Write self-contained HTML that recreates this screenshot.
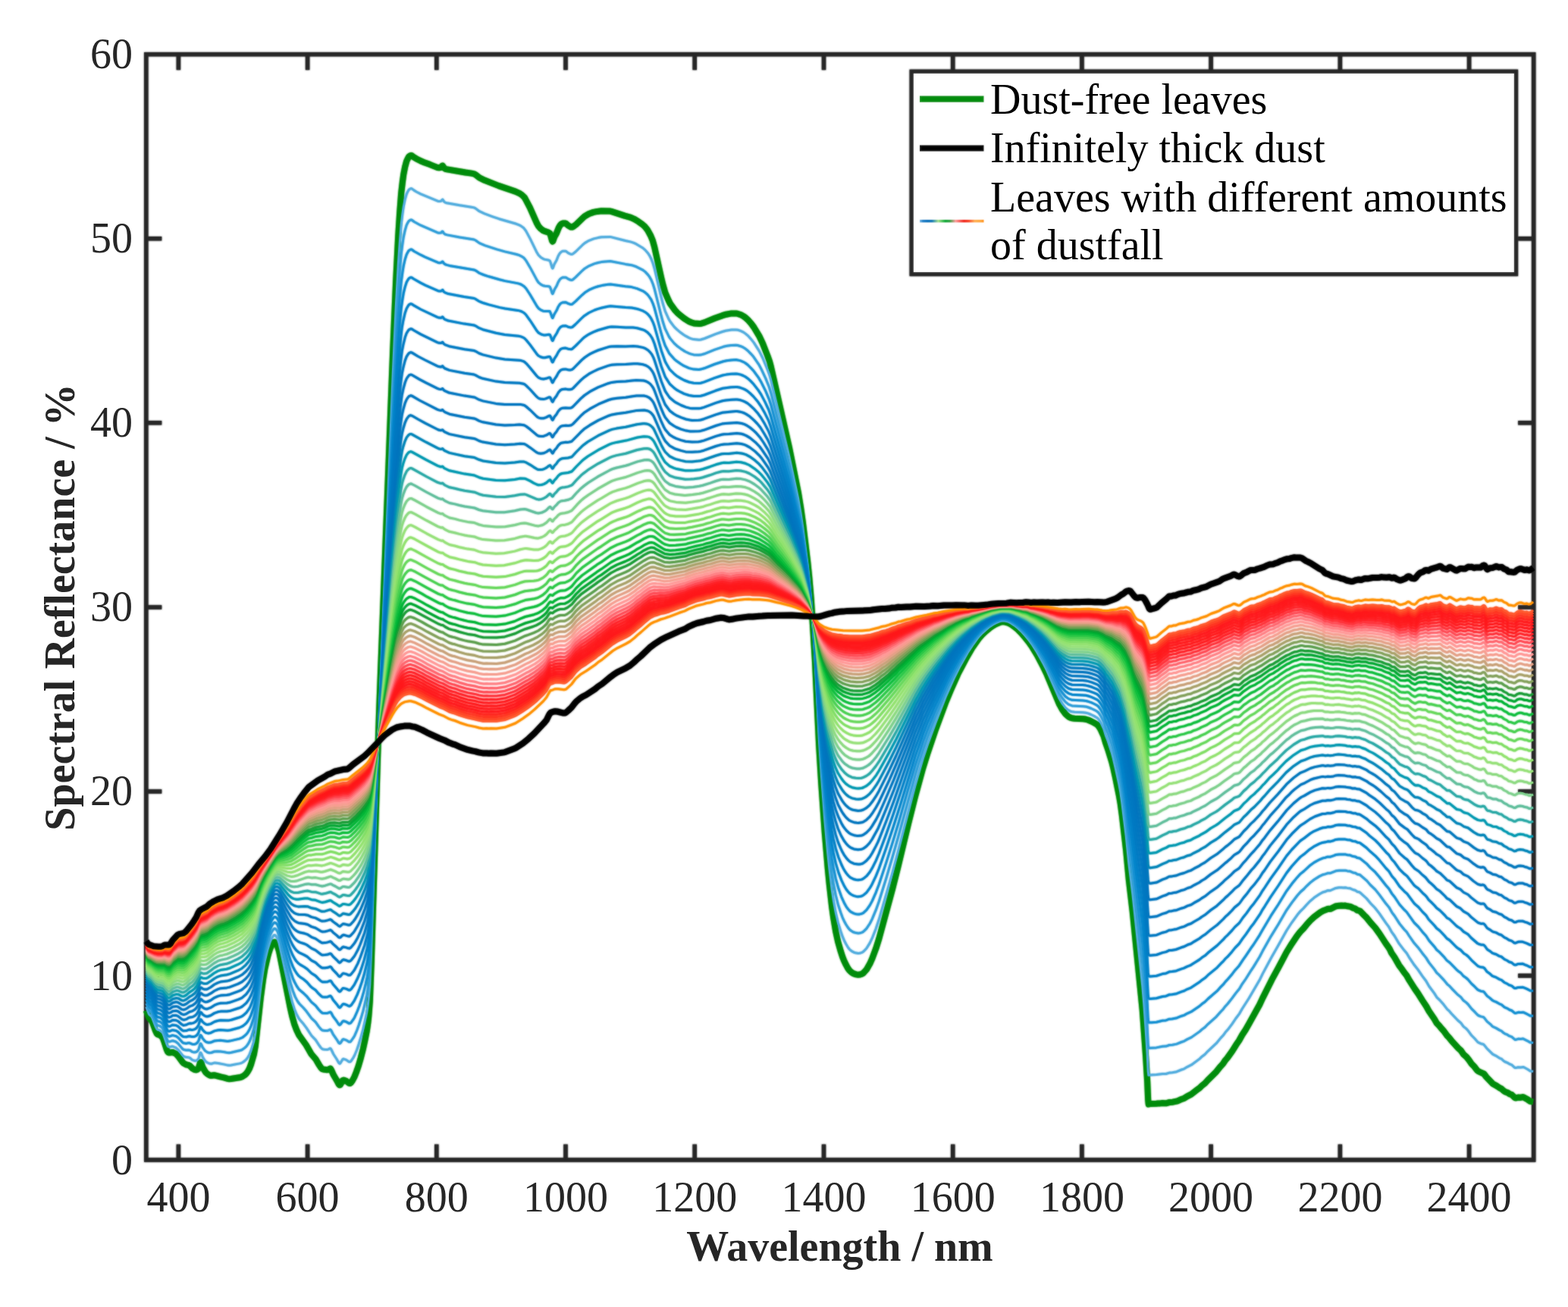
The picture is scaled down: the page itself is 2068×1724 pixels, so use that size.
<!DOCTYPE html>
<html lang="en"><head><meta charset="utf-8"><title>Spectral reflectance of leaves with dustfall</title>
<style>html,body{margin:0;padding:0;background:#fff}svg{display:block}</style></head>
<body>
<svg width="2068" height="1724" viewBox="0 0 2068 1724">
<rect width="2068" height="1724" fill="#fff"/>
<defs>
<filter id="bl" x="0" y="0" width="2068" height="1724" filterUnits="userSpaceOnUse"><feGaussianBlur stdDeviation="1.0"/></filter>
<linearGradient id="g" x1="0" x2="1" y1="0" y2="0"><stop offset="0" stop-color="#7ab8e6"/><stop offset="0.05" stop-color="#1a80c8"/><stop offset="0.12" stop-color="#0070bc"/><stop offset="0.19" stop-color="#0a78b8"/><stop offset="0.29" stop-color="#a6e08c"/><stop offset="0.4" stop-color="#00a830"/><stop offset="0.47" stop-color="#30a040"/><stop offset="0.56" stop-color="#ff9c9c"/><stop offset="0.69" stop-color="#f02014"/><stop offset="0.76" stop-color="#f84020"/><stop offset="0.86" stop-color="#ffb050"/><stop offset="0.95" stop-color="#ffa838"/><stop offset="1" stop-color="#ff9010"/></linearGradient>
<g id="fig">
<g stroke="#262626" stroke-width="5.5" fill="none">
<rect x="192.8" y="71.7" width="1829.9" height="1458.3"/>
<path d="M235.4 1530.0v-20.5M235.4 71.7v20.5M405.6 1530.0v-20.5M405.6 71.7v20.5M575.8 1530.0v-20.5M575.8 71.7v20.5M746.0 1530.0v-20.5M746.0 71.7v20.5M916.2 1530.0v-20.5M916.2 71.7v20.5M1086.5 1530.0v-20.5M1086.5 71.7v20.5M1256.7 1530.0v-20.5M1256.7 71.7v20.5M1426.9 1530.0v-20.5M1426.9 71.7v20.5M1597.1 1530.0v-20.5M1597.1 71.7v20.5M1767.4 1530.0v-20.5M1767.4 71.7v20.5M1937.6 1530.0v-20.5M1937.6 71.7v20.5M192.8 1287.0h20.5M2022.7 1287.0h-20.5M192.8 1043.9h20.5M2022.7 1043.9h-20.5M192.8 800.9h20.5M2022.7 800.9h-20.5M192.8 557.8h20.5M2022.7 557.8h-20.5M192.8 314.8h20.5M2022.7 314.8h-20.5"/>
</g>
<g fill="none" stroke-linejoin="round" stroke-linecap="butt">
<path d="M192.8 1332.8l3.4 9.5 1 1.5 2.6 2.4 1 1.7 4 11.1 2 4.3 1 1.1 2.4 .6 1 .5 2.6 2.4 1 1.4 1.4 3.8 3.6 11.1 1.4 3.3 1 .8 1 .2 1.6-.1 2-.5 1 .1 4 1.8 3 3.1 6 8.1 1.4 1.5 3.6 1.8 2.4 .5 1.6 .6 1 .8 2 2.2 1.4 1.2 2.6 1.5 2 .2 1.4-.5 1.6-1.5 2-7 .4-1.1 .6-.1 1 2 1.4 4.3 3.6 6.3 1 1.3 2 1.7 2 1.3 2 .8 1.4 0 2.6-.5 1.4 0 7.6 2.1 5.4 1.2 3.6 1.2 2 .4 3-.2 11-1.7 2-.5 2-.8 3-2 2-1.9 2-2.7 2-3.6 2.4-6.3 3.6-12.5 2-11.1 7-64.3 3-22.4 2.4-14.9 3.6-15.5 1.4-5.4 2-5.9 1.6-3.6 2-3.4 1.4-1.7 1-.3 1.6 1.4 2 3.5 2.4 8 14.6 73.7 2.4 10.9 3 10.8 3 8 3 6.3 9.6 13.4 7 12.2 5.4 6.1 4.6 7.8 2.4 3.7 1.6 1.7 1 .4 2 .4 4 .4 1-.2 2.4-1.4 .6 0 .4 .4 1 1.9 2.6 5.9 4.4 7.4 2.6 5 1 1 .4 0 .6-.4 3-5.4 1-.7 1.4 .3 2.6 1 3 2.4 1 .5 1 0 1-.8 2-2.8 2.4-4.4 3-7.5 2.6-7.4 3-10.4 3-11.9 2.4-11.1 2.6-13 1.4-9.6 1-8.9 1.6-20.5 2-52.1 8-261 2.4-72.6 18-471.1 4-93.1 3-58.9 2-31.1 2-26.1 1.6-13.9 1.4-10.5 2-10.2 2-7.4 1.6-3.4 1.4-2.5 1.6-1.2 1.4-.5 1 .3 2.6 2 3 1.9 6 3.1 5.4 2.3 7 2.5 10 4 2 .2 2.6-.4 1.4-2.1 .6-.2 2 3.1 1 .8 1.4 .6 25.6 4.4 8 1.1 3.4 .7 2 1.1 5 4 7 3.4 18.6 7.3 22 7.5 6 2.8 2.4 1.7 2 1.8 1.6 1.7 1.4 2.4 5.6 10.7 9.4 21.1 2 3.6 3 3.3 3 2.3 2 .9 5 1.6 2 1.3 1 2.6 2 7.2 .6 .9 .4-.4 2-5.6 2.6-4.5 3-7.5 2-3.5 1.4-1.4 2-1 3.6 0 1 .5 2.4 2.2 2.6 1.6 1.4 .7 1.6 0 1.4-.8 3.6-2.7 9-8.7 2.4-2.2 5.6-3.2 6-2.1 5-1 5.4-.6 11 .2 2 .4 17.6 5.7 8 2.2 4.4 2 6 3.6 5 3.6 2.6 2.2 2.4 2.8 2 2.7 4 7.3 2.6 6.2 2.4 8.8 8.6 39 2.4 10.1 3 10.7 4.6 10.6 2 4 6 8.3 3.4 3.7 4.6 4 4 3.2 3 2 4.4 2.7 3 1.2 3 .9 7 .7 2.6-.3 4.4-1.4 13.6-5.6 10-3.6 5-1.5 7-1.3 6 0 2.4 .5 4 1.4 3.6 1.9 2.4 1.8 3 2.7 4.6 5.2 3.4 4.6 7 11.6 4.6 9.6 6.4 16.4 2.6 7.2 2 7.5 24 106 12 59.7 3.4 20.9 2.6 18.5 6.4 52.6 2 19.4 2.6 30.3 2.4 36.6 2.6 41.7 5.4 113.7 3 49.5 4.6 65.8 4 47.1 2 20.6 3.4 30.1 2 14.4 3 17.7 3 13.8 3.6 12.6 2.4 7.4 2 5.1 2.6 5.4 2.4 4.4 2 2.8 2 1.9 2 1.6 2 1 3 1 2.6 .4 2-.2 2-.6 2-.9 1.4-1.2 3.6-4 4.4-7.6 3-6.6 5-13.5 4-12.7 17.6-65.1 7.4-29.4 14-58.4 8.6-34.4 10-36.6 6-19.3 10.4-30.9 13.6-36.9 7-16.9 9.4-21.1 11.6-22.1 7.4-12.6 8.6-12.3 4.4-5.1 5-4.8 4.6-3.8 5-3.5 3.4-2 6.6-2.7 2.4-.5 3 .2 4.6 1.3 2.4 1.2 5.6 3.8 5 4.2 4 4 5.4 6.4 4.6 5.8 4 5.7 7 11.5 8.4 16 4.6 9.7 16 38.4 4 7.3 4.4 6.2 4 3.5 2.6 1.3 2 .7 3.4 .4 11.6 .6 3.4 .5 2.6 .7 4 1.7 4.4 2.3 3.6 2.1 2 2 3 4.9 4 8.8 2.4 8.6 3 8.4 5 16.3 2 7.8 3 13.8 4.6 22.7 2 11.5 2 14.8 5.4 46.7 3.6 38.5 5 42.5 13 129.7 4.4 61 2 33.6 1 23.6 .6 5.8 .4-.3 1.6-.3 8.4-.2 2.6-.4 2.4 0 3-.4 4.6 .3 5-1.4 4-.2 6-1.3 6-2.7 3-1 4-2.6 5.4-2.7 8.6-6.7 2.4-1.7 3-3 4-3.2 3.6-4 11.4-11.2 5.6-7 3.4-3.8 3-4.5 2.6-2.9 6.4-9 5-8.1 4-5.8 4-7.2 4.6-7 4.4-7.7 14-25.4 4-8.6 12-23.9 9-16.5 10.6-20.2 7-11.3 7-10.4 2.4-3.2 2-2.4 4-4.1 4-4.9 5-5.6 5-4.6 8-6 4-2.2 3.6-1.3 2-1 1-.2 2 .1 1-.1 7.4-3.6 4-.5 3-.1 2.6 .2 2.4-.2 3 .7 4 .6 3 1.7 3 .9 3 2.2 2.6 .6 1 .5 5.4 5.6 3 2.8 5.6 7.1 6 6.6 5.4 7.5 8.6 13.2 3.4 4.7 1.6 2.6 2.4 5.1 4 5.8 6 10.5 4 5.4 3 4.4 3 3.7 3.6 6.4 7 10.9 4.4 6.3 5.6 9 5.4 8.1 3.6 6.6 7 10.2 3 5.2 3.4 3.6 2.6 3.2 3.4 3.7 4.6 6.3 2.4 2.5 3 3.8 9 9.9 3.6 3.2 3.4 5 4 3.5 3 3.8 3.6 5.2 4 4.1 3.4 4.6 1.6 1.2 4 1.9 2.4 .9 1 .6 3 4 8.6 9 4 2.2 5 3.3 2.4 1.1 3 2.8 1.6 1 3.4 1.3 2.6 1.7 3 1.1 4 3.9 1.4 .4 3-.8 3.6 .2 2.4-.6 1 .1 6 3.4 3 2.1 4 .8" stroke="#008c0a" stroke-width="8.0"/>
<g stroke-width="3.0">
<path d="M192.8 1328l3.4 9.3 1 1.4 2.6 2.3 1 1.6 4 10.7 2 4 1 1 2.4 .6 1 .5 2.6 2.3 1 1.3 1.4 3.5 3.6 10.5 1.4 3.1 1 .8 1 .2 1.6-.2 2-.6 1 0 4 1.5 3 2.7 6 7.6 1.4 1.2 3.6 1.3 2.4 .1 1.6 .4 1 .5 2.4 2.2 2.6 1.2 1.4 .3 1.6-.2 1.4-.8 1.6-1.7 2-6.9 .4-1.1 .6-.1 1 1.7 1.4 3.9 2 3.4 1.6 2.1 2.4 2.1 3.6 1.4 2 .1 3.4-1.1 1.6 0 4 .4 8.4 1.6 4 1 2 .2 2.6-.3 11-2.1 2-.5 2-.9 2.4-1.7 2.6-2.3 2-2.7 2-3.4 2.4-6 3.6-11.9 2-10.5 7-60.1 3-21 2.4-14.1 3.6-14.7 3.4-10.8 1.6-3.5 2-3.4 1.4-1.7 1-.4 1.6 1.1 2 3.1 2.4 7.1 14.6 66.8 2.4 9.8 3 9.6 3 7.2 3 5.5 2 2.6 4 4.5 4 5.3 6.6 10.1 5.4 5.6 4.6 7.1 2.4 3.3 1.6 1.5 1 .4 2 .3 4 .2 1-.2 2.4-1.3 .6 0 .4 .4 1 1.7 2.6 5.5 4.4 6.8 2.6 4.6 1 1 .4 0 .6-.4 3-5.1 1-.6 1.4 .3 2.6 1 3 2.2 1 .4 1-.1 1-.8 3.4-5 1.6-3 3-7.3 2.4-7.2 3-9.9 2.6-9.5 2.4-10.5 2.6-12.1 1.4-9.1 1-8.4 1.6-19.1 2-48.7 10-299.8 18.4-456.4 4-87.9 3-55.8 2-29.5 2-24.7 1.6-13.3 1.4-9.9 2-9.8 2-6.9 1.6-3.3 1.4-2.4 1.6-1.2 1.4-.5 1 .3 2.6 2 3.4 2.1 5.6 2.9 22.4 9.3 2 .3 2.6-.3 1.4-1.9 .6-.2 2 3 1.4 1 2 .6 17 3.1 15.6 2.4 3.4 .7 2 1 5 3.8 7 3.2 10.6 3.9 8.4 2.9 22.6 6.6 3.4 1.4 2.6 1.2 4 2.9 1.4 1.8 1.6 2.3 5.4 10 9 18.4 2 3.2 3 2.9 3 1.9 2 .8 5.6 1.1 1.4 .8 1 2.5 2 6.7 .6 .8 .4-.4 2-5.3 3-5.4 2-5.1 2-3.5 1.6-1.7 1.4-1 1-.3 3.6-.1 1 .4 2.4 2 2.6 1.3 1.4 .5 1.6-.1 1.4-.9 3-2.4 9-8.8 3-2.6 5.6-3.3 6.4-2.4 5.6-1.3 4.4-.8 11.6-.4 20 5.1 7.4 1.6 3 1 3.6 1.6 8.4 5 3.6 2.9 4 4.7 2 3.1 2 3.8 2.4 6.3 2 6.7 8.6 36.7 2.4 9.4 3 10.1 5 10.9 1.6 2.7 5.4 7.1 3.6 3.5 5 4.2 3.4 2.5 3 1.9 4.6 2.4 2.4 1 3.6 1 7 .7 2.4-.3 5-1.5 14.6-5.8 9-3.2 4.4-1.3 7.6-1.2 6-.1 2.4 .4 4 1.3 3.6 1.8 2.4 1.7 3 2.5 4 4.3 4 5 7 11 4.6 9.1 6.4 15.5 2.6 6.9 2 7.1 24 100.4 12 56.5 3.4 19.8 2.6 17.5 6.4 49.8 2 18.3 2.6 28.6 2.4 34.6 2.6 39.3 5.4 107.3 3 46.5 4.6 61.9 4 44.1 2 19.3 3.4 28.2 2 13.6 3 16.5 3 12.9 3.6 11.8 2.4 7 2 4.8 2.6 5 2.4 4.1 2 2.7 2 1.8 2 1.4 2 1 3 .9 2.6 .4 2-.2 2.4-.7 1.6-.7 1.4-1.1 3.6-3.8 4.4-7.1 3-6.2 5-12.7 4-11.9 17.6-61.2 7.4-27.8 22.6-87.2 10.4-36.1 6-18 10.6-29 14-36 10.4-23.1 7-14.1 11-19.6 7.6-11.5 5-6.9 3-3.7 4-4.1 5-4.5 4.4-3.6 4.6-3 3.4-1.8 6.6-2.7 2.4-.4 3 .2 4.6 1.1 2.4 1.2 5.6 3.6 5 3.9 4 3.8 6 6.6 4 4.9 4 5.4 7 10.9 8.4 15.1 4.6 9.1 16 36.3 4 6.9 4.4 5.9 4 3.2 2.6 1.3 2 .6 3.4 .4 11 .5 4 .5 2.6 .7 4 1.6 4.4 2.1 3.6 2.1 2 1.8 3 4.7 4 8.3 2.4 8.2 3 7.8 5 15.2 2 7.4 3 13 4.6 21.2 2 10.7 2 13.9 5.4 43.7 3.6 36.2 5 40.2 13 122.1 2 23.7 2.4 34 2 31.7 1 22.3 .6 5.5 2-.3 8.4-.4 8-1.2 4.6 .1 5-1.6 3.4-.2 5.6-1 6.4-2.7 3.6-1.2 4-2.5 5.4-2.6 11-8.1 3-2.9 4-3 3.6-3.9 11.4-10.6 6-7.3 3-3.1 3-4.2 3-3.3 6-8 4.6-6.8 5-6.7 3.4-6.1 9-14 14-23.9 4-8.2 11.6-21.6 9.4-16.4 10.6-19.1 7-10.7 7.4-10.3 4-4.7 4-3.8 4-4.5 5-5.2 5-4.2 7.6-5.1 4.4-2.3 3.6-1 2-1 1-.2 2 .2 1-.2 7-3.1 4-.7 3.4 0 2.6 .2 2.4-.2 3 .7 3.6 .4 3.4 1.7 3 .7 3 2 2.6 .6 1 .5 8.4 7.7 5.6 6.7 5.4 5.6 6 7.6 8.6 12.5 3.4 4.4 4.6 8.1 3.4 4.6 6 10.2 7 9.1 3 3.4 3 5.1 7 10.5 5 6.3 5.6 8.2 5 6.7 4 7 7 9.4 3 4.9 3.4 3.3 6 6.7 4.6 6 2.4 2.1 3 3.6 8.6 9 4 3.4 3.4 4.7 3 2.3 1.6 1.5 2.4 2.9 3.6 5 4 3.9 4 4.7 1 .7 3.4 1.6 2.6 .6 1.4 .8 3.6 4.6 8 7.9 4 2 5 3.2 2.4 .9 3 2.8 1.6 1 3.4 1.4 2.6 1.6 3 1.1 4 3.7 1.4 .3 3-.9 3.6 .2 3-.5 1 .3 5 2.8 3.4 2.2 4 .6" stroke="#50acde"/>
<path d="M192.8 1323.5l3 8 1 1.7 3 2.8 1 1.6 4 10.1 2 3.8 1 1 2.4 .6 1 .4 2.6 2.1 1 1.3 1.4 3.3 3.6 9.8 1.4 3 1 .8 1 .1 1.6-.2 2-.8 1-.1 4 1.2 3 2.4 5.4 6.5 1 1 1 .6 3.6 .8 2.4-.2 1.6 .1 1 .4 2 1.4 1.4 .6 2 .5 2-.3 1.6-.8 2-2.4 2-6.8 .4-1.1 .6-.1 1 1.5 1.4 3.4 3 4.2 2.6 1.9 1.4 .7 2 .4 2.6-.2 4-1.5 4-.2 4 .3 5.4 .7 3.6 .8 2.4 .1 3-.5 10.6-2.4 2-.5 2-1 2.4-1.7 2.6-2.3 2-2.6 2-3.4 2.4-5.7 3.6-11.3 2-9.9 7-56.4 3-19.7 2.4-13.2 3.6-14 3.4-10.4 1.6-3.4 2-3.3 1.4-1.8 1-.4 .6 .1 1 .7 2 2.6 2.4 6.4 9.6 40.1 5.4 22.2 3 9.9 3 7.8 3 5.8 2.6 3.6 5 5 4.4 5.1 6.6 9.1 5.4 4.9 4 5.8 3 3.6 2 1.6 3 .5 3.6 0 3.4-1.5 .6 0 .4 .3 1 1.6 2 4.2 5 7.1 2.6 4.3 1 .9 .4 0 1-.9 2.6-4.2 1-.6 1.4 .3 2.6 1 3.4 2.2 1.6 0 1-.8 3.4-4.8 1.6-2.8 3-6.9 2.4-6.8 3-9.4 2.6-9 2.4-9.8 2.6-11.4 1.4-8.6 1-7.8 1.6-18 2-45.5 10-280.7 18.4-429.8 4-83.2 3-52.7 2-27.9 2-23.5 1.6-12.6 1.4-9.4 2-9.3 2-6.7 1.6-3.1 1.4-2.3 1.6-1.1 1.4-.5 1 .3 3 2.3 8.6 4.7 22.4 9.7 2 .3 2.6-.2 1.4-1.7 .6-.1 .4 .5 1 1.8 1 1 1 .6 2.6 .8 16.4 3.1 19 3 2 1 5 3.6 7.6 3.2 15.4 5.1 10.6 3 15.4 3.6 3.6 1.2 2.4 1.1 3.6 2.3 1.4 1.6 1.6 2.1 5.4 9.1 9 16.7 2 3 3 2.5 3 1.6 2.6 .6 5 .4 1.4 .6 1 2.3 2 6.3 .6 .7 .4-.4 2-5.1 3-5.1 2-4.8 2-3.4 1.6-1.6 2-1.1 4-.2 1 .3 2.4 1.7 2.6 1.1 1.4 .4 1.6-.2 1-.6 3.4-3 9-8.8 3-2.6 5.6-3.4 7-2.9 5-1.4 4.4-.9 11.6-1.1 20 3.9 8 1.3 6.4 2.1 8 4 3.6 2.6 4 4.2 2 2.8 2 3.5 2.4 5.8 2 6.4 8.6 34.3 2.4 8.9 3 9.4 5 10.2 1.6 2.5 5.4 6.5 3.6 3.3 5 3.7 4 2.7 2.4 1.4 4.6 2.1 2 .8 4 1 7 .4 2.4-.2 4.6-1.3 13.4-5.4 12-4.1 4.6-1 5.4-.8 6.6-.2 2 .2 4 1.2 3.4 1.5 3 1.9 3 2.4 4 4.1 3.6 4 7 10.2 3.4 6.3 5.6 12 4.4 10.9 2.6 8.2 24 95.1 11.4 51.2 3.6 18 3 19.6 6 43.2 2.4 21.2 2 21.2 3 38.5 2.6 37.2 5.4 101.1 3 43.8 4.6 58.1 4 41.4 2 18.1 3.4 26.5 2 12.7 3 15.4 3 12.2 3.6 11 2.4 6.6 2 4.4 2.6 4.8 2.4 3.8 2 2.5 2 1.7 2 1.3 2 1 3 .8 2.6 .4 2-.2 2.4-.7 1.6-.6 1.4-1.1 3.6-3.5 4.4-6.7 3-5.8 5-12 4-11.2 9.6-30.7 8.4-28.5 7-24.5 22.6-82.1 4.4-15 6.6-20.4 5-14.2 9.4-25 12.6-30.5 5-11.6 9-18.4 7-13.1 11-18.4 7-10.1 5-6.5 3.4-4 4-3.9 5-4.2 4.6-3.4 4.4-2.7 3-1.6 6.6-2.4 2.4-.5 3 .2 4.6 1.1 2.4 1 5.6 3.4 5.4 4.2 3.6 3.2 6.4 6.7 3.6 4.1 4.4 5.8 7.6 11.2 9 15.4 3 5.9 14 30.2 2.4 4.9 3.6 5.7 4.4 5.4 4 3.2 4.6 1.8 15 .8 4 .6 2.4 .7 4 1.5 4 1.8 3.6 2 2 1.7 3 4.4 4 7.9 2.4 7.6 3 7.4 5 14.3 2 6.8 3 12.2 4.6 19.9 2 10 2 13 5.4 41 3 29.6 5.6 42.4 13 115.1 2 22.3 2.4 32.2 2 29.9 1 21.1 .6 5.3 10.4-.5 8-1.6 4.6-.2 4.4-1.6 4-.3 5.6-1.1 6.4-2.6 3.6-1.2 4-2.4 5.4-2.5 11-7.8 3-2.7 4-2.9 4-4.2 11-9.7 6-6.9 3-3 3-4 3-3.2 6-7.6 4.6-6.3 5-6.1 3.4-5.9 5-7.1 7-11.2 3-4.4 8-13.1 4-7.7 11-19.5 9.6-15.6 11-18.9 7-10 7-9.1 4.4-5 4.6-4 3.4-3.7 5-4.7 5-3.9 7-4.3 4.6-2.2 3.4-.8 2.6-1.1 4-.1 7-2.9 4.4-.6 8.6 .1 2.4 .6 3.6 .4 3.4 1.6 3 .5 3 1.8 2.6 .5 1 .5 9 7.7 4.4 5.2 6.6 6.3 5.4 6.7 8.6 11.7 4 4.8 4 7 3.4 4.4 6.6 10.4 6.4 7.8 3 3.1 3 4.7 7 10.1 5 5.6 5.6 7.5 5 6.2 4 6.5 7 8.7 3 4.5 3.4 3.1 6 6.4 4.6 5.7 3 2.4 3 3.4 7 7.2 5 4.1 3.4 4.4 3.6 2.6 2 1.9 5 6.3 4.4 4.3 3.6 3.9 1 .7 3.4 1.4 2.6 .5 1.4 .7 4 5.2 4.6 3.8 2.4 2.6 1.6 .9 3.4 1.5 4.6 2.8 2.4 .9 3 2.8 1.6 1 3 1.1 3 2 3 1 4 3.5 1.4 .2 3.6-1.1 3 .2 3-.4 5.4 2.7 4 2.3 4 .5" stroke="#2d9dd8"/>
<path d="M192.8 1319l3 7.8 1 1.7 3 2.7 1 1.5 4 9.6 2 3.6 1.4 1.2 2 .3 1 .5 2.6 1.9 1 1.1 1.4 3.1 3.6 9.3 1.4 2.8 1 .8 1.6 .1 3-1.2 1-.2 4.4 1.1 2.6 1.9 5 5.5 2 1.7 4 .6 2.4-.6 2 0 3 1.4 2 .3 1.6-.1 1.4-.5 1.6-1.1 2-2.6 2-6.7 .4-1 .6-.2 1 1.3 1.4 3 3 3.6 1 .8 1.6 .8 2.4 .5 2.6-.2 5-2.1 4.4-.6 3.6-.1 9.4 1.1 3-.3 12.6-3 2.4-.9 1.6-.7 2.4-1.9 2.6-2.2 2-2.6 2-3.3 2.4-5.5 3.6-10.7 2-9.4 7-52.9 3-18.5 2-10.2 3.4-13.9 3.6-10.4 2-4.6 1.4-2.5 1.6-2.1 1-.8 .4-.2 1.6 .6 2 2.2 2.4 5.7 10 38.1 5 18.1 3 8.8 2.6 5.8 3 5.3 2.4 3.4 2 1.9 4 3.3 4 3.8 6.6 8.1 5.4 4.4 4 5.2 3 3.3 2 1.5 3 .3 3.6-.2 3.4-1.3 .6-.1 .4 .3 1 1.4 2 3.9 5 6.6 2.6 4 1 .8 .4 0 1-.9 2.6-3.8 1-.6 1.4 .3 2.6 .9 3.4 2 1.6-.1 1-.7 3.4-4.7 1.6-2.7 3.4-7.7 2.6-6.7 3-9 3-10.4 2.4-9.8 2-9.1 2-13 1.6-16.8 2-42.6 10-263 18.4-404.7 4-78.6 3-49.9 2-26.4 2-22.2 1.6-12 1.4-9 2-8.8 2-6.3 1.6-3 1.4-2.3 1.6-1 1.4-.5 1 .3 3 2.3 8.6 4.7 6 2.9 17 7.3 2 .3 2-.1 1.4-1.5 .6-.2 .4 .5 1 1.8 1 .9 1 .7 2.6 .8 3 .8 13.4 2.4 19 3.1 2 .9 4 2.8 2 1.1 4.6 1.8 7 2.3 14 4 7.4 1.8 16 3 3 .8 2.6 1.1 3.4 2.2 2.6 2.8 5.4 8.3 9 15.2 2 2.7 3 2.1 3 1.4 2.6 .4 5-.2 1.4 .4 1 2.1 2 5.9 .6 .7 .4-.5 2-4.8 3-4.9 2-4.6 2-3.1 1.6-1.6 2-1 4-.3 1 .3 2.4 1.4 2.6 .8 1.4 .3 1.6-.3 4.4-3.8 8.6-8.4 3.4-3 5.6-3.6 7-3 5-1.6 5-1.2 8-1.3 3.4-.3 19.6 2.8 8 .8 7.4 2 7.6 3.2 3.4 2.3 2 1.7 2 2.2 3.6 5.2 2.4 5.4 2 5.9 8.6 32.2 2.4 8.3 3 8.8 5 9.5 1.6 2.3 5.4 6 3.6 3 5 3.4 4.4 2.7 6.6 2.9 6 1.5 7 .3 2.4-.3 4.6-1.3 13.4-5.3 11.6-3.8 4.4-1 6-.8 6.6-.3 2 .3 4 1 3.4 1.4 2.6 1.4 3.4 2.6 4 3.9 4 4.4 6.6 9.1 3.4 5.9 5.6 11.3 4.4 10.4 2.6 7.7 24 90.1 11.4 48.4 3.6 17.1 3 18.6 6 40.8 2.4 20.1 2 20 3 36.4 2.6 35.1 5.4 95.3 3 41.2 4.6 54.6 4 38.9 2 17 3.4 24.8 2 11.9 3 14.5 3.6 13 4 11.3 4 8.7 2.4 4.3 2.6 3.4 2 2.2 2 1.5 3.4 1.7 3 .8 2.6 .4 2-.2 2.4-.6 1.6-.6 1.4-1 3.6-3.4 4.4-6.2 3-5.5 5-11.3 4-10.5 9.6-28.9 9-28.5 8-26.5 11.4-40 10-33.8 10.6-31.8 5-13.3 9.4-23.6 12.6-28.8 5-10.9 9-17.4 7-12.4 11-17.3 7-9.6 5-6.1 3.4-3.8 4-3.7 5-4 4.6-3.2 4.4-2.6 3-1.5 6.6-2.3 2.4-.5 3 .2 4.6 1 2.4 1 5.6 3.2 5.4 3.9 3.6 3 6.4 6.3 3.6 3.9 4.4 5.5 7.6 10.6 9 14.5 3 5.6 14 28.5 2.4 4.7 3.6 5.3 4.4 5.2 4 2.9 4.6 1.7 14.4 .7 4 .5 3 .8 4 1.4 4 1.8 3.6 1.8 2 1.7 3 4.1 4 7.5 2.4 7.2 3 6.9 5 13.3 1.6 4.7 3 11.2 5 20.6 2 9.3 2 12.2 5.4 38.4 3 27.8 5 36.2 13.6 112.5 2 21.1 2.4 30.4 2 28.4 1 19.9 .6 5 4.4 .1 6-.5 8-2 4.6-.4 4.4-1.7 3.6-.2 6.4-1.3 6-2.5 3.6-1.1 4-2.3 5-2.1 11.4-7.8 3-2.6 4-2.8 4-4 12-10.3 5-5.6 3-2.9 3-3.8 3-3.1 6-7.1 4-5.3 5-5.5 4.6-7 4.4-6.2 7-10.6 3-4.1 8-12.4 4-7.2 11-18.5 9.6-14.7 11-17.9 7-9.5 7.4-8.9 4-4.3 4.6-3.6 8.4-7.8 5-3.6 7-3.8 4.6-1.9 3.4-.7 2.6-1 4 0 4.4-1.6 2.6-1.1 4.4-.6 8.6 .2 2.4 .6 3.6 .4 3.4 1.5 3 .3 3 1.7 2.6 .4 1 .4 8.4 6.7 5 5.4 6.6 5.9 5.4 6.3 8.6 11 4 4.6 4 6.6 3.4 4.1 6.6 10 6.4 7.2 3 2.8 10 14.1 5.6 5.5 5 6.3 5 5.6 4 6.2 7 8 3 4.2 4 3.3 6.4 6.9 3 3.8 3.6 2.6 9 9.3 2.4 2.1 3 2 4 4.7 3.6 2.4 2.4 2.1 4.6 5.5 4.4 4.1 3.6 3.7 1 .6 3.4 1.4 2.6 .3 1.4 .6 4 5.3 4 3 3 2.8 1.6 .9 3.4 1.3 4.6 2.7 2.4 .8 4 3.5 3.6 1.5 3 1.9 3 1 4 3.3 1.4 .1 3.6-1.1 3 .1 3-.2 5.4 2.5 4 2.2 4 .2" stroke="#1490d2"/>
<path d="M192.8 1314.7l3 7.6 1 1.7 3 2.6 1 1.4 3.4 8.1 2 3.8 1.6 1.6 2.4 .5 1.6 .7 3 2.6 1.4 2.8 3.6 8.8 1.4 2.6 1 .7 1 .1 1-.1 2.6-1.3 1-.2 4.4 .8 2.6 1.6 5 5.1 2 1.4 4 .2 2.4-.8 2-.3 3 .9 1.6 0 2-.3 1.4-.8 1.6-1.2 2-2.9 2-6.5 .4-1 .6-.3 1 1.1 1.4 2.7 2.6 2.7 2 1.3 2.4 .5 3.6-.5 5-2.5 5-1.1 3-.3 9.4 .7 3.6-.4 12-3.3 4-1.8 2.4-1.8 2.6-2.3 2-2.6 2-3.2 2.4-5.2 3.6-10.3 2-8.8 7-49.7 3-17.4 2-9.7 3.4-13.2 3.6-9.9 2-4.5 1.4-2.4 1.6-2.2 1.4-1.1 1.6 .4 2 1.9 2.4 4.9 1.6 4.6 8.4 29.7 5 16.2 3 7.8 2.6 5.1 3 4.6 2.4 2.8 1.6 1.3 5 3.4 4 3.4 5.4 6.2 1.6 1.3 4.4 3 4 4.7 3.6 3.4 1.4 .9 3.6 .2 3.4-.3 3-1.3 1 .2 1 1.3 2 3.6 5 6 2.6 3.7 1 .8 1-.3 3-4.1 1-.5 1.4 .2 2.6 .9 3 1.6 1.4 .2 1-.5 1-.9 4-5.7 4-8.2 3-7.6 3-8.8 3-10 4-16.1 2-12.2 1.6-15.8 2.4-51.7 9.6-234.5 18.4-381.2 4-74.2 3-47.2 2-25 2-21 1.6-11.3 1.4-8.6 2-8.3 2-6.1 1.6-2.9 1.4-2.1 1.6-1 1.4-.4 1 .3 2.6 1.8 9 5.1 6.4 3.2 16.6 7.4 2 .3 2 0 1.4-1.4 .6-.2 1.4 2.3 1.6 1.2 4.4 1.7 21 3.9 13 2 2 .9 4 2.7 2 .9 4.6 1.8 7 2.1 14.4 3.7 7 1.4 16.6 2.4 3 .7 2.4 .9 3 1.7 2.6 2.6 5.4 7.5 9 13.8 2 2.3 3.6 2.1 3 .9 2.4 0 4.6-.6 1.4 .2 1 1.9 2 5.5 .6 .6 .4-.4 2-4.7 3-4.6 2-4.3 1.6-2.3 1.4-1.8 2.6-1.3 4-.3 1 .2 2.4 1.2 2.6 .6 1.4 .1 1.6-.4 4-3.5 8-8 4-3.6 6-3.9 7.4-3.5 4.6-1.6 5-1.4 8-1.7 3.4-.5 8 .6 12 1.2 8 .4 5 .9 3 .8 7 2.5 3.6 2.1 2 1.6 2 2.1 2 2.6 1.4 2.4 2 4.1 2 5.5 9 31.8 5 14.4 1.6 2.9 4.4 7.5 5.6 5.6 3.4 2.9 5.6 3.4 4.4 2.4 6.6 2.5 6 1.3 7 .2 2.4-.3 4.6-1.3 13.4-5.3 11-3.6 4.6-.9 6.4-.8 6.6-.3 2 .2 4 .9 3.4 1.4 2.6 1.3 3.4 2.4 3.6 3.2 4.4 4.7 6 7.8 3.6 5.5 5 9.5 5 10.6 2.4 6.9 24.6 86.9 11.4 45.9 3.6 16.1 3 17.6 6 38.6 2.4 19.1 2 18.9 3 34.3 2.6 33.1 5.4 89.9 3 38.8 4.6 51.3 4 36.6 2 15.9 3.4 23.3 2 11.1 3 13.6 3.6 12.2 4 10.5 4 8.2 2.4 4 2.6 3.2 2 2.1 2 1.4 3.4 1.6 3 .8 2.6 .3 2-.1 2.4-.6 1.6-.6 1.4-1 3.6-3.1 4.4-5.9 3-5.2 5-10.6 4-9.8 9.6-27.3 9-26.8 9-28.1 20.4-66.4 10.6-29.9 5.4-13.8 9-21 12.6-27.2 5-10.3 9.4-17.3 7-11.6 10.6-15.5 7-9.1 5-5.7 3.4-3.7 3.6-3 5-3.9 5-3.4 4-2.3 3.4-1.6 6-2.2 3-.5 3 .2 5 1 2 .8 5.6 3 5.4 3.7 3 2.4 7 6.4 3.6 3.7 4.4 5.2 7.6 10 9 13.7 3 5.3 14 27 2.4 4.4 3.6 5 4.4 4.8 4 2.8 4.6 1.6 14.4 .7 4 .4 3 .7 4 1.4 4 1.7 3.6 1.7 2 1.6 3 3.9 4 7 2.4 6.8 3 6.5 5 12.5 1.6 4.4 3 10.5 5 19.2 2 8.7 2 11.5 5.4 35.9 3 26.1 5 34.3 13.6 106.2 2 19.8 2.4 28.9 2 26.9 1 18.8 .6 4.8 2 .4 8.4-.7 8-2.3 4.6-.6 4.4-1.9 3.6-.2 6-1.1 6.4-2.6 3.6-1.1 4-2.2 5-2 11-7.2 3.4-2.9 4-2.6 4-3.9 12-9.9 5-5.4 3-2.8 3-3.6 2.6-2.3 6-6.8 4-5 5.4-5.5 4.6-6.7 4.4-5.9 7-10.1 3.6-4.5 8-11.8 3.4-6.1 3-4.5 7.6-12.2 10-14.6 11-17 7-9 7-7.8 4.4-4.6 4.6-3.3 7.4-6.4 6.6-4.3 6.4-3.2 4-1.5 4-.6 3-1 3.6 .1 4-1.2 3-1.3 4-.5 8.4 .2 3 .7 3.6 .3 3.4 1.4 3 .2 3 1.5 2.6 .3 1 .5 8.4 6.2 5 5 6.6 5.6 5.4 5.8 8.6 10.5 4 4.2 4 6.4 3.4 3.7 6.6 9.7 6.4 6.7 3.6 3.1 9.4 12.8 1.6 1.5 4 3.3 5.4 6.4 4.6 4.5 3.4 5.3 7.6 8 3 3.8 4 3 6.4 6.7 3 3.7 3.6 2.2 9 9.1 2.4 1.9 3 1.8 4.6 4.9 3 1.7 2.4 2 4.6 5.1 8 7.4 1 .6 3.4 1.2 2.6 .2 1.4 .6 1 1 3 4.2 4 2.8 3 2.7 1.6 .7 3.4 1.2 4.6 2.7 2.4 .7 4 3.4 3.6 1.6 2.4 1.7 3.6 1.1 3 2.6 1 .6 1.4 0 2-.9 1.6-.3 6-.1 5 2.1 4.4 2.4 4 .1" stroke="#0585cb"/>
<path d="M192.8 1310.6l2.4 6.3 1 2 1 1.2 2.6 2 1 1.4 3.4 7.6 2 3.6 1.6 1.5 3.4 .9 3.6 2.7 1.4 2.6 3.6 8.3 1.4 2.5 1 .6 1 .1 1-.2 2.6-1.4 1-.3 4.4 .5 2.6 1.4 5 4.7 2 1.2 4-.2 2.4-1.1 2-.5 2.6 .5 1.4-.1 2-.5 1.6-.8 2-1.8 2-3.1 2-6.3 .4-1 .6-.3 1 .9 1.4 2.4 2.6 2.3 2 1 2 .3 4-.9 5-2.8 4-1.3 4-.7 8.4 .3 3-.2 3-.7 9.6-2.9 3-1.1 2-1.1 2.4-1.9 2.6-2.3 3.4-4.8 1.6-2.6 1.4-3.3 3-8.2 1.6-5.2 1-4.7 6.4-43.8 3.6-19.4 2.4-11.1 3.6-12.1 3.4-9.2 1.6-3.2 2.4-3.9 1.6-1.6 1-.3 1.4 .6 1.6 1.2 1 1.4 1.4 2.9 1.6 4.1 8 25.1 5 14.6 3 7.2 3 5.4 2.4 3.3 2.6 2.6 2 1.5 5.4 3.1 4 2.8 5.6 5.5 5.4 3.3 4 4.2 3.6 3.2 1.4 .7 3.6 .1 3.4-.4 3-1.2 1 .1 1 1.2 2 3.3 5 5.6 2.6 3.4 1 .7 1-.3 3-3.8 1-.5 4 1 3 1.5 1.4 .2 1-.6 1-.9 4-5.5 4-7.8 3.6-8.5 2.4-7 3-9.4 4-15.2 2-11.6 1.6-14.8 2.4-48.4 9.6-219.8 18.4-358.9 4-70.1 3-44.6 3.6-39 1.4-12.1 1.6-8.8 2.4-10.4 2-5.8 1.6-2.7 1.4-2.1 1-.7 1.6-.7 1.4 .4 2.6 1.8 9 5.1 22 10.4 2 .7 2.4 .2 .6 0 1.4-1.3 .6-.1 1.4 2.1 1.6 1.3 4.4 1.7 21 4.1 13 1.9 2 .8 4.6 2.9 5 2 17.4 4.6 11.6 2.1 18 1.9 3 .6 2.4 .9 2.6 1.4 2.4 2.5 5 6.2 8.6 11.8 2 2.3 3 1.7 3.4 1 2.6 0 5-1.2 1.4 0 1 1.7 2 5.2 .6 .5 .4-.3 2-4.5 3-4.4 2-4.1 1.6-2.2 1.4-1.7 2.6-1.2 4-.4 1 .2 2.4 .9 2.6 .4 1.4 .1 1.6-.5 4.4-4.1 8.6-8.6 3.4-3 4-2.7 3-1.7 4.6-2.2 6-2.4 13-3.7 2.4-.5 2.6-.2 7 .2 11.4 .7 9.6 .1 5.4 .7 7 1.9 3.6 1.5 3.4 2.4 3 3.1 2.6 3.8 1.4 2.9 2 5.1 9 29.8 5 13.4 1.6 2.7 4.4 6.9 5.6 5.2 3.4 2.6 5.6 3.1 4.4 2.2 6.6 2.1 6 1.1 7 0 2.4-.3 4.6-1.3 15-5.7 9.4-3 11-1.5 6-.4 2 .1 4 .8 3 1 3 1.3 3.6 2.2 3.4 2.9 4.6 4.4 6 7.2 3.4 5 5.6 9.8 5 10.1 2.4 6.6 24.6 82.2 11.4 43.4 3.6 15.3 3 16.7 6 36.4 2.4 18 2 17.9 2.6 26.7 3 37 5.4 84.8 3 36.5 4.6 48.2 4 34.3 2 15 3.4 21.8 2 10.5 3 12.7 3.6 11.5 4 9.8 2 4.2 2 3.5 2.4 3.7 2.6 3.1 2 1.9 2 1.3 3.4 1.6 3 .7 2.6 .3 2-.2 2.4-.5 1.6-.6 1.4-.9 3.6-2.9 4.4-5.5 3-4.9 5-10 4-9.3 9.6-25.6 9.4-26.7 9-26.7 20-60.9 10.6-28.2 5.4-13 9-19.9 12.6-25.7 5-9.7 9.4-16.3 7.6-11.7 10.4-14.5 6.6-7.9 5-5.5 3.4-3.4 8.6-6.7 5-3.2 4-2.2 3.4-1.5 6-2.1 3-.5 3 .2 5 .9 2 .7 5 2.6 6 3.8 10 8.3 3.6 3.5 5 5.5 7.4 9.5 8.6 12.4 3.4 5.8 13.6 24.6 2.4 4.2 3.6 4.7 4.4 4.5 4 2.7 4.6 1.5 14.4 .6 4 .4 3 .7 7.6 2.7 4 1.8 2 1.5 3 3.8 4 6.6 2.4 6.4 3 6.1 5 11.6 1.6 4.1 3 9.9 5 17.9 2 8.2 1.4 7.7 6 36.6 3 24.6 5 32.4 6.6 49.5 7 50.8 2 18.8 2.4 27.3 2 25.5 1 17.9 .6 4.6 2 .5 8.4-.8 8-2.6 4.6-.7 4.4-2.1 3.6-.2 5.4-.9 6.6-2.6 3.4-1 4.6-2.3 4-1.4 1.4-.8 3.6-2.4 7-4.3 3.4-2.8 4-2.5 4-3.8 12-9.5 5.6-5.6 2.4-2.3 3-3.4 3-2.7 5.6-5.9 4-4.8 4.4-3.9 1.6-1.7 4.4-6.5 4.6-5.6 6.4-9 3.6-4.2 8-11.1 3.4-5.8 3-4.3 7.6-11.6 10-13.7 11-16.2 7-8.4 10-10.4 2-1.7 4.4-3 8-6.2 5-3 7-3 4.6-1.5 3.4-.2 3-1 3.6 .2 4-1.1 3-1.2 4-.5 8.4 .3 3 .7 3.6 .3 3.4 1.2 3 .2 3 1.3 2.6 .2 1 .5 8.4 5.8 4 3.8 7.6 6.1 5.4 5.5 9 10.4 3.6 3.4 4 6.1 3.4 3.5 6.6 9.3 6.4 6.2 3.6 2.8 9.4 12.2 1.6 1.4 4 2.8 5.4 5.8 4 3.6 1.6 1.8 2.4 3.7 3 2.7 4.6 4.6 3 3.6 4.4 3.2 6.6 6.6 2.4 3 3.6 1.9 9 8.8 2 1.5 3.4 1.9 4 4.2 4 2.3 2 1.4 4 4.4 8.6 7.5 1 .5 3.4 1.2 2.6 0 1.4 .5 1 1 3 4.3 1.6 1.2 2.4 1.4 3 2.5 1.6 .6 3.4 1 4 2.4 3 .9 4 3.4 3.6 1.6 2.4 1.7 3.6 1.1 3 2.5 1 .5 1.4 0 2-1 1.6-.4 5.4-.1 1 .3 2 1 2.6 .9 4 2.1 1 .2 3.4-.2" stroke="#0280c7"/>
<path d="M192.8 1306.7l2.4 6.1 1 1.9 1 1.2 2.6 1.9 1 1.4 3.4 7.2 2 3.4 1.6 1.4 3.4 .9 3.6 2.4 1.4 2.4 3.6 7.8 1.4 2.4 1 .6 1 .1 1.6-.5 2-1.3 1-.4 4.4 .2 2.6 1.2 5 4.3 2 1.1 1 0 3-.6 2.4-1.3 2-.7 2.6 .1 1.4-.3 2-.8 1.6-.9 2-2 2-3.3 2-6.2 .4-1 .6-.3 1 .8 1.4 2.1 2.6 1.9 2 .8 2 .1 4-1.3 5-3.1 4.4-1.6 3.6-.7 8.4 0 3.6-.5 12-3.8 3-1.2 2-1.2 5-4.2 3.4-4.8 3-5.6 3-7.8 1.6-5 1-4.5 6.4-41.2 3.6-18.2 2.4-10.6 3.6-11.5 3.4-8.9 1.6-3.1 2.4-3.9 1.6-1.7 1-.4 1.4 .4 1.6 1 1 1.2 1.4 2.6 1.6 3.6 8.4 23.8 4.6 11.5 3 6.3 3 4.7 2.4 2.8 2.6 2.1 2 1.2 5.4 2.4 4 2.3 5.6 4.9 5.4 2.8 4 3.8 3.6 2.8 1.4 .6 3.6 0 3.4-.5 3-1.2 1 .1 1 1.1 2 3 5 5.1 2.6 3.2 1 .6 1-.2 3-3.6 1-.5 4 1 3 1.4 1.4 0 1-.5 1-.9 3-3.8 1.6-2.3 4-7.7 3.4-8.3 5.6-15.8 4-15.1 2-12.5 1.4-17.5 2-37.9 9.6-206.1 18.4-338 3.6-58.3 3-43.7 2-23.4 2-19.7 1.4-11.5 1.6-8.3 2.4-9.9 2-5.5 1.6-2.7 1.4-1.9 1-.7 1.6-.6 1.4 .3 2.6 1.7 9 5.2 22 10.7 2 .7 2.4 .3 .6 0 1.4-1.2 .6-.1 1.4 2.1 1.6 1.2 5.4 2.1 20.6 4 12.4 1.8 2 .8 4.6 2.7 5 1.9 17.4 4.2 11.6 1.8 19 1.3 2.4 .4 2.6 .8 2 1 2.4 2.2 5 5.6 8.6 10.6 2 2 1 .6 2.4 1 3.6 .5 3.4-.6 4-1.4 1 .1 .6 .5 2.4 5.8 .6 .5 .4-.4 1.6-3.4 3-4.3 2.4-4.6 1.6-2.1 1.4-1.6 2.6-1.1 4-.4 3.4 .8 1.6 .2 2 0 1.4-.3 1.6-1.1 11.4-11.6 4-3.4 4-2.8 3-1.8 4.6-2.3 6-2.6 13-4.1 2.4-.7 2.6-.3 7-.2 11.4 .3 10-.4 5.6 .4 7 1.4 3.4 1.3 3.6 2.3 2.4 2.3 2.6 3.4 2 3.9 1.4 3.6 9 27.8 5 12.6 1.6 2.5 4.4 6.4 5.6 4.7 3 2 6.4 3.3 6.6 2.6 5 1.3 3.4 .4 8.6 0 2.4-.3 4-1.1 16-6 8.6-2.6 4.4-.7 7.6-.8 5.4-.4 2 .1 4.6 .8 2.4 .8 3 1.3 3.6 2 3.4 2.7 4.6 4.2 6 6.8 3.4 4.7 5.6 9.3 5 9.5 2.4 6.2 24.6 77.9 11.4 41.1 3.6 14.4 3 15.8 6 34.5 2.4 17 2 16.9 2.6 25.2 3 35 5.4 79.9 3 34.3 4.6 45.4 4 32.2 2 14 3.4 20.6 2 9.7 3 11.9 3 9.5 3.6 8.5 2.4 5 2 3.5 2.6 3.6 3 3.5 2 1.8 2 1.2 3.4 1.5 5.6 .9 2-.1 2.4-.5 1.6-.5 1.4-.9 3.6-2.8 4.4-5.1 3-4.7 5-9.4 2.6-5.2 2-4.8 9-22.8 10-26.5 8.4-23.8 20-57.5 10-25.3 5.6-12.4 9.4-19.8 12.6-24.3 5-9.1 9.4-15.5 3.6-5.4 5-7 11.4-14.7 5.6-6.1 8-7.8 8-5.9 5-3.1 4-2.1 3.4-1.4 6-2 3-.5 3 .2 5 .8 2 .7 5 2.4 6.6 4 9.4 7.4 3 2.8 5.6 5.8 7.4 8.9 8.6 11.7 3.4 5.5 13.6 23.3 2.4 3.9 3.6 4.4 4.4 4.3 4 2.5 4.6 1.5 14 .4 4.4 .5 3 .6 5 1.6 5.6 2.3 1.4 .7 1.6 1.1 3 3.6 4 6.3 2.4 6 3 5.7 5.6 12 4.4 13.6 4.6 15.1 2 7.6 1.4 7.3 6 34.2 3 23.1 5 30.8 6.6 46.9 7 47.8 2 17.7 2.4 26 2 24.2 1 16.9 .6 4.4 2 .7 8.4-.8 8-2.9 4.6-1 4-2 3.4-.2 5.6-.9 7-2.7 3.4-1 5-2.5 4.6-1.5 4-2.7 7-4.1 3.4-2.7 4-2.5 7.6-6.4 8.4-6.3 8-7.6 3-3.3 3-2.6 5.6-5.6 3.4-4 5-4 1.6-1.5 5-7 4-4.7 6.4-8.6 3.6-3.9 8-10.5 3.4-5.5 2.6-3.3 7.4-11.1 10.6-13.7 11-15.4 3.4-3.7 3.6-4.2 10-9.8 2-1.6 4.4-2.7 7.6-5.4 6.4-3.4 10-3.5 4-.1 3-.9 3.6 .2 4-.9 3-1.2 4-.4 8.4 .3 3 .7 3.6 .3 3.4 1.2 3 0 3 1.2 2.6 .2 1.4 .7 8 5.1 4 3.6 7.6 5.7 6 5.7 8.4 9.3 3.6 3.2 4 5.8 3.4 3.2 6.6 9.1 6.4 5.7 3.6 2.5 6.4 8.1 3.6 4 5.4 3.5 5 4.9 4 3.3 4.6 5.7 2.4 1.9 4.6 4.3 3 3.3 4.4 2.9 6.6 6.4 2.4 2.9 1 .6 2.6 1.1 9.4 9 5 2.6 4 3.9 6 3.4 4 4.1 8.6 7.1 1 .6 3.4 1.1 2.6-.2 1.4 .5 1 1 3 4.3 1.6 1.1 2.4 1.2 3 2.4 1.6 .6 3.4 .8 4 2.4 3 .8 4 3.4 3 1.2 3 2.1 3.6 1.1 3.4 2.6 1.6 .2 2.4-1.1 2-.5 5 0 5.6 2 4 2.1 1 .2 3.4-.4" stroke="#007ac3"/>
<path d="M192.8 1302.9l2.4 6 1 1.9 1 1.1 2 1.4 1 1 4 7.6 2 3.2 1.6 1.4 3.4 .8 3.6 2.2 1.4 2.2 3.6 7.3 1.4 2.3 1 .5 1 .1 1.6-.5 3-1.9 4.4-.2 2.6 1 5 4.1 2 .8 1 0 3-.8 2.4-1.6 2-.9 3.6-.4 2.4-1.2 1.6-1.1 2-2.2 2-3.5 2-6 .4-1 .6-.3 1 .6 1.4 1.9 2 1.4 2 .7 2 .1 4.6-1.7 5-3.3 4.4-1.8 3.6-.9 8.4-.3 3.6-.6 11.4-3.9 3.6-1.5 2-1.2 5-4.3 3.4-4.7 3-5.4 3-7.5 1.6-4.8 1-4.2 6.4-38.8 3.6-17.2 2.4-10 3.6-11 3.4-8.6 1.6-3 2.4-4 1.6-1.7 1-.5 1.4 .2 1.6 .8 1 1 1.4 2.2 1.6 3.2 8.4 21.2 4.6 10.1 2.4 4.7 3 4.2 2.6 2.5 2.4 1.8 2.6 1.2 6 1.9 3.4 1.7 5.6 4.2 5.4 2.4 4.6 3.7 3.4 2.4 1 .3 3.6-.1 3.4-.6 3-1.2 1 .1 1 1 2 2.7 5 4.7 2.6 3 1 .6 1-.3 3-3.3 1-.5 4 1 3 1.2 1.4 0 1-.6 1-.9 3-3.7 1.6-2.2 4-7.3 3.4-7.8 5.6-15.1 4-14.2 2-11.8 1.4-16.4 2-35.5 9.6-193.3 8-135 10.4-183.3 4-62.5 3-39.7 3.6-34.9 1.4-10.8 1.6-8 2.4-9.4 2-5.2 1.6-2.5 1.4-1.9 1-.7 1.6-.6 1.4 .4 8 4.9 9.6 5 16 7.8 2 .8 2.4 .4 .6 0 1.4-1.1 .6-.1 1.4 2 1.6 1.2 6 2.4 20 3.9 12.4 1.8 2 .8 4.6 2.6 5 1.8 17.4 3.8 11.6 1.5 19.4 .6 5 1 2 1 2 1.7 5 4.9 8.6 9.4 2 1.8 1 .5 2.4 .8 3.6 .3 3-.7 4-1.8 1.4-.2 .6 .4 2.4 5.4 .6 .5 .4-.4 2-4.1 2.6-3.2 2.4-4.4 3-3.5 1.6-.8 1.4-.4 4-.3 3 .6 2.6 .1 2.4-.5 1.6-1.2 10.4-10.7 4.6-4 7-4.8 5-2.6 6-2.9 13.4-4.7 4.6-1.1 7-.5 11.4-.2 10.6-.8 5 0 7.4 1 3.6 1.2 3.4 2 2.6 2.3 2.4 3.3 1.6 2.8 1.4 3.4 9 25.9 5 11.8 6 8.2 5.6 4.3 3 1.8 6.4 2.9 6.6 2.3 5 1 3 .4 8.4-.1 2.6-.3 4.4-1.3 16-5.8 8.6-2.6 12-1.3 5.4-.4 2 0 4 .7 2.6 .6 3 1.1 3.4 1.9 3.6 2.4 4 3.5 2.4 2.3 3.6 3.8 4 4.9 5.4 8.7 5 8.8 3 6.9 24.6 73.7 11.4 38.9 3.6 13.6 3 14.9 6 32.6 2.4 16.2 2 15.9 2.6 23.8 3 33.1 5.4 75.3 1.6 17 5.4 53.8 2.6 19.8 3.4 24.8 3.6 19.7 2 9.6 3 11.6 3.4 10.5 4 9 4 7 2.6 3.4 3 3.3 2 1.7 2 1.1 3.4 1.4 5.6 .9 4-.5 1.4-.4 1.6-.7 4-2.9 4-4.3 3.4-5 5-8.9 2.6-4.8 2-4.6 8.4-20.3 10.6-26.2 28.4-76.6 10-23.9 5.6-11.6 9.4-18.8 12.6-22.9 5-8.6 10-15.4 8-10.9 6-7.5 6-7 8.4-8.6 4.6-3.9 8-5.7 5.4-3.2 3.6-1.7 3.4-1.4 6-1.9 3-.4 3 .1 5 .8 2 .6 5 2.3 6.6 3.7 10 7.4 8.4 8.2 7 8 8.6 11 3.4 5.2 13.6 22 2.4 3.7 3.6 4.2 4.4 4 4 2.4 4.6 1.4 14 .4 4.4 .4 3 .6 5 1.5 5.6 2.2 1.4 .7 1.6 1 2.4 2.8 4.6 6.5 2.4 5.7 3 5.4 5.6 11.2 4.4 12.7 4.6 14.1 2 7.1 1.4 6.8 6 32.1 3 21.7 5 29.1 6.6 44.6 6 38 1.4 10.8 4 37.6 2 22.9 1 16.1 .6 4.3 2 .8 8.4-.9 8-3.2 4.6-1.1 4-2.1 3.4-.3 3-.6 2.6-.3 7-2.6 4-1.1 4.4-2.3 4.6-1.5 4-2.6 7-3.9 3-2.3 4.4-2.7 7.6-6.3 8-5.6 8.4-7.7 3-3.2 3-2.5 5-4.8 4-4.3 5-3.6 1.6-1.4 5-6.7 4-4.6 6.4-8.1 3.6-3.7 8-10 3.4-5.2 2.6-3.1 7.4-10.6 10.6-12.9 11-14.7 9.4-10 8-7.1 1.6-1.1 4.4-2.4 8-5.2 6-2.8 10-3 4 .1 3-.8 3.6 .2 4-.8 3-1.1 4-.4 8.4 .4 3 .7 3.6 .3 3 1 3.4 0 3 1 2.6 .2 9.4 5.4 3.6 3 8 5.7 5.4 4.9 9 9.2 3 2.5 1.6 1.7 3 4.4 2.4 1.9 1 1.1 6.6 8.7 6.4 5.3 4 2.7 5.6 6.7 4 4.4 1 .7 2.4 1 2 1.2 5 4.5 4 2.9 1.6 1.6 2.4 3.4 3 2.1 4.6 4 3 3.1 4.4 2.6 6.6 6.3 2.4 2.7 1 .6 2.6 .8 9.4 8.8 5 2.3 4 3.8 6 3 4 3.9 8.6 6.7 1 .5 3.4 1.1 2.6-.3 1.4 .4 1 1 2 3.1 1.6 1.7 3.4 1.6 3.6 2.5 4.4 1 4 2.3 3 .7 4 3.4 3 1.3 3 2.1 3.6 1 3.4 2.5 1.6 .1 2.4-1.2 2-.5 5 .1 3 1.2 2.6 .7 4 2 1 .1 3.4-.4" stroke="#0078c1"/>
<path d="M192.8 1299.3l2.4 5.9 1 1.8 1 1 3 2.4 4 7.1 2 3.1 1.6 1.3 3.4 .7 3.6 2.1 1.4 2 3.6 6.9 1.4 2.1 1 .5 1 .1 1.6-.6 3-2 4.4-.5 2.6 .8 5 3.7 2 .7 1-.1 3-1 4-2.6 4-1.1 3.4-2.2 2-2.1 1.6-2.5 1-1.8 2-5.8 .4-1 .6-.4 1 .5 1.4 1.7 2 1.1 2 .6 2-.2 4.6-2 5-3.4 4.4-2 3.6-1 8.4-.6 4-.8 11-4.1 3.6-1.5 2-1.2 5-4.4 3.4-4.6 3-5.3 3-7.2 1.6-4.6 1-4 6.4-36.5 3.6-16.3 2.4-9.5 3.6-10.5 3.4-8.3 1.6-3 2.4-3.9 1.6-1.8 1-.5 1.4 0 1.6 .5 1 .9 1.4 1.9 1.6 2.8 8.4 18.7 4.6 8.8 2.4 4.1 3 3.5 3 2.3 2.6 1.4 2 .6 6 1.3 4 1.4 5 3.4 5.4 2 4.6 3.3 3.4 2.1 1 .3 3.6-.2 3.4-.7 3-1.1 1 0 1 .9 2 2.5 5 4.3 2.6 2.7 1 .5 1-.2 3-3.1 1-.4 4 .9 2.4 .9 2 .1 1-.6 1-.9 3-3.6 1.6-2.1 4-7 3.4-7.4 5.6-14.3 4-13.5 2-11.1 1.4-15.4 2-33.3 9.6-181.3 8-127.1 10.4-172.7 4-58.9 3-37.5 3.6-33 1.4-10.3 1.6-7.5 2.4-8.9 2-5 1.6-2.4 1.4-1.8 1-.7 1.6-.5 1.4 .4 10 5.9 8.6 4.5 15 7.4 2 .8 2.4 .5 .6 0 1.4-1 .6 0 1.4 1.9 1.6 1.2 5.4 2.3 20.6 4.1 12.4 1.8 2 .8 4.6 2.5 5 1.7 17.4 3.5 11.6 1.2 19-.2 2.4 .2 3 .6 2 .8 2 1.5 5 4.3 8.6 8.4 2 1.5 1 .4 2.4 .6 3.6 0 3.4-1.1 3.6-1.9 1.4-.4 .6 .4 2.4 5 .6 .4 .4-.4 2-3.9 2.6-3.1 2.4-4.1 3-3.3 1.6-.7 1.4-.4 4-.3 3 .4 2-.1 2-.3 1-.4 1.6-1.2 10-10.4 5-4.4 7-4.8 11-5.8 13.4-5.2 4.6-1.3 7-.8 11.4-.6 8.6-1.1 5.4-.4 9.6 .5 3.4 1 3 1.6 2.6 2 2.4 3 1.6 2.5 1.4 3.2 9 24.1 3 7 2 4 6 7.6 5.6 3.8 3 1.7 6.4 2.6 6.6 2 5.4 .8 3 .2 8.6-.3 2.4-.4 4-1.1 16-5.8 8-2.4 4.6-.6 15-1.1 6.4 1.1 3.6 1.1 2.4 1.2 5 3.2 5 4.2 2.6 2.4 5.4 6.1 5 7.3 6 9.9 3 6.5 24.6 69.7 9.4 30.2 5 17.4 3.6 16.2 6 30.9 2.4 15.2 2 15.1 2.6 22.5 3 31.2 5.4 71 1.6 16 5.4 50.6 4.6 32.4 2 12.3 3.4 18.1 2 8.6 3 10.4 3.6 9.5 4.4 9.1 2 3.3 2 2.8 2 2.4 3 2.9 1.6 1.2 2.4 1.3 3 1 3.6 .7 2.4 .2 4.6-.7 2.4-1.1 3.6-2.5 4.4-4.5 3-4.2 5.6-9.2 3-5.9 8.4-19 11.6-27 28.4-72.2 10-22.5 5.6-11 9-16.8 13-22.6 5-8.1 9.4-13.8 3.6-4.8 5-6.2 12-13.7 8.4-8.1 4.6-3.8 7.4-5 5.6-3.2 3.4-1.6 4-1.6 5.6-1.7 3-.5 3 .1 6.4 .9 6.6 2.8 7.4 4.2 7 4.9 4.6 3.7 8 7.7 10 11.6 6 8 16 24.4 4 4.6 4.4 3.8 4 2.3 4 1.1 14.6 .5 7.4 .9 5 1.5 5.6 2 1.4 .7 1.6 1 2.4 2.6 4.6 6.2 2.4 5.4 3 5 5.6 10.5 4.4 11.9 4.6 13.1 2 6.6 1.4 6.4 6 30 3 20.4 4.6 24.6 7 45.4 7 42.3 2 15.9 2.4 23.4 2 21.8 1 15.3 .6 4.1 1 .6 1 .3 8.4-1 8-3.4 5-1.4 3.6-2 3.4-.3 2.6-.6 3-.3 7-2.6 4-1.1 4.4-2.2 4.6-1.4 4-2.6 7-3.8 3-2.2 4.4-2.6 7.6-6.1 8-5.4 8.4-7.5 3-3 3-2.4 5-4.6 3.6-3.7 5.4-3.6 1.6-1.3 5-6.5 4-4.3 6-7.2 4.4-4.6 7.6-8.9 3.4-5 2.6-3 7.4-10 10-11.6 11.6-14.6 9.4-9.5 8-6.6 2-1.4 4-1.9 8-4.7 6-2.5 10-2.6 3.6 .3 3.4-.7 3.6 .3 4-.8 3-1 4-.4 8.4 .5 2.6 .6 4 .4 3 1 3.4-.2 3 1 2.6 .1 9.4 5 3.6 2.8 8 5.4 6 5 8.4 8.2 3 2.4 1.6 1.6 3 4.2 2.4 1.8 1 1 6.6 8.4 7 5.3 3.4 2 6 7 3.6 3.6 1 .6 2.4 .8 2 1 5 4.1 4 2.6 1.6 1.5 2.4 3.2 3 1.9 4.6 3.7 3 2.8 4.4 2.4 9 8.8 1 .5 2 .4 1 .6 8.6 7.8 1.4 .9 4 1.5 4 3.6 6 2.7 3.6 3.2 3.4 2.9 5.6 4 1 .4 3.4 1 2.6-.4 1.4 .4 1 .9 2 3.2 1.6 1.7 3.4 1.4 3.6 2.3 4.4 .8 4 2.3 3 .7 4 3.3 3 1.3 3 2.2 3.6 .9 3.4 2.4 1.6 .1 2.4-1.3 2-.5 4.6 0 1 .2 2.4 1.1 2.6 .6 4 2 1 0 3.4-.6" stroke="#0076c0"/>
<path d="M192.8 1295.9l2.4 5.7 1 1.7 1 1.1 3 2.2 4 6.8 2 2.9 1.6 1.2 3.4 .7 3.6 1.9 1.4 1.9 3.6 6.4 1.4 2 1 .5 1.6-.1 4-2.7 4.4-.7 2.6 .6 5 3.4 2 .5 1-.1 3-1.2 4-2.9 4-1.5 3.4-2.5 1.6-1.6 1.4-2.3 1.6-2.9 2-5.6 .4-.9 .6-.4 1 .4 1.4 1.4 2 .9 2 .4 2-.3 5-2.6 4.6-3.2 4.4-2.1 3.6-1.2 8.4-.8 3.6-.8 11-4.2 5.4-2.8 5-4.2 3.6-4.3 3-4.9 3.4-7.9 1.6-4.4 1-3.8 6.4-34.5 3.6-15.4 2.4-9 3.6-10.1 3.4-8 1.6-2.9 2.4-3.9 1.6-1.9 1-.6 1.4-.1 1.6 .3 1 .7 1.4 1.6 1.6 2.4 8.4 16.4 4.6 7.7 2.4 3.4 3.6 3.3 3 1.6 2 .8 8 1.1 4 1 5 2.9 5.4 1.6 6.6 4.1 2 .8 4-.2 3.4-.8 3-1.1 1 0 1 .8 2 2.2 5 4 2.6 2.5 1 .5 1-.2 3-3 1-.3 2 .3 5 1.5 1.4-.2 1-.6 4-4.3 2-2.9 4-6.8 3.6-7.2 5.4-13.9 3.6-11.4 2-10.5 1.4-14.5 2-31.2 9.6-170.1 8-119.6 10.4-162.7 3.6-49.1 3-36.7 2-19.7 2-16.7 1.4-9.8 1.6-7.1 2.4-8.5 2-4.6 1.6-2.4 1.4-1.7 1-.6 1.6-.6 1.4 .4 10 5.9 23.6 12.1 2 .8 2.4 .5 .6 .1 1.4-.9 .6 0 1.4 1.8 1.6 1.2 6 2.6 20 4 12.4 1.8 2 .7 4.6 2.4 5 1.7 17.4 3.1 11.6 1 13-.4 6.4-.4 5.6 .6 1.4 .6 2 1.2 5 3.8 8 6.9 2.6 1.7 1 .4 2.4 .3 3.6-.2 4-1.5 3-2 1.4-.5 1 1.1 2 3.8 .6 .4 .4-.4 2-3.7 2.6-2.9 2.4-4 3-3 2.6-1 4.4-.4 3.6 .1 3-.4 1.4-.6 1.6-1.3 10-10.4 4.4-4.1 7.6-5.2 11.4-6.2 13.6-5.7 4.4-1.3 6.6-1 11.4-1 9-1.5 5.6-.7 9.4 0 3.6 .9 3 1.4 2.4 1.9 2 2.3 1.6 2.3 1.4 3 9 22.4 3 6.5 2 3.7 6 7 5.6 3.5 3 1.5 6.4 2.2 6 1.7 8.6 .8 8.4-.4 2.6-.4 4.4-1.2 16-5.7 7.6-2.2 3-.5 6.4-.3 10.6-1 6 .9 3.4 1 3 1.3 5 3 7 5.7 5.6 5.7 3.4 4.6 7.6 11.3 3 5.8 24.4 65.7 9.6 28.5 5.4 18 3.6 15.4 6 29.1 2.4 14.4 2 14.3 2.6 21.2 3 29.5 5.4 67 1.6 15.1 5.4 47.6 2.6 17.4 3.4 21.9 3.6 17.4 2 8.4 3 10.2 3.4 9.3 4.6 8.7 2 3.2 2 2.7 2.4 2.9 3 2.8 1.6 1.1 2.4 1.2 3 1 3.6 .6 2.4 .2 4.6-.7 2.4-1 3.6-2.4 4.4-4.2 3-4 5-7.9 4-7.3 13.6-28.9 9-20.4 26-62.4 9.4-20 5.6-10.4 9-15.9 13-21.3 5-7.7 10-13.7 8-9.7 12-12.9 4.4-4.2 8.6-7 7.4-4.9 8.6-4.3 4.4-1.7 5.6-1.6 3-.5 3 0 6.4 .9 6.6 2.6 7.4 4 7 4.5 4.6 3.6 8 7.3 10 10.9 6.4 8.3 15 21.7 4.6 5 4.4 3.5 4 2.2 4 1.1 14.6 .4 5 .5 3 .5 5 1.4 5 1.8 3 1.6 2.4 2.5 4.6 5.8 2.4 5.1 3 4.7 5.6 9.8 4 9.8 5 13.6 2 6.1 1.4 5.9 6 28.1 3 19.2 4.6 23.4 7 43.2 7 39.7 2 15.1 2.4 22.2 2 20.8 1 14.5 .6 3.9 1.4 1 1 .1 8-1 8-3.7 5-1.6 3.6-2.1 3.4-.2 2.6-.6 3-.3 6.4-2.5 4.6-1.2 4.4-2.1 4.6-1.4 4-2.5 7-3.6 3-2.2 4.4-2.5 7.6-6 8.4-5.5 8-6.9 2.6-2.4 3-2.3 5-4.4 4-4 5.4-3.2 1.6-1.2 5.4-6.9 3.6-3.6 6-6.9 4.4-4.2 7.6-8.5 3.4-4.8 2.6-2.8 7.4-9.6 10-11 11-13.3 4.6-4.2 2.4-2.7 4-3.5 8.6-6.5 5-2.1 7.4-4.1 4.6-1.7 11-2.6 1.4 0 2.6 .5 3.4-.7 3.6 .3 4-.6 3-1 3.4-.3 8.6 .5 3 .7 4 .3 3 .9 3.4-.2 3 .8 2.6 .1 9.4 4.6 3.6 2.7 4.4 2.6 3.6 2.4 7.4 6 7 6.5 3 2.2 1.6 1.5 3 4 2.4 1.7 1 1 6.6 8.1 7 4.9 3.4 1.7 2.6 2.6 3.4 4.2 3.6 3.3 1 .6 2.4 .5 2 .9 5 3.7 4 2.3 1 .8 3 3.7 3 1.7 4.6 3.4 3 2.6 4.4 2.2 9 8.5 1 .4 2 .3 1 .6 9 7.9 5 1.7 4.6 3.8 5.4 2.1 7.6 6.2 5 3.3 1 .5 3.4 .9 2.6-.5 1.4 .3 1 .9 2 3.3 1.6 1.6 3.4 1.2 3.6 2.2 4.4 .7 4 2.2 3 .6 4 3.4 3 1.2 3 2.2 3.6 .9 3.4 2.3 1.6 0 2.4-1.3 2-.5 4.6 0 1.4 .3 2 1 2.6 .5 2.4 1.4 1.6 .5 1 .1 3.4-.8" stroke="#0074be"/>
<path d="M192.8 1292.6l2.4 5.6 1 1.7 1 1 3 2.2 4 6.4 2 2.7 1.6 1.2 3.4 .6 3.6 1.8 1.4 1.6 3.6 6 1.4 1.9 1 .5 1.6-.1 4-2.9 4-1 1 0 2 .4 5 3.1 2 .4 1-.2 3-1.3 4-3.2 4.4-2.1 3-2.4 1.6-1.7 1.4-2.5 1.6-2.9 2-5.5 .4-.9 .6-.4 1 .3 1.4 1.2 2 .8 2 .2 1.6-.2 1.4-.6 3.6-2.1 5-3.7 4.4-2.2 3.6-1.2 8.4-1 4-1.1 10.6-4.3 5.4-2.9 5-4.3 3.6-4.3 3-4.7 3.4-7.7 2.6-7.7 6.4-32.6 3.6-14.6 2.4-8.6 3.6-9.7 4-8.8 4-6.4 1.4-1.6 1-.5 2-.1 1 .4 2.6 2.2 9 15 5 7.3 2 2.4 3.4 2.8 3 1.3 2.6 .7 8 .2 4 .7 1.4 .6 3.6 1.8 5.4 1.3 6.6 3.5 2 .7 4-.3 3.4-.9 3-1.1 1 .1 1 .7 2 2 5 3.6 2.6 2.3 1 .5 1-.3 3-2.7 1-.4 2 .3 5 1.4 1.4-.2 1-.6 4-4.3 2-2.7 4-6.6 3.6-6.9 5-11.8 4-12.2 2-9.9 1.4-13.6 2-29.3 9.6-159.7 8-112.6 11-160.2 4-51.7 2.4-27.3 3.6-29.4 1.4-9.2 1.6-6.8 2.4-8 2-4.5 1.6-2.2 1.4-1.7 1-.6 1.6-.5 1.4 .5 8.6 5 9.4 5.1 16 8.1 2 .8 2.6 .4 1.4-.7 .6 0 1.4 1.8 1.6 1.1 6 2.7 20 4.1 12.4 1.8 2 .7 4.6 2.3 5 1.6 17.4 2.8 11.6 .8 13-.8 7-.7 5 .3 2 .7 1.4 .8 5 3.4 8 6 2.6 1.4 3.4 .4 3.6-.4 4-1.8 3-2.2 1.4-.7 1 1 2 3.5 .6 .4 .4-.3 2-3.6 2.6-2.8 2.4-3.7 2.6-2.5 1-.6 2-.6 4.4-.6 3 .1 3-.6 2-.8 11.6-11.8 4.4-4.1 7.6-5.2 11.4-6.5 14-6.2 4-1.3 6.6-1.2 11.4-1.4 15-2.9 9.6-.4 3.4 .7 2.6 .9 2.4 1.7 2 2.1 1.6 2.1 1.4 2.8 9 20.8 3 6 2 3.5 6 6.4 5.6 3.1 2.4 1.2 7 2.1 6 1.5 8.6 .4 8.4-.5 2.6-.4 4.4-1.2 16-5.7 7.6-2.1 3.4-.5 6-.1 10.6-1.1 6 .8 3.4 .9 2.6 1 5 2.7 7 5.3 5.4 5.2 3.6 4.2 3.4 4.8 4.6 6.7 3 5.4 24.4 62.1 9.6 27 5.4 17.1 3.6 14.5 6 27.5 2.4 13.7 2 13.5 2.6 20 3 27.8 5.4 63.3 1.6 14.1 5.4 44.8 2.6 16.3 3.4 20.6 3.6 16.3 2 7.9 3 9.6 3.4 8.7 4.6 8.1 2 3.1 2 2.6 2.4 2.6 3 2.6 1.6 1.1 2.4 1.1 3 .9 5.6 .8 4-.4 3-1 4-2.4 4-3.5 3.4-4.3 5-7.4 4-7 13.6-27.2 9-19.2 26-58.9 9.4-18.9 5.6-9.8 9-15.1 13-20.1 5-7.2 10-13 8-9.2 12-12.1 4.4-4 8.6-6.6 7.4-4.6 8.6-4.2 4.4-1.6 5.6-1.6 3-.4 3 0 6.4 .8 6 2.3 7.6 3.6 7.4 4.6 4.6 3.3 8 7 10 10.3 6.4 7.8 15 20.6 4.6 4.7 4.4 3.3 4 2 4 1.1 14.6 .3 5 .5 3 .5 5 1.3 5.4 1.9 2.6 1.3 2.4 2.4 4.6 5.5 2.4 4.8 3 4.3 5.6 9.2 4 9.2 5.4 13.9 1.6 4.4 1.4 5.6 6 26.2 3 18.1 4.6 22.1 7 41.2 7 37.4 2 14.2 2.4 21.2 2 19.8 1 13.8 .6 3.8 1.4 1.1 1 .1 8-1.1 8-3.9 5-1.8 3.6-2.1 3.4-.2 2.6-.7 3-.3 6.4-2.4 4.6-1.2 5-2.2 3.4-.9 4.6-2.7 7-3.6 3-2.1 4.4-2.4 7.6-5.8 8-5 8.4-7 2.6-2.3 3-2.2 5-4.2 4-3.9 5.4-2.8 1.6-1.1 5.4-6.7 3.6-3.4 6-6.7 4.4-3.9 8-8.7 3-3.9 2.6-2.7 7-8.6 10.4-11 11.6-13.3 9.4-8.5 9-6.6 5.6-2.2 7.4-3.6 6-1.9 9.6-1.8 1.4 0 2.6 .6 3.4-.6 3 .4 4.6-.5 3-.9 3.4-.3 8.6 .6 3 .6 4 .4 3 .8 3.4-.3 2.6 .6 3 .1 9 4 4 2.9 4.4 2.4 3.6 2.2 8 6.1 6.4 5.7 3 2.1 1.6 1.4 3 3.9 2.4 1.5 1 .9 6.6 7.9 1.4 1.2 5.6 3.3 3.4 1.5 2 1.9 4 4.6 3.6 3.2 1 .5 2.4 .3 2 .7 1.6 .8 3.4 2.5 4 2 1 .8 3 3.5 3 1.5 4.6 3.1 3 2.4 4.4 2 9 8.3 1 .4 2 .1 1 .5 8.6 7.5 1.4 .7 4 1.1 4.6 3.5 5.4 1.9 7.6 5.9 5 3.2 4 1.2 1 0 2-.6 1.4 .3 1 .9 2 3.2 1.6 1.7 3.4 1.1 3.6 2 4.4 .5 4 2.2 3 .6 3.6 3 3.4 1.6 2.6 1.9 3.4 .9 4 2.4 1.6 0 2-1.2 1.4-.6 2.6-.2 4 .3 2.4 1.1 2.6 .5 2.4 1.3 1.6 .5 1 0 3.4-.8" stroke="#0077bc"/>
<path d="M192.8 1289.5l2.4 5.4 1 1.7 1 .9 3 2.2 4 6.1 2 2.5 1.6 1.1 3.4 .7 3 1.2 1 .7 1.6 1.8 3.4 5.6 1.6 1.4 1 .2 1-.2 4-3 5-1.3 2.4 .4 4.6 2.7 2 .3 1-.3 3-1.5 4-3.3 3.4-1.8 3.6-2.8 2-2.4 1-1.6 2-3.9 2-5.3 .4-.9 .6-.4 .4 0 2 1.2 2 .6 2 .1 1.6-.3 1.4-.7 4-2.6 4.6-3.3 4.4-2.4 3.6-1.2 8.4-1.3 4-1.2 10.6-4.4 5.4-3 5-4.4 3.6-4.3 3-4.6 3.4-7.3 2.6-7.5 6.4-30.8 3.6-13.9 2.4-8.1 3.6-9.3 4-8.6 4-6.4 1.4-1.6 1-.6 2-.3 1 .2 2.6 1.8 8.4 12.2 3 4 4 4.5 3.6 2.3 3 .9 2.4 .5 8.6-.4 4.4 .3 4.6 2 5.4 .9 6.6 3 2 .6 4-.4 6.4-2 1 0 3 2.4 5 3.3 2.6 2.1 1 .4 1.4-.5 3-2.5 2 .1 5.6 1.3 1.4-.3 1-.6 4-4.2 2.6-3.4 4-6.4 3.4-6.7 5-11.5 3.6-10.3 2-9.4 1.4-12.8 2-27.4 9.6-150 8.4-112.8 10-137.7 3.6-43.7 3-32.7 2-17.6 2-14.9 1.4-8.7 1.6-6.4 2-6.3 2.4-5.5 1.6-2.1 1.4-1.6 1-.6 1.6-.5 1.4 .5 18.6 10.3 15.4 8 2 .8 2 .4 .6 .1 1.4-.7 .6 0 1.4 1.7 1.6 1.2 6 2.7 20 4.3 13 1.9 6 2.7 5.4 1.7 17 2.4 11.6 .6 13-1.1 7-1 5.4 .2 3 1.1 5 2.9 4.6 3 4.4 2.7 2 .7 2.6 .1 3-.4 2.4-.9 2.6-1.4 3-2.4 1.4-.8 .6 .2 .4 .6 2 3.3 .6 .3 .4-.3 2-3.5 2.6-2.6 2.4-3.5 2.6-2.3 2.4-1.1 8-.8 4.6-1.3 1.4-1.1 5-5.6 6.6-6.5 3.4-3 5-3.7 13.6-8.1 15-7.1 3.4-1.2 6-1.3 12-1.8 15-3.6 8-.9 2 0 3.6 .5 2.4 .9 2 1.3 2 1.8 1.6 2 1.4 2.5 9 19.4 3 5.6 2 3.2 6 5.8 5.6 2.8 2.4 1 7 1.8 6 1.3 8.6 .2 8.4-.8 2.6-.4 4.4-1.2 16-5.5 7.6-2.2 3.4-.4 6 0 10.6-1.1 6 .7 3.4 .8 2.6 .9 5 2.6 7 5 5.4 4.9 3.6 4 7.4 10 3.6 5.9 24.4 58.8 9.6 25.4 5.4 16.2 3.6 13.7 6 26.1 2.4 12.9 2 12.7 2.6 19 3 26.2 5.4 59.7 1.6 13.4 5.4 42 2.6 15.4 3.4 19.3 3.6 15.3 2 7.4 3 9 3.4 8.2 4.6 7.6 2 2.9 2 2.4 2.4 2.5 3.6 2.8 4 1.9 5 1.1 3.4 .2 4.6-.5 2.4-1 3.6-2.1 4.4-3.8 3-3.5 5.6-7.8 3.4-5.8 13.6-25.7 9-18.1 26-55.6 9-16.9 5.4-9.3 9.6-15.1 13-19 5-6.8 10-12.3 8.4-9.1 12-11.4 4-3.3 8.6-6.3 7.4-4.4 8.6-4 4-1.4 5.4-1.5 3.6-.6 3 0 6.4 .7 6 2.2 7.6 3.5 7.4 4.2 4 2.8 8.6 7 10 9.7 6.4 7.4 15 19.4 4.6 4.5 4.4 3.1 4 1.9 4 1 14.6 .3 7.4 .8 6 1.6 5 1.6 2 .9 3 2.6 4.6 5.2 2.4 4.5 3 4.1 5.6 8.5 4 8.6 5.4 13 1.6 4 1.4 5.2 6 24.6 3 16.9 4.6 21.1 7 39.2 7 35.2 2 13.5 2.4 20.2 2 18.8 1 13.2 .6 3.6 1.4 1.2 1 .1 8-1.2 8-4 5-1.9 3.6-2.2 3.4-.3 2.6-.6 3-.3 6.4-2.4 4.6-1.2 4.4-2 4-1 4-2.4 7.6-3.7 3-2.1 5-2.6 7-5.4 7.4-4.4 3.6-2.6 8-6.8 8-6.2 4-3.7 5.4-2.4 1.6-1 5.4-6.5 3.6-3.3 6-6.4 4.4-3.7 8-8.3 3-3.7 2.6-2.6 7-8.2 4.4-4.3 6-6.1 11-12.3 10-8.6 9.6-6.4 5-1.6 7.4-3.3 5.6-1.6 10.4-1.5 4 .8 3-.5 3 .4 4-.4 3.6-.9 3.4-.3 8 .6 3.6 .8 4 .3 3 .8 3.4-.4 2.6 .6 3 0 4 1.8 4 1.4 5 3.2 4.4 2.2 3 1.8 8.6 6 6.4 5.5 3.6 2.3 4 4.7 3 1.7 6 7.1 1.4 1.5 6.6 3.7 3 1 1 .6 2 1.9 3.4 4 3.6 3.1 1 .4 2.4 .1 2 .5 1.6 .7 3.4 2.3 4 1.8 1 .7 3 3.4 3 1.2 4.6 2.9 3 2.2 4.4 1.8 3.6 3.4 3 2.3 2.4 2.4 1 .3 2 0 1 .5 9 7.6 5 1.3 4.6 3.3 5.4 1.6 7.6 5.7 5.4 3.2 4 .9 2.6-.6 1.4 .2 1 .8 2.6 4 1 1 3.4 .9 3 1.7 1.6 .3 3.4 .3 4 2.1 3 .5 3.6 3 3.4 1.6 2.6 2 3.4 .9 4 2.2 1.6-.1 2-1.2 1.4-.5 2.6-.4 4 .4 2.4 1.1 2.6 .4 2.4 1.3 1.6 .5 1 0 3.4-1" stroke="#0084b8"/>
<path d="M192.8 1286.5l2.4 5.3 1 1.6 1 1 3 2 4 5.8 2 2.4 1.6 1.1 3.4 .6 3 1.1 1 .6 1.6 1.6 3.4 5.3 1.6 1.3 1 .2 1-.2 4-3.2 5-1.6 2.4 .3 4.6 2.4 2 .2 1-.2 3-1.7 4-3.5 3.4-2.1 3.6-3 2-2.5 1-1.6 2-4.1 2-5.1 1-1.3 .4 0 2 1 2 .4 2 0 1.6-.4 1.4-.7 4-2.8 4-3 5-2.8 3.6-1.3 8-1.3 5-1.6 10-4.5 5.4-3 5-4.5 3.6-4.2 3-4.5 3.4-7.1 2.6-7.2 6.4-29.1 3.6-13.2 2.4-7.8 3.6-8.9 4-8.4 4-6.4 1.4-1.7 1-.6 2-.5 1 .1 2.6 1.4 11 13.2 4 3.8 2 1.2 2 .8 3 .6 2.4 .1 8.6-1.2 4.4 0 4.6 1.6 5.4 .6 6.6 2.6 2 .5 4-.6 6.4-2 1 0 3 2.1 5 3.1 2.6 1.9 1 .4 1.4-.6 3-2.3 1.6 0 6 1.2 1.4-.3 1-.6 4-4.1 2.6-3.3 4-6.1 3.4-6.4 5-11 3.6-9.8 2-8.9 1.4-12.1 2-25.8 9.6-140.8 8.4-106.2 10-129.8 3.6-41.2 3-30.9 2-16.5 2-14.1 1.4-8.3 1.6-6 2-6 2.4-5.2 1.6-2.1 1.4-1.5 1-.5 1.6-.5 1.4 .5 18.6 10.3 15.4 8 4 1.3 .6 .1 2-.6 1.4 1.7 1.6 1.1 6 2.8 7 1.4 13 2.9 13 2 6 2.6 5.4 1.6 17 2.2 11.6 .3 13-1.4 7.4-1.3 5.6 .1 2 .6 5.4 2.6 4.6 2.7 4 1.9 2.4 .8 4-.3 3-.9 3.6-2 3-2.7 1.4-.9 .6 .2 .4 .6 2 3 .6 .3 .4-.4 2-3.2 2.6-2.6 2.4-3.2 2.6-2.2 2.4-1 8-1 4.6-1.5 1.4-1.2 4.6-5.1 7-7 3.4-3 5-3.7 13.6-8.3 15-7.5 3.4-1.3 6-1.5 12.6-2.3 15-4.1 8.4-1.3 4 .2 2.6 .5 2.4 1.3 2 1.7 1.6 1.8 1.4 2.3 9 17.9 3 5.2 2 3 6 5.3 5.6 2.5 2.4 .8 12.6 2.6 7 0 5-.3 7-.8 4-1 9.4-3 8-2.9 7.6-2.1 3-.4 6.4 .1 10-1.2 6 .6 6 1.5 5 2.2 7 4.7 6 5 3 3.1 4 4.8 4 5.3 3.6 5.6 25 56.7 9 22.9 5.4 15.3 3.6 13 6 24.6 2.4 12.2 2 12.1 2.6 17.9 3 24.8 5.4 56.3 1.6 12.5 5.4 39.6 2.6 14.4 3.4 18.2 3.6 14.4 2 6.9 3 8.4 3.4 7.6 4.6 7.2 2 2.7 2 2.3 2.4 2.3 3.6 2.6 4 1.8 5 1 3.4 .3 4.6-.5 2.4-1 3.6-1.9 4.4-3.6 3-3.4 5.6-7.3 3.4-5.5 13-23.3 9.6-18.1 26-52.4 9-16 5-8 10-15 13-17.9 5-6.5 10-11.6 8.4-8.6 12-10.8 3.6-2.7 9-6.3 7.4-4.2 8.6-3.9 4-1.3 5.4-1.5 3.6-.5 3 0 6.4 .6 5.6 1.9 8 3.4 7.4 4.1 4 2.6 8.6 6.6 10 9.2 6.4 7 15 18.3 4.6 4.2 4.4 2.9 4 1.9 4 .9 14.6 .3 7.4 .7 6 1.5 5 1.5 2 .9 3 2.5 4.6 4.9 2.4 4.2 3 3.9 5.6 7.9 4 8 7 15.9 1.4 4.8 6.6 25.2 2.4 13.7 4.6 20 7 37.3 7 33.2 2 12.8 2.4 19.2 2 18 1 12.5 .6 3.5 1.4 1.3 1 .1 8-1.2 8-4.2 5-2.1 3.6-2.2 1-.2 2.4-.1 2.6-.6 3-.3 6-2.3 5-1.2 4.4-2 4-1 4-2.3 7.6-3.6 3-2 5-2.6 7-5.2 7-4 4-2.8 8-6.6 8-5.9 4-3.6 5.4-2.1 1.6-1 5.4-6.3 3.6-3.2 6-6.1 4.4-3.5 4-4.1 4-3.8 3-3.6 2.6-2.4 7-7.9 4.4-4 6-5.9 3-3.4 8-8.3 10-8.1 9.6-6.1 5-1.4 7.4-3 5.6-1.2 10-1.2 1.4 .1 2.6 .8 3.4-.4 3 .4 4.6-.3 3.4-.9 4-.1 7.6 .7 3 .7 4 .3 3 .8 3.4-.6 2.6 .5 3 0 3.4 1.5 4.6 1.5 5 3 4.4 2 3 1.8 9 5.9 6 4.8 3.6 2.2 1.4 1.5 2.6 3 3 1.6 3.4 4.2 4 4.2 6.6 3.3 3 .8 1 .6 2 1.8 3.4 3.9 3.6 2.9 1 .4 2.4-.1 2 .3 1.6 .6 3.4 2.1 4 1.5 1 .7 3 3.2 3 1.1 8 5 4 1.3 3.6 3.3 3 2.3 2.4 2.3 1 .3 2-.2 1 .5 9 7.4 4.6 .9 1 .4 3 2.4 1 .6 5.4 1.3 7.6 5.5 5.4 3 4 .8 2.6-.7 1.4 .2 1 .8 2.6 4 1 .9 3.4 .8 3.6 1.8 4.4 .2 4 2.2 3 .4 3.6 3 3.4 1.5 2.6 2.1 3.4 .8 4 2.2 1.6-.2 3-1.7 3-.4 4 .4 2.4 1 2.6 .4 3.4 1.7 1.6 0 3.4-1" stroke="#0098b0"/>
<path d="M192.8 1283.7l2.4 5.2 1 1.6 1 .9 3 2 4 5.4 2 2.3 1.6 1 3.4 .6 4 1.5 1.6 1.5 3.4 5 1.6 1.2 1 .2 1-.3 4-3.4 5-1.8 2.4 .2 4.6 2.1 2 .2 1.4-.6 2.6-1.5 4-3.7 4-2.7 3-2.9 2.4-3.3 2.6-5 2-5 1-1.3 .4 0 2 .8 2 .3 2-.1 1.6-.4 5.4-3.7 4-3.1 5-2.8 3.6-1.4 8-1.4 5-1.8 10-4.6 5.4-3.2 5-4.5 3.6-4.2 3.4-5.2 3-6.1 2.6-6.8 6.4-27.7 3.6-12.5 3-8.8 4-9.4 3.4-6.9 4-6.1 1-1.1 1.6-.9 2.4-.5 2.6 1 10.4 10.6 4.6 3.4 3 1.2 2 .3 4 0 9-2 4.4-.4 4.6 1.3 5.4 .3 6.6 2.2 2 .3 4-.6 6-1.9 1.4-.2 3 1.9 3.6 1.8 4 2.7 1 .4 1.4-.6 3-2.2 1.6 0 5.4 1.1 1.6-.1 1.4-.8 4-4.1 2.6-3.2 4-5.9 3.4-6.1 5-10.5 3.6-9.3 2-8.5 1.4-11.3 2-24.2 9.6-132.4 8.4-100 10-122.3 3.6-38.9 3-29.1 2-15.7 2-13.3 1.4-7.7 1.6-5.8 2-5.6 2.4-5 1.6-1.9 1.4-1.5 2.6-1 1.4 .5 19 10.6 15 7.8 4 1.3 .6 .1 2-.5 1.4 1.6 1.6 1.2 6 2.8 7 1.4 6 1.6 7 1.4 13 2 6 2.5 5.4 1.5 17 2.1 11.6 .1 13-1.7 7.4-1.5 5.6-.3 2.4 .7 13 5.6 3 .7 4-.5 3-1.1 3.6-2.1 3-2.9 1.4-1 .6 .1 .4 .5 2 2.8 .6 .3 .4-.4 2-3.1 2.6-2.4 2.4-3.1 2.6-2 2.4-.9 3.6-.3 4.4-.9 4.6-1.7 1.4-1.2 4.6-5.2 6.4-6.6 3.6-3 5.4-4.1 13.6-8.5 15.4-8 3-1.2 6-1.8 12-2.4 15-4.7 9-1.8 4-.1 2.6 .4 2.4 1 2 1.6 1.6 1.6 1.4 2.1 9 16.6 3 4.8 2 2.7 6 4.9 7.6 2.8 13 2.2 7-.2 4.4-.4 7.6-1 4-.9 9.4-3 8-2.9 7-1.9 3-.4 7 .1 10-1.2 6 .5 6 1.4 5 2.1 7 4.3 6 4.7 3 3 8 9.5 3.6 5.3 25 53.6 9 21.7 5.4 14.5 3.6 12.2 6 23.3 2.4 11.6 2 11.4 2.6 16.9 3 23.4 5.4 53.1 1.6 11.9 5.4 37.2 2.6 13.5 3.4 17 3.6 13.6 2 6.5 3 7.8 3.4 7.2 5 7.4 3.6 4 2.4 2.1 3.6 2.5 4 1.7 5 .9 3.4 .3 4-.4 2.6-.8 4-2 4-2.9 3.4-3.7 5-6.3 4-5.8 13-22 9.6-17.1 26-49.5 8.4-14.3 5-7.6 10.6-14.9 13-17 5-6.1 10-10.9 8.4-8.2 12-10.2 8.6-5.9 4.4-2.9 7-3.7 8.6-3.7 9.4-2.7 3.6-.5 3 0 6.4 .6 5.6 1.7 8 3.3 7.4 3.8 4 2.4 8.6 6.3 10 8.7 6.4 6.6 15 17.4 4.6 3.9 4.4 2.7 3.6 1.6 4.4 1.1 14.6 .2 8 .8 5.4 1.3 5 1.5 2 .8 3 2.3 4.6 4.7 2.4 4 3 3.6 5.6 7.3 3.4 6.5 7.6 15.7 1.4 4.6 6.6 23.5 2.4 12.8 4.6 19.1 7 35.6 7 31.2 2 12.2 2.4 18.3 2 17.2 1 11.9 .6 3.4 1.4 1.4 1 .1 8-1.3 8-4.4 5-2.2 3.6-2.3 1-.2 2.4 0 2.6-.7 3-.2 6-2.3 5-1.2 4.4-2 4-.9 4-2.3 7.6-3.5 3-2 5-2.5 7-5.1 7-3.8 4-2.8 8-6.4 8-5.7 4-3.4 5.4-1.8 1.6-.9 5.4-6.2 3.6-3 5.4-5.5 5-3.7 4-4 4-3.5 3-3.4 2.6-2.4 7-7.5 4.4-3.8 6-5.6 3-3.3 8-7.9 10-7.8 8.6-5.2 2-.8 4-.9 4.4-1.7 4.6-1.3 4.4-.8 9.6-.7 1.4 .1 2.6 1 3.4-.4 3 .5 4-.2 3.6-.8 4-.2 8 .8 3 .7 4 .3 3 .7 3.4-.6 2.6 .4 2.4-.1 4 1.5 4.6 1.3 5 2.9 4.4 1.8 3 1.7 9 5.5 6 4.6 3.6 2 1.4 1.4 2.6 3 3 1.4 3.4 4.1 4 4.1 6.6 3 3 .6 1 .5 2 1.7 3.4 3.9 3.6 2.7 1 .3 3-.3 2 .4 4.4 2.2 4 1.3 1 .7 3 3.1 3 .9 8 4.5 4 1.2 3.6 3.3 3 2.2 2.4 2.2 1 .2 2-.2 1 .4 9 7.3 4.6 .6 1 .5 2.4 1.9 1.6 .8 2 .7 3.4 .5 8 5.5 5 2.5 4 .8 2.6-.8 1.4 .1 1 .8 2.6 4.1 1 .9 3.4 .6 3.6 1.7 4.4 .1 4 2.1 3 .4 3.6 3 3.4 1.5 2.6 2.1 3.4 .8 3.6 1.9 1.4 .2 3-1.8 2-.5 1.6-.2 3.4 .4 3 1.1 2.6 .4 3.4 1.6 1.6 0 3.4-1.2" stroke="#28a8a5"/>
<path d="M192.8 1281.1l2.4 5.1 1 1.5 1 .9 3 1.9 4 5.1 2 2.2 1.6 .9 3.4 .6 4 1.4 1.6 1.3 3.4 4.6 1.6 1.2 1 .1 1-.2 1-.7 3-2.9 5-2 2.4 0 4.6 1.9 1.4 .2 1.6-.4 3-1.9 4-3.9 4-2.9 3-3 2.4-3.4 2.6-5.1 2-4.9 1-1.2 .4-.1 2 .6 2 .2 3-.5 2-1.1 8-6 5-2.9 3.6-1.3 8.4-1.8 9-3.7 6.6-3.3 4.4-2.8 4.6-4.1 2.4-2.7 3.6-4.6 2-3.3 2.4-5 2-5 7.6-29.6 3.4-11.7 3.6-9.3 3.4-7.8 3.6-6.4 3.4-5.3 2-1.9 2.6-1 1.4 .1 1.6 .6 10.4 8.6 4 2.4 2.6 .7 2.4 .2 4.6-.5 9-2.6 4-.7 1.4 0 3.6 .9 5.4 0 6.6 1.8 2 .3 4-.7 7-2.3 1 .2 2.4 1.6 3 1.3 4.6 2.8 1 .3 1.4-.5 3-2.1 1.6 0 5.4 1 1.6-.2 1.4-.9 4-4 2.6-3 4-5.7 4-6.8 4.4-9.1 3.6-8.9 2-8 1.4-10.7 2-22.8 9.6-124.4 8.4-94.3 10-115.2 3.6-36.7 3-27.5 2-14.7 2-12.6 1.4-7.4 1.6-5.4 2-5.3 2.4-4.8 3-3.2 2.6-.9 1.4 .5 4 2 15 8.5 15.6 8.1 4 1.3 2-.4 1.4 1.5 1.6 1.1 6 2.9 7 1.4 6 1.6 7 1.5 13 2 6 2.5 5 1.3 17.4 1.9 11 0 13.6-2 7.4-1.7 5.6-.5 2.4 .5 13 4.5 3 .5 4.6-1 3-1.3 3-2 3-3.1 1.4-1.1 .6 .1 .4 .4 2 2.6 .6 .2 .4-.3 2-3 2.6-2.3 2.4-2.9 2.6-1.9 2-.7 4-.4 4.4-1 4.6-1.9 1.4-1.3 4.6-5.3 5.4-5.6 5.6-4.7 5.4-4 12-7.6 16-8.7 3-1.4 6-1.8 12-2.8 5-1.5 10.6-3.8 9-2.2 4-.2 2.4 .3 2 .8 2 1.3 1.6 1.5 1.4 1.9 9 15.3 3 4.5 2 2.5 6 4.4 7.6 2.4 13 1.8 10.4-.8 8-1.1 4.6-1 10-3.2 7.4-2.6 7-2 3-.3 7 .2 10-1.2 6 .4 6 1.3 5 1.9 7 4.1 6 4.5 3 2.8 8 8.9 3.6 5 25 50.7 9 20.5 5.4 13.7 3.6 11.6 6 22 2.4 11 2 10.7 2.6 16 3 22.1 5.4 50.1 1.6 11.2 5.4 35 2.6 12.7 3.4 16 3.6 12.7 2 6.1 3 7.3 3.4 6.8 5 6.9 2 2.3 2 1.9 5.6 3.9 4.4 1.7 5.6 .9 4 0 4-.6 3.4-1.6 4-2.4 2.6-2 3-3.2 5-5.9 3.4-4.9 13-20.8 9-15.3 26.6-47.6 8-12.7 6-8.7 11-14.6 15.4-18.9 11.6-12 8.4-7.7 12-9.6 3.6-2.4 9.4-6 7-3.5 8.6-3.6 9.4-2.6 3.6-.4 3 0 6.4 .4 5.6 1.7 8 3.1 7.4 3.5 4 2.3 8.6 6 10 8.2 7 6.8 14.4 15.9 4.6 3.7 4.4 2.6 3.6 1.5 4.4 1 14.6 .2 8 .7 5.4 1.2 5.6 1.6 1.4 .6 3 2.2 4.6 4.5 2.4 3.7 3 3.3 5.6 6.9 3.4 6 7.6 14.6 1.4 4.2 6.6 22 2.4 12.1 4.6 18.1 7 34 7 29.4 2 11.5 2.4 17.6 2 16.3 1 11.5 .6 3.2 1.4 1.5 1 .1 8-1.4 8-4.5 5-2.3 3.6-2.4 1-.2 2.4 0 2.6-.7 3-.2 6-2.3 5.4-1.4 4-1.7 4-.9 4-2.3 7-3.1 3.6-2.2 5-2.4 7-5 7-3.7 4.4-3 7.6-5.9 8-5.5 4-3.3 5.4-1.5 1.6-.9 5.4-6 3.6-2.9 5.4-5.3 5-3.4 4-3.9 4-3.4 3-3.3 2.6-2.2 7.4-7.7 4-3 3.6-3.4 2.4-2.1 3-3.1 8.6-8.1 3.4-2.3 3-2.6 4-2.7 8.6-4.7 5-1 4-1.3 4.4-1.2 5.6-.7 9.4-.5 3.6 1.3 3.4-.4 3.6 .5 4-.1 3-.7 4-.2 7.4 .8 3.6 .8 4 .3 3 .8 3.4-.7 2.6 .3 3-.1 3 1.2 5 1.3 5 2.7 5 2 11.4 6.4 6 4.4 3.6 1.9 1.4 1.3 2.6 2.9 3 1.3 3.4 4 4 3.9 6.6 2.8 3 .5 1 .4 2 1.6 3.4 3.7 3.6 2.6 1 .3 3-.5 2 .2 4.4 2.1 4 1 1 .7 3 2.9 3 .8 8 4.1 4 1 3.6 3.3 5.4 4.2 1 .2 2-.3 1 .4 9 7.1 4.6 .5 1 .4 2.4 1.8 1.6 .8 2 .6 2.4 .2 1 .2 5.6 3.5 2.4 1.8 5 2.3 4 .8 2.6-1 1.4 .2 1 .8 2.6 4 1 1 3.4 .4 3.6 1.6 4.4 0 3.6 1.9 3.4 .5 3.6 3 3.4 1.5 2.6 2.1 3.4 .8 3.6 1.8 1.4 .1 3-1.8 2-.6 1.6-.1 3.4 .4 3 1.1 2.6 .3 2.4 1.3 1 .3 1.6-.1 3.4-1.2" stroke="#5fbe9b"/>
<path d="M192.8 1278.5l2 4.1 1.4 2.4 4 2.7 4 4.9 2 2 1.6 .9 3.4 .6 4 1.2 2 1.7 3 3.8 1.6 1.1 1 .1 1-.3 1-.7 3-2.9 5-2.3 2.4-.1 4.6 1.7 1.4 .1 1.6-.5 3-1.9 4-4 4-3.1 3-3.2 2.4-3.5 4.6-9.9 1-1.2 1-.1 1.4 .4 2 .1 3-.6 2-1.2 8-6.1 5-2.9 3.6-1.4 3-.5 5.4-1.4 9-3.8 6.6-3.4 4.4-2.9 4.6-4.1 2.4-2.7 3.6-4.6 2-3.2 2.4-4.8 2-4.8 7-26.5 4-12.8 3.6-9.1 3.4-7.4 3.6-6.4 3.4-5.3 2-2 2.6-1.2 1.4 0 1.6 .3 10 6.6 4.4 1.9 1.6 .3 3.4-.1 4-.8 9.6-3.4 4-1 1.4-.1 3.6 .7 5.4-.3 7 1.5 1.6 .1 4-.7 7-2.4 1 .2 2.4 1.3 2.6 1 5 2.8 1.4 .2 4-2.4 1.6 0 5.4 .9 1.6-.3 1.4-.9 4-3.9 2.6-3 4-5.5 4-6.4 4.4-8.7 3.6-8.6 2-7.6 1.4-10.1 2.6-27.4 9-110.9 8.4-88.9 10-108.7 3.6-34.6 3-25.9 2-13.9 2-11.8 1.4-7 1.6-5.2 2-5 2.4-4.5 3-3.1 2.6-.8 1.4 .4 4 2.1 15 8.4 15.6 8.1 4 1.4 2-.4 1.4 1.5 1.6 1.1 6 3 7 1.4 6 1.7 7 1.5 4 .8 9 1.2 6 2.4 5.4 1.4 17 1.6 4.6 0 7.4-.3 13-2.2 7-1.9 5.6-.7 2.4 .3 12.6 3.4 3.4 .3 4.6-1.1 3-1.5 3-2.1 3-3.3 1.4-1.2 .6 .1 .4 .3 2 2.4 .6 .2 .4-.3 2-2.9 3-2.7 2-2.2 2.6-1.8 2-.6 4-.4 4-1 5-2.2 1.4-1.4 5.6-6.3 5.4-5.5 4-3.4 6-4.3 12-7.8 15.6-8.8 3.4-1.7 6-2 12.6-3.2 4.4-1.5 10.6-4.1 9.4-2.7 3.6-.3 2.4 .1 2 .6 2.6 1.6 2.4 2.7 2.6 4.2 7 10.6 3 4 1.4 1.7 6 4 7 1.9 13 1.4 10-.8 9-1.3 4.6-1.1 10-3.1 7.4-2.6 7-1.9 3-.3 7 .3 10-1.2 6 .3 6 1.1 5 1.8 6.6 3.6 6 4.1 3 2.6 4.4 4.4 4 4.5 3.6 4.7 25 47.9 9 19.3 5.4 13 3.6 11 6 20.8 2.4 10.4 2 10.2 2.6 15 3 20.9 5.4 47.3 1.6 10.5 5.4 32.9 6 27 3.6 11.9 2 5.7 3 6.8 3.4 6.4 5.6 7.1 3.4 3.3 5.6 3.7 4.4 1.6 5.6 .8 4 0 3.4-.4 4-1.6 4-2.3 2-1.5 3-2.9 5.6-6.2 3.4-4.6 13-19.6 9-14.5 26.6-45 7-10.5 6-8.3 11-14 14-16.3 7-7.3 9-8.6 10.4-8.6 9.6-6.9 10.4-6.3 7.6-3.8 8.4-3.5 9.6-2.5 3.4-.5 3-.1 7 .5 5 1.3 8.6 3.2 7.4 3.3 4 2.2 8.6 5.6 10 7.7 7 6.5 14.4 15 4.6 3.5 4.4 2.4 3.6 1.5 4.4 .9 14.6 .2 8 .6 5.4 1.2 5.6 1.5 1.4 .6 3 2.1 4.6 4.2 2.4 3.5 3 3.1 6 7 9 15.6 1.6 2.9 1.4 4 6.6 20.5 2.4 11.3 4.6 17.3 7 32.4 7 27.7 2 11 2.4 16.7 2 15.6 1 11 .6 3.1 1.4 1.6 1 .1 8-1.4 8-4.7 5-2.4 3.6-2.4 1-.3 2.4 0 2.6-.7 3-.2 6-2.3 5.4-1.3 4-1.7 4-.8 4-2.3 7-3 3.6-2.2 5-2.3 7-4.9 7-3.6 4.4-2.9 7.6-5.8 8-5.3 3.4-2.9 1.6-.7 4.4-.8 1.6-.8 5.4-5.9 3.6-2.8 5.4-5.1 5.6-3.7 3.4-3.3 4.6-3.6 2.4-2.7 2.6-2.2 7.4-7.4 4-2.8 3.6-3.3 2.4-1.9 3-3.1 8.6-7.7 3.4-2.2 3-2.5 4-2.6 4.6-2.1 4-2.3 5.4-.9 3.6-1.1 4.4-1 5-.5 10-.2 3.6 1.4 3.4-.3 3 .6 4 0 3.6-.7 4-.2 2.4 .5 5 .4 3 .7 4 .3 3.6 .8 3.4-.8 2.6 .3 3-.1 3 1.1 5 1.1 5 2.6 5 1.8 11.4 6.1 6 4.2 3.6 1.7 1.4 1.3 2.6 2.7 3 1.3 3 3.3 4.4 4.3 6.6 2.5 3 .4 1 .3 2 1.5 3 3.3 3.4 2.6 1.6 .5 3-.7 2 .1 4.4 1.8 3.6 .7 1.4 .8 2 2.1 1 .7 3 .6 8 3.8 4 .9 4 3.6 2.6 1.7 2.4 2 1 .2 2-.4 1 .3 9 7 4.6 .3 1 .3 2.4 1.8 1.6 .8 2 .5 2.4 0 1 .3 5.6 3.2 2.4 1.9 2.6 .9 2.4 1.2 4 .7 2.6-1 1.4 .1 1 .8 2.6 4.1 1 .9 3.4 .3 3.6 1.5 4.4-.1 3.6 1.9 3.4 .4 3.6 3 3.4 1.5 2.6 2.1 3.4 .8 3.6 1.7 1.4 .1 3-1.8 2-.6 1.6-.2 3 .3 3.4 1.3 2.6 .2 2.4 1.3 1 .2 1.6-.1 3.4-1.2" stroke="#7dd08c"/>
<path d="M192.8 1276.2l2 4 1.4 2.3 4 2.6 4 4.7 2 1.9 1.6 .8 3.4 .5 3.6 .9 1 .5 1.4 1.2 3 3.6 1.6 1 1 .1 1-.3 1-.7 3-3.1 4-2.1 1.4-.5 2-.1 4.6 1.5 1.4 .1 1.6-.5 3-2 4-4.2 4-3.3 3-3.3 2.4-3.6 4.6-9.8 1-1.2 1-.1 1.4 .3 2 0 3-.7 2-1.2 8-6.3 5-2.9 3.6-1.3 3-.6 5.4-1.5 9-4 6.6-3.5 4.4-2.9 4.6-4.2 2.4-2.7 3.6-4.5 2-3.2 2.4-4.7 2-4.6 7-25.2 4-12.2 3.6-8.7 3.4-7.3 3.6-6.2 3.4-5.4 2-2 2.6-1.4 1.4-.2 1.6 .1 10 5 5.4 1.3 3.6-.4 4-1.2 10-4.3 5-1.4 4 .4 6-.4 6.4 1.1 1.6 .1 3.4-.8 6.6-2.2 1.4-.3 5.6 2.1 4.4 2.4 1.6 .4 1-.2 3-1.9 1-.3 5.4 .8 1.6 0 1.4-.5 1-.6 5-5 5.6-7.1 4.4-7.1 4-7.5 3.6-8.2 2-7.2 1.4-9.5 2.6-25.8 9-104.3 8.4-83.9 10-102.4 3-28.2 3-25.2 3-19.7 1.6-8.3 1.4-6.6 1.6-4.8 2-4.8 2-3.6 2-2.3 1.4-1.3 1-.5 1.6-.3 1 .2 4.4 2.2 15.6 8.7 15 7.9 4 1.4 2-.2 1.4 1.4 1.6 1.1 6 3 7 1.4 6 1.7 7 1.6 4 .8 9 1.2 6 2.3 5 1.3 17.4 1.5 11-.3 13.6-2.4 7.4-2.2 6-1 1.6 .1 5.4 1 5.6 1.2 3.4 .5 2-.1 4.6-1.4 3-1.5 3-2.3 3-3.4 1.4-1.3 .6 0 .4 .3 2 2.2 .6 .2 .4-.4 2-2.7 3-2.5 2-2.1 2.6-1.7 2.4-.7 3.6-.2 4-1.1 5-2.4 1.4-1.4 5.6-6.5 5.4-5.4 3.6-3 6.4-4.7 12-7.9 5-2.8 11.6-6.9 3-1.4 6-2.1 11-2.9 5-1.8 11.4-4.8 7.6-2.5 4-.8 2.4-.2 2 .2 2 .8 2 1.3 2 2 2.6 3.9 6.4 9 4 5 2 1.7 4.6 2.7 1.4 .5 7.6 1.5 12.4 .8 9-1.1 10-1.7 4.6-1.1 4.4-1.5 4-1.1 8.6-2.9 7-1.8 2.4-.2 7 .4 9.6-1.2 6.4 .2 5 .8 4.6 1.3 2.4 1.1 6.6 3.5 5 3.2 2.4 2 5.6 5.2 5.4 6 3 4.6 7.6 14 6 10.4 10 18.3 12 24.7 2 4.6 2 5.6 8 25.8 2.4 9.8 2 9.6 2.6 14.3 3 19.7 6.4 51.5 5.6 31.5 2 9.4 4 16.6 3.4 11.4 2 5.6 3 6.7 3.6 6.2 3.4 4.5 4 4.4 4 3 3.6 2.1 1.4 .6 4 1.1 5 .5 4 0 4-.7 4-1.7 4.6-2.6 3.4-3.2 4.6-4.8 4.4-5.4 13-18.6 9-13.6 26.6-42.6 7.4-10.6 6-7.7 11-13.3 16-17.4 12-11.2 8-6.4 12.6-8.8 12.4-7.2 7-3.2 8-3.2 9.6-2.4 3.4-.5 3 0 7 .3 5 1.3 8 2.8 4.6 2 3.4 1.3 3.6 1.7 3.4 2.4 5 2.9 10.6 7.7 7 6.1 14.4 14.2 4.6 3.3 5 2.5 3.4 1.3 4 .7 14.6 .1 8 .6 5 1.1 6 1.5 1.4 .6 3 2 4.6 3.9 3 3.9 2.4 2.4 6 6.5 9 14.4 1.6 2.7 1.4 3.7 5 14.2 1.6 4.9 2.4 10.7 4.6 16.4 7 31 7 26.1 2 10.4 2.4 16 2 15 1 10.4 .6 3 1 1.2 1 .6 7.4-1.2 1.6-.5 7-4.3 5.4-2.8 3.6-2.5 1-.2 2.4 0 2.6-.7 3-.2 6-2.3 5-1.1 5-2 3.4-.7 4-2.2 7-2.9 3.6-2.2 5-2.2 7-4.9 7-3.4 4.4-2.9 7.6-5.6 8-5.1 3.4-2.9 1.6-.5 4.4-.7 1.6-.7 5.4-5.8 3.6-2.7 5-4.5 1.4-1.2 4.6-2.7 3.4-3.1 4.6-3.5 2.4-2.7 2.6-2 7-6.7 4.4-3.1 3.6-3.1 2.4-1.9 3-3 8.6-7.4 3.4-2.1 3-2.3 4-2.5 4.6-2 4-2.1 2-.4 3.4-.3 3.6-1 4.4-.8 3.6-.3 11.4 0 3.6 1.5 3.4-.2 3 .6 4 .1 3.6-.7 4-.1 2.4 .5 5 .4 3 .7 4 .4 3.6 .7 3.4-.8 2.6 .2 2.4-.2 3.6 1.2 5 .9 5 2.4 5 1.7 11.4 5.7 6 4 4 2 3.6 3.5 3 1.1 3 3.2 4.4 4.3 6.6 2.2 4 .5 2 1.4 3 3.2 3.4 2.5 1.6 .5 3-.9 2 0 4.4 1.5 3.6 .6 1.4 .7 2 2 1 .7 3 .4 7.6 3.3 4.4 1 4 3.6 2.6 1.6 2.4 1.9 1 .1 2-.5 1 .3 8 6.3 1 .6 4.6 .1 1 .4 2.4 1.7 1.6 .7 2 .5 2.4-.1 1 .2 5.6 3.1 2.4 1.8 5.6 2.1 3.4 .6 2.6-1.1 1.4 0 1 .8 2.6 4.1 1 .9 3.4 .2 3.6 1.4 4.4-.2 1 .4 2.6 1.5 3.4 .4 3.6 2.9 3.4 1.6 2.6 2.1 3.4 .7 3.6 1.7 1.4 .1 3-2 2-.6 1.6-.2 3.4 .5 3 1.1 2.6 .2 2.4 1.3 1 .2 1.6-.1 3.4-1.3" stroke="#8cda80"/>
<path d="M192.8 1273.9l2 4 1.4 2.2 4 2.6 4 4.4 2 1.8 1.6 .8 3.4 .5 4.6 1.1 1.4 1.1 3 3.4 1.6 .9 1 .2 1-.4 1-.7 3-3.2 5.4-2.9 2-.2 4.6 1.4 1.4 0 1.6-.5 3-2.1 4-4.2 4-3.5 3-3.4 2.4-3.7 4-8.8 1-1.7 .6-.4 1-.2 1.4 .2 2-.1 3-.8 1.6-.9 8.4-6.6 5-2.9 3.6-1.4 3-.6 5.4-1.6 9-4.1 6.6-3.6 4.4-3 7-6.9 3.6-4.5 2-3.1 2.4-4.5 2-4.5 7-24 4-11.8 3.6-8.3 3.4-7.1 3.6-6.2 3.4-5.3 2.6-2.5 2.4-1.4 2.6-.2 10 3.5 5.4 .5 3.6-.9 4-1.6 10-4.9 4.4-1.6 1.6-.2 3 .3 6-.7 8 .8 3.4-.8 7.6-2.6 1 .1 4.4 1.6 5 2.2 1.6 .4 1-.2 3-1.8 1-.3 5.4 .8 1.6-.1 1.4-.5 1-.7 5-4.9 5.6-6.8 4.4-6.8 4-7.2 3.6-7.9 2-6.8 1.4-9 2.6-24.3 9-98.2 8.4-79.1 10-96.5 3-26.6 3-23.8 3-18.6 1.6-7.8 1.4-6.2 1.6-4.6 2-4.6 2-3.4 2-2.2 1.4-1.2 1.6-.6 1-.2 1.4 .5 4 1.9 15.6 8.7 15 7.9 4 1.5 2-.2 3 2.4 6 3.1 7 1.5 6 1.7 7 1.6 4 .8 9 1.2 6 2.3 5 1.2 17.4 1.4 10.6-.4 14-2.7 7.4-2.4 5.6-1.1 2.4 0 10 1.4 5.6 .1 5-1.7 3-1.7 3-2.3 3-3.6 1.4-1.4 .6-.1 .4 .3 2 2 .6 .2 .4-.4 2-2.6 3-2.4 2-1.9 2-1.3 2.6-.8 4.4-.4 4-1.4 4-2 1.6-1.2 6-7.1 5.4-5.4 3.6-2.9 6.4-4.7 12-8.1 5-2.8 12-7.4 2.6-1.2 6-2.3 11-3.1 5-1.8 11-5 8-3 5-1.2 2-.2 2 .2 2 .8 2 1.3 1.4 1.5 2.6 3.5 6.4 8.3 4 4.6 2 1.5 4.6 2.4 1.4 .4 7.6 1.2 12.4 .5 9-1.3 10-1.8 4.6-1.1 4.4-1.6 4-1 8.6-2.9 6.4-1.7 3-.2 7 .5 9.6-1.3 6.4 .2 5 .7 4.6 1.2 2.4 1 6.6 3.3 5 3 2.4 1.9 5.6 4.9 5.4 5.6 3 4.4 7.6 13.3 6 9.7 10 17.4 12 23.4 2 4.3 2 5.2 8 24.5 2.4 9.3 2 9.1 2.6 13.4 3 18.7 6.4 48.5 5.6 29.6 2 8.8 4 15.6 3.4 10.8 2 5.2 3 6.3 3.6 5.8 3.4 4.2 4 4.1 4 2.8 5 2.6 4 1 4.6 .5 3.4 0 4.6-.5 4.4-1.8 4.6-2.5 3.4-3 4.6-4.5 4.4-5.2 13-17.5 9-13 26.6-40.1 7.4-10.1 6-7.3 11-12.5 16-16.4 12.6-11 7.4-5.7 13-8.6 11.6-6.2 7-3.2 8-3.1 10-2.5 5-.5 8 .3 2 .3 4.4 1.3 7 2.2 4.6 2 3.4 1.1 3.6 1.7 3.4 2.3 5 2.7 12 8.4 5.6 4.6 13.4 12.7 3.6 2.6 2.4 1.5 7 3.1 4 .8 2 .2 13.6 0 7 .5 6 1.1 7 1.8 3 1.7 4.4 3.7 3.6 4.1 2.4 2.2 6 6 9 13.3 2 3.5 6 15.7 1.6 4.6 2.4 10 4.6 15.7 6.4 27.7 7.6 26.5 2 9.9 2.4 15.3 2 14.3 1 10 .6 2.9 1 1.3 1 .6 7.4-1.3 1.6-.4 7-4.5 5.4-2.9 3.6-2.5 1-.2 2 .1 3-.9 3-.2 6-2.2 5-1.1 5-2 3.4-.6 4-2.2 7-2.9 3-1.8 5.6-2.5 7-4.7 7-3.4 4.4-2.7 7.6-5.6 8-4.9 3.4-2.8 1.6-.5 4.4-.5 1.6-.7 5.4-5.6 3.6-2.6 5-4.4 6.4-4 3-2.7 4.6-3.3 2.4-2.5 2.6-2 7-6.5 4.4-2.9 3.6-3 2.4-1.8 3-2.9 8.6-7.1 3.4-1.9 3-2.3 4-2.4 4.6-1.8 4-2 2-.4 3.4-.1 4-1 4.6-.6 4.4-.2 3.6 .3 6 .1 1.4 .3 2.6 1.3 3.4-.1 3 .5 4.6 .2 3-.6 4-.1 2.4 .5 4.6 .4 3.4 .8 4 .4 3 .7 1-.1 3-.8 2.6 .2 2.4-.3 3.6 1.1 5 .8 4.4 2.1 5.6 1.7 11.4 5.4 6 3.8 4 1.8 3.6 3.4 3 1.1 3 3.1 4.4 4.1 1.6 .6 5.4 1.5 2.6 0 1 .2 2 1.4 3 3.1 3.4 2.4 1.6 .4 3-1 2-.2 1.4 .3 3 1.1 3.6 .4 1.4 .6 2 2 1 .6 3 .3 7.6 3 4.4 .8 4 3.6 2.6 1.5 2.4 1.9 1 .1 2-.6 1 .3 8 6.2 1 .5 4.6 0 1.4 .6 2.6 1.7 1.4 .5 1.6 .3 2.4-.1 1 .1 5.6 2.9 2.4 1.8 2.6 .7 3 1.3 3.4 .5 2.6-1.2 1.4 .1 1 .7 2.6 4.1 1 .9 3.4 .1 3.6 1.3 4.4-.2 1 .3 2.6 1.5 3.4 .3 3.6 3 3.4 1.5 2.6 2.2 3.4 .6 3.6 1.7 1.4 0 3-2 2-.6 1.6-.2 3.4 .5 3 1.1 2.6 .2 2.4 1.2 1 .2 1.6-.1 3.4-1.4" stroke="#96e178"/>
<path d="M192.8 1271.8l2 3.9 1.4 2.2 4 2.5 4 4.2 2 1.6 2 .9 2.6 .3 5 1 1.4 1 3 3.1 1.6 1 1 .1 1-.3 1-.8 3-3.3 5.4-3.1 2-.3 4.6 1.2 1.4 0 1.6-.5 3-2.2 4-4.3 4-3.7 3-3.5 2.4-3.7 4-8.8 1-1.6 .6-.5 1-.2 1.4 .2 2-.2 3-.9 1.6-.9 8-6.4 5-3 4-1.6 3-.6 5.4-1.7 9-4.2 6-3.5 5-3.3 7-7 3.6-4.4 2-3 2.4-4.5 2-4.3 7-22.9 4-11.2 3.6-8.1 3.4-6.9 3.6-6.1 3.4-5.3 2.6-2.7 2.4-1.5 2.6-.5 10 2.1 5.4-.2 4.6-1.8 13-7 4.4-1.9 1.6-.2 3 .1 6-.9 8 .4 3.4-.9 7.6-2.6 1 0 4.4 1.4 5 2 1.6 .4 1.4-.4 3-1.7 1.6-.1 4.4 .7 2-.3 1.6-.7 1-.8 5.4-5.5 5-6.2 4.6-6.7 4-7.1 3.4-7.9 2-7.5 1-6.2 2.6-22.8 9-92.5 9-79.1 9.4-86.6 3-25.1 3-22.4 3-17.5 1.6-7.4 1.4-5.9 1.6-4.3 2-4.3 2-3.2 2-2.1 1.4-1.2 1.6-.6 1-.1 1.4 .5 4 1.8 15.6 8.7 15.4 8.2 3.6 1.2 2-.1 3 2.4 6 3.1 7 1.5 6 1.7 7 1.6 4 .9 9.4 1.3 5.6 2.1 5 1.2 17.4 1.2 10.6-.4 14-3 7.4-2.5 5.6-1.3 2.4-.2 10 .7 5.6-.2 5-1.9 3-1.8 3-2.5 3-3.7 1.4-1.5 .6 0 .4 .2 2 1.8 .6 .1 .4-.3 1.6-2 1-.9 4.4-3.7 2-1.2 2-.7 5-.4 4-1.5 4-2.1 1.6-1.3 6-7.1 5-4.9 3.4-3 19-13.3 5-2.8 12-7.6 3-1.5 5.6-2.2 11-3.3 5-1.9 11-5.4 8-3.2 6-1.6 2-.1 1.4 .2 2 .8 1.6 .9 1.4 1.3 2.6 3.2 6.4 7.6 4 4.2 2 1.4 4 1.9 1.6 .5 7.4 .9 13 .2 18-3.2 4-.9 6-2 4.6-1.1 8-2.7 6.4-1.7 3-.2 7 .6 9.6-1.3 6.4 .1 5 .6 5 1.3 8.6 3.9 5 2.8 2.4 1.8 5.6 4.6 5.4 5.3 3 4.2 7.6 12.5 6 9.2 10 16.4 12 22.1 3.4 7.8 8.6 24.4 2.4 8.8 2 8.6 2.6 12.7 3 17.6 6.4 45.8 5.6 27.8 2 8.3 4 14.6 3.4 10.1 2 4.9 3 5.9 3.6 5.4 3.4 4 4 3.8 3.6 2.4 5.4 2.7 4 .9 4.6 .5 4 0 4-.5 4.4-1.7 4.6-2.4 3.4-2.8 4.6-4.3 4.4-4.9 13-16.6 9-12.2 26.6-38 7-8.9 6-6.9 11.4-12.4 16.6-16 12-10 7.4-5.3 13-8.1 11.6-5.9 7-3 8-3 10-2.4 4.4-.5 8.6 .2 2 .3 4 1 7.4 2.4 4.6 1.8 3.4 1 3.6 1.6 3.4 2.2 5 2.6 12 7.9 5.6 4.4 13.4 11.9 3.6 2.5 2.4 1.5 7 2.8 4 .8 11.6 .3 3.4-.1 7.6 .4 6 1.1 7 1.7 3 1.7 4.4 3.4 3.6 3.9 8.4 7.5 9 12.4 2 3.2 6 14.6 1.6 4.3 2.4 9.4 4 13 7 28.5 6 19.6 2 7.4 2 10.1 2 11.9 2 13.7 1 9.6 .6 2.8 1 1.4 1 .6 7.4-1.3 1.6-.5 7-4.6 5.4-2.9 3.6-2.6 1-.2 2 .1 3-.9 3-.2 6-2.2 5-1.1 5-1.9 3.4-.6 4-2.2 3.6-1.3 3.4-1.5 3-1.8 5.6-2.4 7-4.7 7-3.3 4.4-2.6 7-5.1 8.6-5.1 3.4-2.7 1.6-.5 4.4-.3 1.6-.6 5.4-5.5 4-3 4.6-3.8 6.4-3.8 3-2.6 4.6-3.2 2.4-2.4 2.6-1.9 7-6.3 4.4-2.7 3-2.5 3-2.1 3-2.9 8.6-6.8 3.4-1.8 3-2.2 4-2.3 4.6-1.7 4-1.9 2-.3 3.4 0 4-.8 4.6-.5 4.4 0 3.6 .4 6 .2 1.4 .4 2.6 1.3 3.4-.1 3 .6 4.6 .3 3-.6 4 0 2.4 .5 4.6 .4 3.4 .8 4 .4 3 .7 1-.1 3-.9 2.6 .2 2.4-.3 3.6 1.1 5 .6 4.4 2 5.6 1.5 11.4 5 6 3.7 4 1.7 3.6 3.3 3 .9 3 3.1 4.4 4 1.6 .6 5 1.2 3.4 0 1 .3 1.6 1.1 3 3.1 3.4 2.3 1.6 .3 3-1.2 2-.2 1.4 .2 3 .9 3.6 .3 1.4 .6 2 1.9 1 .6 3 .2 8 2.8 4 .5 1 .7 3 2.9 2.6 1.5 2.4 1.8 1 .1 2-.7 1 .2 8 6.1 1 .6 4.6-.2 1.4 .5 2.6 1.6 1.4 .5 1.6 .3 2.4-.2 1 .1 5.6 2.8 2.4 1.7 2.6 .7 3 1.2 3.4 .4 2.6-1.2 1.4 0 1 .7 2.6 4.2 1 .9 3.4 0 3.6 1.2 4.4-.4 1 .3 2.6 1.5 3.4 .3 3.6 2.9 3 1.3 3 2.5 3.4 .6 3.6 1.6 1.4 0 3-2 2-.7 1.6-.2 3.4 .5 3 1.1 2.6 .1 2.4 1.3 1 .2 1.6-.2 3.4-1.5" stroke="#92e26e"/>
<path d="M192.8 1269.8l2 3.8 1.4 2.2 4 2.4 3.6 3.5 2.4 2 2 .9 7.6 1.1 1.4 .9 3 2.9 1.6 .9 1 .1 1-.3 1-.9 3-3.3 5.4-3.3 2-.4 4.6 1.1 1.4-.1 1.6-.5 3-2.3 4-4.4 3.4-3.2 3-3.5 2.6-3.5 4.4-9.7 1.6-2 1-.3 1.4 .1 2-.2 3-1 1.6-1 8-6.4 5-3 4-1.6 3-.6 5.4-1.8 9-4.3 6-3.5 4.6-3.1 2-1.7 5-5.1 5.4-7.1 2.6-4.2 2-4 1.4-3.9 6-19.1 4-10.8 3.6-7.8 4-7.6 3.4-5.9 3.6-5.2 2.4-2.5 2-1.3 2.6-.7 10 .7 5.4-.9 4-1.9 14-8.4 3.6-1.7 1.4-.4 3.6-.1 6-1.2 8 .1 3.4-.9 3.6-1.4 4.4-1.3 5.6 1.3 4.4 1.7 1.6 .3 1.4-.4 3-1.6 1.6-.1 4.4 .6 2-.3 1.6-.7 1-.8 5.4-5.5 5-6 4.6-6.4 4-6.8 3.4-7.6 2-7.1 1-5.9 2.6-21.5 9-87.1 9-74.7 9.4-81.7 3-23.6 3-21.2 3-16.5 1.6-7 1.4-5.5 1.6-4.2 2-4 2-3.1 2-2 1.4-1.1 1.6-.5 1-.2 1.4 .5 4.6 2.1 15 8.4 15.4 8.2 3.6 1.3 2-.1 3 2.3 6 3.1 7 1.6 6 1.8 7 1.6 4 .9 9.4 1.3 5.6 2 5.4 1.3 17 1 11.6-.7 13.4-3.1 6.6-2.4 6-1.7 2-.2 10 .1 4-.3 2.4-.5 4-1.7 3-1.8 3.6-2.9 3.4-4.5 1-.9 1 .1 2 1.6 .6 .1 3-3.1 4.4-3.4 2-1.1 2-.7 5-.4 4-1.5 4-2.4 1.6-1.2 6-7.2 5-4.9 3.4-3 19-13.3 5-2.9 12-7.8 3-1.5 5.6-2.3 11-3.5 5-2 11-5.7 4-1.6 4-1.9 6.4-1.9 2-.2 1.6 .3 2 .7 1.4 .9 1 .9 2.6 3 7.4 7.9 3 2.8 2 1.2 5.6 2.1 7.4 .7 12.6-.1 3.4-.8 15-2.7 4.6-1.1 5.4-1.8 4.6-1.1 8-2.8 6.4-1.6 3-.2 7 .7 9.6-1.3 6.4 .1 5 .5 5 1.2 8.6 3.6 7 4 6 4.7 5.4 5 3 3.9 7.6 11.8 6 8.7 10 15.5 12 21 3.4 7.3 8.6 23.1 2.4 8.3 2 8.1 2.6 12 3 16.7 6.4 43.2 5.6 26.2 2 7.7 4 13.7 3.4 9.5 2 4.6 3 5.5 3.6 5.1 3.4 3.7 4 3.6 3.6 2.2 5.4 2.5 4 .9 4.6 .4 4 0 4-.4 4.4-1.6 4.6-2.3 3.4-2.7 4.6-4 4.4-4.7 13-15.6 9-11.6 26.6-35.9 7-8.4 6-6.6 11.4-11.7 16.6-15.2 12-9.4 7.4-5 13-7.7 11.6-5.5 7-2.9 8-2.9 9.4-2.2 5-.6 8.6 .2 2 .2 4 1 7.4 2.2 4.6 1.7 3.4 1 3.6 1.5 3.4 2.1 5 2.4 12 7.5 5.6 4.1 13.4 11.4 6 3.7 7 2.7 4 .7 11.6 .3 3.4-.2 7.6 .4 5.4 .9 7.6 1.8 3 1.6 4.4 3.2 3.6 3.7 7.4 6 1.6 1.5 9 11.5 1.4 2.4 6 13.5 1.6 4 2.4 8.8 4 12.5 7 27.2 6 18.5 2 7 2 9.7 2 11.4 2 13.1 1 9.2 .6 2.7 1 1.4 1 .7 7.4-1.4 1.6-.5 7-4.7 5.4-3 3.6-2.6 1-.2 2 0 3-.8 3-.2 6-2.3 5-1 5-1.9 3.4-.6 4-2.2 3.6-1.1 3.4-1.6 3-1.7 5.6-2.4 7-4.6 7-3.2 4.4-2.6 7-5 8.6-4.9 3.4-2.7 1-.3 5-.2 1.6-.6 5.4-5.4 4-2.9 4.6-3.7 6.4-3.6 3-2.5 4.6-3.1 2.4-2.3 2.6-1.8 7-6.1 4.4-2.5 3-2.5 3-2 3-2.7 9-6.9 3-1.4 3-2.1 3.6-2 5-1.8 3.4-1.7 2-.3 4 .1 3.6-.7 4.4-.4 5 .1 3.6 .5 6.4 .4 4 1.9 3-.1 3 .6 4 .3 3.6-.5 4 0 2.4 .5 4 .4 4 .9 4 .4 3 .7 1-.1 3-.9 2.6 .1 2.4-.3 3.6 1 5 .5 4.4 1.9 5.6 1.4 11.4 4.7 6 3.5 4 1.6 3.6 3.2 3 .8 3 3 4.4 3.9 1.6 .5 5.4 1.1 3-.2 1 .3 1.6 1 3 3.1 4 2.4 1 0 3-1.3 2-.3 1.4 .1 3 .8 3.6 .1 1.4 .6 2 1.9 1 .5 3 .1 8 2.5 4 .4 1 .7 3 2.8 3 1.8 1.6 1.2 1 .4 2.4-.8 1 .2 8 6 1 .5 4.6-.3 1.4 .5 2.6 1.5 1.4 .5 1.6 .3 2.4-.4 1 .1 5.6 2.6 2.4 1.8 2.6 .6 3 1.1 3.4 .4 2.6-1.3 1.4 0 1 .7 2.6 4.2 1 .9 3.4-.1 3.6 1.1 4.4-.4 1 .3 2.6 1.4 3.4 .3 3.6 2.9 3.4 1.5 2.6 2.2 3 .5 4 1.7 1.4-.1 3-2 2-.7 1.6-.2 3 .4 3.4 1.2 2.6 .1 2.4 1.3 1 .2 1.6-.3 3.4-1.5" stroke="#80de64"/>
<path d="M192.8 1268l2 3.7 1.4 2.1 4 2.4 3.6 3.3 2.4 1.9 2 .8 7 .8 1 .3 1 .6 3 2.8 1.6 .8 1 .1 1-.4 1-.8 3-3.5 5.4-3.4 2-.5 4.6 1 1.4-.2 1.6-.5 3-2.3 4-4.5 3.4-3.3 3-3.6 2.6-3.6 4.4-9.6 1.6-2 1-.3 3.4-.3 2.6-.8 2-1.2 3-2.6 5-3.8 5-3 4-1.6 3-.7 5.4-1.8 9-4.5 6-3.6 4.6-3 2-1.8 5-5.1 5.4-7 2.6-4.2 2-3.8 1.4-3.8 6.6-19.6 3.4-9.1 4-8.5 4-7.3 5-8.1 2-2.8 2.6-2.3 1.4-1 2.6-1 9.4-.4 5.6-1.4 4.4-2.6 13.6-8.9 3.4-1.9 2-.7 3.6-.3 6-1.3 8-.2 3.4-1 3.6-1.5 4.4-1.3 5 .9 5 1.7 1.6 .3 1.4-.5 3-1.5 1.6 0 4.4 .5 2-.3 2.6-1.7 5.4-5.3 5.6-6.5 4.4-6.3 4-6.7 3-6.4 2-6.8 1-5.6 2.6-20.2 9-82.1 10-78.5 8.4-69 3-22.4 3-20 3-15.5 1.6-6.6 1.4-5.2 1.6-4 1.4-3 2-3.1 2-2.1 1.6-1.1 1.4-.7 1.6-.3 1.4 .5 4.6 2 15.4 8.7 15 7.9 3.6 1.3 2 0 3 2.3 6 3.1 7 1.6 6 1.8 7 1.7 4 .8 9.4 1.4 5.6 2 5.4 1.2 17 .9 11.6-.8 13.4-3.3 6.6-2.6 6-1.8 2-.3 10-.5 3.4-.4 3-.7 3.6-1.7 3-1.7 3.4-2.9 1.6-1.7 2.4-3.4 1-1 1 0 2 1.5 .6 .1 3-3 4.4-3.2 1.6-.8 2-.8 5.4-.4 4-1.7 4-2.4 1.6-1.3 5.4-6.7 5.6-5.4 3-2.5 19.4-13.8 5-3 12.6-8.2 8-3.7 11-3.7 5-2.1 11-5.9 4-1.7 4.4-2.3 4.6-1.6 2.4-.6 1.6 0 1.4 .2 3 1.3 1 .8 2.6 2.7 3.4 3.1 4 4.1 3 2.6 1.6 .8 4.4 1.7 1.6 .3 7.4 .5 13-.5 3-.8 5.6-1 14-3 5.4-1.8 4.6-1.1 8-2.7 7-1.7 2.4 0 7 .7 9.6-1.3 6.4 0 5 .4 5 1.2 8.6 3.4 7 3.7 6 4.4 5.4 4.7 3 3.7 7.6 11.2 6 8.2 10 14.6 12 19.8 3.4 7 8.6 21.8 2.4 7.9 2 7.7 2.6 11.3 3 15.7 6.4 40.8 5.6 24.6 2 7.3 4 12.8 3.4 8.9 2 4.4 3 5 3.6 4.8 4 4 3.4 2.9 3.6 2 5.4 2.4 4 .8 4.6 .4 4 0 4-.4 4.4-1.5 4.6-2.1 3-2.2 5-4.3 4.4-4.4 13-14.8 9-11 26.6-33.9 7-7.9 6-6.2 11.4-11.1 16.6-14.4 12-8.9 7.4-4.7 9-4.9 4-2.4 11.6-5.2 7.4-3 7.6-2.6 9.4-2.1 5-.5 8.6 .1 2 .2 4 1 7.4 2 5 1.8 3 .7 3.6 1.4 3.4 2.1 5 2.2 12 7.1 5.6 3.9 13.4 10.7 6 3.5 7 2.6 4 .7 7 0 4.6 .2 3.4-.1 8 .4 5.6 .9 7 1.6 3 1.5 4.4 3.1 3.6 3.4 7.4 5.5 1.6 1.4 9 10.6 1.4 2.2 6 12.5 1.6 3.7 2.4 8.4 4 11.8 7 26.2 6 17.3 2 6.7 2 9.2 2 11 2 12.6 1 8.8 .6 2.6 1 1.5 1 .6 7.4-1.3 1.6-.6 7-4.8 5.4-3.1 3.6-2.6 1-.2 2 .1 3-.9 3-.2 6-2.3 5-1 5-1.8 3.4-.6 4-2.1 3.6-1.2 3.4-1.5 3-1.8 6-2.5 6.6-4.3 7-3.1 4.4-2.5 3-2.3 4-2.7 8.6-4.7 3.4-2.6 1-.4 4.6 .1 1.4-.3 1.6-1.1 4.4-4.5 4-2.8 4.6-3.6 6.4-3.4 3-2.4 4.6-3 2.4-2.2 2.6-1.8 7-5.8 5-2.8 2.4-2 3-1.9 3-2.7 8.6-6.3 3.4-1.7 3-2 3.6-1.9 5-1.7 3-1.4 2-.5 4.4 .2 3.6-.5 4.4-.3 5 .3 3.6 .6 6.4 .5 3 1.7 1 .3 3-.1 3 .7 4 .4 3.6-.5 4 0 2.4 .5 4 .4 4 1 4 .4 3 .6 1-.1 3-.9 2.6 0 2.4-.3 3.6 1 5 .4 4.4 1.8 5.6 1.2 11.4 4.4 6 3.3 4 1.6 3.6 3 3 .8 3 2.9 4.4 3.8 1.6 .5 5.4 .9 3-.3 1 .2 1.6 1 3 3 4 2.3 1 .1 3-1.6 2-.4 1.4 .1 3 .8 3.6-.1 1.4 .5 2 1.8 1 .5 3 0 8 2.3 4 .3 1 .6 3 2.9 3 1.7 1.6 1.1 1 .4 2.4-.9 1 .2 8 5.9 1 .5 4.6-.4 1.4 .4 2.6 1.5 1.4 .5 1.6 .2 2.4-.4 1 0 5.6 2.5 2.4 1.7 2.6 .6 3 1 3.4 .4 2.6-1.3 1.4-.1 1 .7 2.6 4.2 1 .9 3.4-.2 3.6 1.1 4.4-.6 1 .3 2.6 1.5 3.4 .2 3.6 2.9 3.4 1.5 2.6 2.3 3 .4 4 1.6 1.4-.1 3-2 3.6-.9 3 .4 3.4 1.2 2.6 .1 2.4 1.2 1 .2 1.6-.3 3.4-1.6" stroke="#66d85a"/>
<path d="M192.8 1266.2l2 3.7 1.4 2.1 4 2.3 3.6 3.1 2 1.5 2.4 1.1 8 .9 1 .5 3 2.6 1.6 .8 1 .1 1-.4 1-.8 3-3.6 4.4-3.1 1.6-.7 2-.3 4 .7 1.4-.1 1.6-.6 3-2.3 4-4.6 3.4-3.4 3-3.6 2.6-3.7 4.4-9.5 1.6-2 1-.3 3.4-.5 2.6-.8 2-1.2 3-2.7 5-3.8 5-3 4-1.6 3-.7 5-1.7 9.4-4.7 6-3.7 4.6-3.1 2-1.8 5-5.1 5.4-7 2.6-4 2-3.8 1.4-3.6 6-17.6 4-9.9 4-8.3 4-7.2 5.6-8.8 2-2.6 2.4-2.3 3.6-1.8 9.4-1.5 5.6-2 18-12.7 3.4-2.1 2-.8 3.6-.4 6-1.6 8-.5 3.4-1 4.6-1.9 3.4-.9 5 .6 5 1.6 1.6 .2 1.4-.4 3-1.5 6 .5 2-.4 2.6-1.7 6-5.8 5-5.7 4.4-6.1 4-6.5 3-6.2 2-6.4 1-5.3 2.6-19.1 9-77.4 10-74.1 8-61.5 6-40.8 3-15.3 3-11.9 1.4-4.1 1.6-3.1 2-3.1 2-2.2 1.4-1.2 1.6-.9 2-.4 1 .3 5 2.2 15.4 8.6 15 8 3.6 1.3 2 0 3 2.3 5 2.7 5 1.4 3 .6 6 1.9 10.4 2.5 10 1.4 5.6 2 5.4 1.1 17 .9 11.6-.9 13.4-3.5 7-2.9 6-1.9 12.6-1.4 4.4-1 2.6-1.1 4.4-2.6 3.6-2.9 1.4-1.5 2.6-3.5 1.4-1.7 1-.1 2 1.4 .6 0 2.4-2.5 5.6-3.6 3-1.1 5.4-.5 4-1.7 4-2.5 1.6-1.4 5.4-6.7 5.6-5.4 2.4-2.1 20-14.2 5-3 12.6-8.5 8-3.8 11-3.9 5-2.1 11-6.2 4-1.8 4-2.2 4.4-1.8 3-.9 1.6-.1 1.4 .2 2 .6 1.6 .8 11 9.7 3.4 2.5 6 1.9 6 .2 15-.8 3-.9 19.6-4.1 5.4-1.8 4.6-1.1 8-2.6 6.4-1.6 3-.1 7 .8 10-1.4 6 0 4.6 .3 7 1.5 6.4 2.6 5.6 2.5 7.4 5 6 4.8 3 3.5 7.6 10.5 5.4 7.1 10.6 14.5 9.4 14.6 4 6.7 2 4 8.6 20.6 2.4 7.5 2 7.3 2.6 10.7 3 14.8 6.4 38.5 5.6 23.1 2 6.8 4 12.1 3.4 8.3 2 4.1 3 4.7 3.6 4.5 4 3.7 3.4 2.8 3.6 1.9 5.4 2.2 4 .8 4.6 .3 4 0 4-.4 4.4-1.4 4.6-2 8-6.1 4.4-4.2 13-14 9-10.5 3.6-4.4 3.4-4 19.6-23.7 7-7.4 17.4-16.4 16.6-13.6 12-8.4 7.4-4.5 9-4.5 4-2.3 11.6-5 7.4-2.8 7.6-2.5 10-2.1 4.4-.5 9 .1 5.6 1.1 7.4 2 5 1.6 3.6 .8 3 1.2 3.4 2 5 2.1 12 6.7 5.6 3.7 13.4 10.2 5.6 3 7.4 2.6 4 .7 7 0 4.6 .2 3.4-.2 8 .4 12 2.2 3.6 1.6 4.4 3 3.6 3.2 7.4 5.1 1.6 1.3 5.4 6.2 3.6 3.5 1.4 2 6 11.6 1.6 3.5 6.4 19.1 5 18.6 2 6.5 6 16.4 2 6.3 2 8.8 2 10.5 2 12.1 1.6 11 1 1.5 1 .7 7.4-1.4 1.6-.5 7-5 5.4-3.1 3.6-2.7 1-.2 2 .1 3-.9 3-.2 6-2.3 5-1 5-1.8 3.4-.5 4-2.2 3.6-1.1 3.4-1.4 3-1.8 6-2.5 7-4.4 6.6-2.8 4.4-2.5 3-2.3 4-2.6 8.6-4.6 3.4-2.5 1-.3 4.6 .2 1.4-.3 1.6-1.1 4.4-4.4 4-2.7 4.6-3.6 6.4-3.2 3-2.3 4.6-2.8 12-9.6 5-2.6 2.4-1.9 3-1.9 3-2.6 8.6-6.1 3.4-1.6 3-1.9 3.6-1.8 5-1.6 3-1.3 2-.4 4.4 .3 3.6-.4 4.4-.2 5 .4 7 1.1 3 .2 3 1.8 1 .4 3-.1 2.6 .6 4.4 .5 3.6-.4 4 0 2.4 .6 4 .4 4 1 4 .4 3 .6 1-.1 3-1 2.6 0 2.4-.3 3 .9 5.6 .3 4.4 1.7 5.6 1.1 5 2 6.4 2.1 6 3.2 4 1.4 3.6 3 3 .7 3 2.9 4.4 3.6 1.6 .5 5.4 .8 3-.5 1 .2 1.6 1 3 2.9 4 2.2 1 0 3-1.6 2-.5 1.4 0 3 .6 3.6-.1 1.4 .5 2 1.7 1 .5 3-.2 8 2 4 .3 1 .6 3 2.8 3 1.7 1.6 1.1 1 .3 2.4-.9 1 .1 8 5.8 1 .5 4.6-.5 1.4 .4 2.6 1.4 2 .6 1.4 0 2-.4 1 0 5.6 2.4 2.4 1.7 2.6 .4 3.4 1.1 3 .3 2.6-1.4 1.4 0 1 .6 2.6 4.2 1 .9 3.4-.3 3.6 1 4.4-.6 1 .3 2.6 1.5 3.4 .2 3.6 2.8 3.4 1.5 2.6 2.3 3 .4 4 1.6 1.4-.1 3-2.2 3.6-.9 3 .5 3 1.1 3 .1 2.4 1.2 1 .2 1.6-.3 3.4-1.6" stroke="#48d050"/>
<path d="M192.8 1264.5l2 3.7 1.4 2 4 2.3 3 2.6 2.6 1.8 2.4 1 8 .7 1 .5 3 2.4 1.6 .7 1 .1 1-.4 1-.8 3-3.7 4.4-3.2 1.6-.8 2-.4 4.4 .7 1.6-.3 1.4-.8 2.6-2 4-4.6 3.4-3.5 3-3.8 3-4.6 4-8.6 1.6-1.8 1-.4 3.4-.6 3-1.1 9.6-7.5 5.4-3.2 3.6-1.3 3-.8 5-1.7 9.4-4.9 6-3.7 4.6-3.2 2-1.8 5-5.1 5.4-6.9 4.6-7.7 1.4-3.5 6-16.8 4-9.6 4-8 4-7.1 5.6-8.7 2.4-3.2 2.6-2.3 3-1.7 9.4-2.5 5.6-2.6 17.4-13.4 4-2.6 2-.9 3.6-.5 6-1.8 8-.7 3.4-1.1 4-1.8 4-1.1 5 .4 5 1.4 1.6 .2 1.4-.4 3-1.4 6 .4 2-.5 2-1.2 6.6-6.2 5.4-6.1 4.6-6.1 3.4-5.5 3-6 2-6.1 1-5 2.6-18 9-73 10.4-73.7 7.6-54.5 6-38.4 3-14.4 3-11.3 1.4-3.8 1.6-3 2-2.9 2-2.1 1.4-1.2 1.6-.8 2-.4 1 .3 5 2.2 15.4 8.6 15 7.9 3.6 1.4 2 .1 3 2.1 5 2.8 5 1.4 3 .6 6 1.9 10.4 2.5 10 1.5 5.6 1.9 5.4 1.2 17 .7 11.6-1 13.4-3.6 7-3 6.6-2.2 12-1.9 4-1.1 2.4-1.1 4.6-2.6 3.4-2.9 2-2 2.6-3.6 1.4-1.7 1-.2 2 1.2 .6 .1 2.4-2.5 5-3.1 3-1.2 6-.5 4-1.8 3.6-2.3 2-1.7 5.4-6.8 7.6-7.1 20.4-14.6 5-3 12.6-8.6 8-4 11-4 5-2.2 11-6.4 4-1.9 4.4-2.6 5-2.1 2.6-.7 1.4-.1 1.6 .2 3 1 11 8.8 3.4 2.3 5.6 1.5 6 .1 15.4-1.1 3.6-1.1 19.4-4.3 5-1.7 4.6-1 8-2.7 6.4-1.5 3-.1 7 .9 10-1.4 6-.1 4.6 .3 7 1.4 6.4 2.4 5.6 2.4 7.4 4.6 5.6 4.1 3 3.1 8 10.6 5.4 6.7 10 13 9.6 13.7 4.4 7.1 2 3.8 8.6 19.5 2.4 7.1 2 6.8 2.6 10.1 3 14.1 6.4 36.3 5.6 21.7 2 6.4 4 11.3 3.4 7.8 2 3.8 3 4.4 3.6 4.3 4.4 3.8 3 2.2 3.6 1.8 5.4 2.1 4 .7 4.6 .3 4 0 4-.4 4.4-1.4 4.6-1.8 8-5.9 4.4-3.9 13-13.3 9-9.9 3.6-4.2 3.4-3.8 19.6-22.4 7-7 17-15.1 17-13.2 12-8 7.4-4.2 9-4.3 4-2.2 11.6-4.6 7.4-2.8 7.6-2.4 9.4-2 5-.5 6 .2 3-.2 5.6 1.1 4 1.1 3.4 .7 4.6 1.5 4 .9 3.4 1.3 3.6 1.9 4.4 1.7 12 6.4 5.6 3.5 13.4 9.6 5.6 2.9 7.4 2.4 4 .7 7-.1 4.6 .2 3.4-.1 8 .3 12 2.1 3.6 1.6 4.4 2.8 3.6 2.9 7.4 4.7 1.6 1.2 5.4 5.8 3.6 3.2 1.4 1.8 6 10.8 1.6 3.2 6.4 18.1 5 17.9 2 6.2 6 15.4 2 6 2 8.4 2 10.1 2 11.7 1.6 10.6 1 1.5 1 .7 7.4-1.4 1.6-.6 7-5 5.4-3.2 3.6-2.8 1-.2 2 .1 3-.9 3-.1 3-1.3 3-1 5-1 5-1.8 3.4-.5 4-2.1 3.6-1.1 3.4-1.4 3-1.8 6.6-2.7 6.4-4.1 6.6-2.7 4.4-2.4 3-2.3 4-2.5 8.6-4.6 3.4-2.5 1-.2 4.6 .3 1.4-.2 1.6-1 4.4-4.4 4-2.7 4.6-3.4 6.4-3 3-2.3 4.6-2.7 12-9.3 5-2.4 2.4-1.9 3-1.8 3-2.6 8.6-5.8 3.4-1.6 3-1.8 3.6-1.8 4-1.1 4-1.6 1.4-.3 5 .4 4-.4 4 0 5 .5 7 1.3 3 .3 3 1.8 1 .4 3 0 2.6 .6 4.4 .6 3.6-.4 4 0 2.4 .6 4 .4 4 1.1 3.6 .3 3.4 .7 1-.1 3-1 2.6-.1 2.4-.3 3 .8 5.6 .2 4.4 1.7 5.6 1 5 1.8 6.4 2 6 3.1 4 1.3 3.6 2.9 3 .5 3 2.9 4.4 3.6 1.6 .4 5.4 .6 3-.6 1 .2 1.6 .9 3 3 4 2.1 1-.1 3-1.8 2-.5 1.4-.1 3 .6 3.6-.3 1.4 .4 2 1.7 1 .5 3-.3 8 1.8 4 .1 1 .7 3 2.8 3 1.6 1.6 1.1 1 .3 2.4-1.1 1 .1 8 5.8 1 .5 4.6-.7 1.4 .4 2.6 1.4 2 .5 1.4 0 2-.5 1 0 5.6 2.3 2.4 1.6 2.6 .4 3.4 1.1 3 .2 2.6-1.4 1.4-.1 1 .7 2.6 4.2 1 .8 3.4-.3 3.6 .9 4.4-.7 1 .3 2.6 1.5 3.4 .1 3.6 2.9 3.4 1.5 2.6 2.3 3 .3 4 1.6 1.4-.2 3-2.1 3-.9 3 .3 4 1.3 2.6 0 2.4 1.2 1 .2 1.6-.3 3.4-1.7" stroke="#2ac846"/>
<path d="M192.8 1263l2 3.6 1.4 2 4 2.2 3 2.5 2.6 1.6 2.4 1 5 .6 3 0 1 .4 3.6 2.5 1.4 .5 1-.1 1-.7 3.6-4.2 4.4-3.3 1.6-.9 2-.4 4.4 .5 1.6-.3 1.4-.8 2.6-2 4-4.7 3.4-3.6 3-3.8 3-4.6 4-8.6 1.6-1.8 1-.4 3.4-.7 3-1.2 9-7.1 5.6-3.3 3.4-1.4 3.6-.9 5-1.8 9.4-5 6-3.8 4.6-3.2 7-7 5.4-6.8 4.6-7.5 1.4-3.4 6-16.2 4-9.2 4-7.8 4-7 6-9.4 2-2.5 2.6-2.4 3-1.9 9.4-3.4 5-2.8 16-13.2 5.6-4 2.4-1.4 3.6-.6 6-1.9 8-1 3.4-1.1 4-1.9 4-1.1 5 .2 5 1.3 1.6 .1 1.4-.4 3-1.3 6 .3 2-.5 2-1.2 6.6-6.1 5.4-6 4.6-5.9 3.4-5.4 3-5.7 2-5.9 1-4.7 2.6-17 9.4-72.3 10-66.2 7.6-51.5 6-36.2 3-13.6 3-10.7 1.4-3.6 1.6-2.8 2-2.8 1.4-1.6 2-1.5 1.6-.8 2-.3 1 .3 5 2.1 9 4.8 6.4 3.8 15.6 8.1 3 1.2 2 .1 3 2.1 5 2.8 5 1.5 3 .6 6.4 2 10.6 2.6 9.4 1.4 5.6 1.8 5.4 1.2 17 .6 11.6-1.1 13.4-3.7 6.6-2.9 7-2.6 11.4-2.4 3.6-1 3-1.3 5-3 3-2.5 2.4-2.5 2.6-3.8 1.4-1.7 1-.2 2 1 .6 .1 2.4-2.4 5-2.9 3-1.1 6-.4 3.6-1.7 3-1.9 2.4-1.9 6-7.4 7.6-7 17.4-12.3 3-2.4 5-3 13-9.1 7.6-3.8 11-4.1 5-2.3 11-6.6 4-2 4.4-2.7 5-2.3 3-.9 3 .1 2.6 .8 11 7.9 3 1.8 5.4 1.4 2 .1 7-.2 12.6-1.2 4-1.3 19.4-4.4 5-1.7 4.6-1.1 8-2.6 6.4-1.5 3-.1 7 1 10-1.4 6-.2 4 .2 7 1.2 7 2.4 5.6 2.2 7.4 4.4 5.6 3.8 3 3 7.4 9.4 6 6.9 10 12.2 9.6 13.1 4.4 6.7 2 3.5 8.6 18.5 2.4 6.7 2 6.5 2.6 9.5 3 13.3 6.4 34.3 5.6 20.4 6 16.6 5 10 3 4.3 4 4.6 7.4 5.6 3.6 1.7 5.4 2 4 .6 4.6 .4 4 0 4-.4 4.4-1.4 4.6-1.7 8-5.6 4.4-3.7 13-12.6 8.6-8.8 4-4.6 3.4-3.5 19.6-21.2 6.4-6.2 17.6-14.8 5-3.4 12-9.1 12-7.5 7.4-4 8.6-3.7 5-2.6 11.4-4.4 13.6-4.5 6.4-1.4 6-1 3-.3 6 .2 3-.2 5.6 1 4 1.1 3.4 .7 4.6 1.3 4 .8 3.4 1.3 3.6 1.8 4.4 1.6 11.6 5.7 6 3.6 13.4 9.1 6 2.9 7 2.2 4 .6 7-.1 4.6 .2 3.4-.2 8 .4 5.6 .8 7.4 1.5 2.6 1.1 4.4 2.7 3.6 2.8 8 4.6 7 6.5 3 2.5 2 2.3 3 5.4 2.4 3.9 1.6 2.9 6.4 17.2 4.6 15.6 2.4 7.6 7 17.2 2 6.8 2.6 11.4 2 10.8 2 13.2 1 1.6 1 .7 7.4-1.5 1.6-.5 7-5.1 5.4-3.3 3.6-2.8 1-.2 2 .1 3-.9 3-.2 3-1.3 3-.9 5-1 5-1.8 3.4-.5 4-2.1 3.6-1 3.4-1.4 3-1.8 6.6-2.6 6.4-4.1 6.6-2.7 4.4-2.3 3-2.3 4-2.4 8.6-4.4 3.4-2.5 1-.2 5 .4 1.6-.4 5.4-5.1 4-2.6 4.6-3.3 1.4-.9 5-2 3-2.2 4.6-2.6 12-9 5-2.3 2.4-1.9 3-1.7 3-2.5 8.6-5.7 3.4-1.4 3-1.8 3.6-1.7 4-1 4-1.5 1.4-.3 1.6 0 3.4 .5 4-.2 4 .1 4.6 .5 7.4 1.5 3 .4 3 1.9 1 .3 3 0 2.6 .7 4.4 .6 3.6-.3 4 .1 2.4 .6 4 .4 4 1.1 3.6 .3 3.4 .7 1-.1 3-1.1 2.6-.1 2.4-.3 3 .8 5.6 .1 4.4 1.6 5 .7 5.6 1.9 6.4 1.8 6 2.9 4 1.3 3.6 2.8 3 .5 3 2.8 4.4 3.5 1.6 .4 5.4 .4 3-.7 1 .2 1.6 .8 3 3 4 2 1-.1 3-1.9 2-.7 1.4 0 3 .4 3.6-.4 1.4 .4 2 1.7 1 .4 3-.4 8 1.6 4 .1 1 .6 3 2.7 3 1.6 1.6 1.1 1 .3 2.4-1.2 1 .1 8 5.7 1 .5 4.6-.8 1.4 .4 2.6 1.3 2 .5 1.4 0 2-.6 1 0 5.6 2.1 2.4 1.7 2.6 .3 4 1.1 2.4 .1 2.6-1.4 1.4-.1 1 .6 2.6 4.2 1 .9 3.4-.4 3.6 .8 4.4-.7 1 .3 2.6 1.4 3.4 .1 3.6 2.9 3.4 1.5 2.6 2.3 3 .3 4 1.5 1.4-.2 3-2.2 3-.9 1.6 0 1.4 .3 3.6 1.3 3 0 2.4 1.2 1 .2 1.6-.4 3.4-1.7" stroke="#0ebe3c"/>
<path d="M192.8 1261.5l2 3.6 1.4 2 3.6 1.8 3.4 2.7 2.6 1.5 2.4 1 5 .5 2-.2 1.6 .2 4 2.6 1.4 .4 1-.1 1-.6 3.6-4.3 4.4-3.5 1.6-.9 2-.5 4.4 .4 1.6-.3 1.4-.7 2.6-2.1 4-4.7 3.4-3.7 3-3.8 2.6-3.8 4-8.6 1-1.6 1-1 1-.5 3.4-.7 3-1.3 1.6-1 3-2.7 4.4-3.4 5.6-3.3 3.4-1.4 3.6-.9 5-1.9 9.4-5 5.6-3.5 5-3.6 7-7.1 6-7.4 4-6.7 1.4-3.3 6-15.5 4-8.9 4-7.7 4-6.8 6-9.4 2-2.6 2.6-2.5 3.4-2.4 9.6-4.2 4.4-3 15-13.3 4.6-3.6 4.4-2.9 3.6-.7 6.4-2.2 7.6-1.1 3.4-1.2 4-1.9 4-1.1 5 .1 5 1 1.6 .2 1.4-.4 3-1.3 6 .3 2.6-.8 1.4-1 4.6-4.2 5-5 3.4-3.9 4-5.2 3-4.5 3-5.5 2-5.7 1-4.5 2.6-16 9.4-68.3 17.6-111.2 6-34.3 3-12.8 3-10.1 1.4-3.4 1.6-2.7 2-2.6 1.4-1.5 2-1.4 1.6-.8 2-.2 1 .3 5 2 9 4.8 6.4 3.7 15.6 8.2 3 1.1 2 .2 3 2.1 5.4 3 4.6 1.3 3 .6 6 1.9 6.4 1.7 4.6 1.1 9.4 1.4 5.6 1.8 5.4 1.1 17 .6 11.6-1.2 13-3.6 7.4-3.4 6.6-2.6 11.4-2.8 3.6-1.3 3-1.3 5-3.2 3.4-3 2-2.2 2.6-3.8 1.4-1.8 1-.3 2.6 1 2.4-2.2 5-2.8 3-1 4.6-.1 1.4-.3 3-1.4 2.6-1.6 3.4-2.7 5.6-6.8 7.4-7.1 18-12.7 3-2.4 5-3.1 13-9.2 7.6-3.9 11-4.3 5-2.3 7-4.2 4-2.6 4-2.1 4.4-2.8 5.6-2.7 2.4-.8 2.6-.1 2.4 .5 14 8.6 1.6 .5 6 1 7-.4 13-1.5 4-1.4 10.4-2.6 9-1.9 5-1.7 4.6-1 8-2.6 6-1.5 3-.2 7.4 1.1 10-1.4 6-.2 4 .2 7 1 7 2.3 5.6 2.1 7.4 4.1 5.6 3.6 3 2.8 7.4 8.8 6 6.5 8.6 9.8 11 14.1 4 5.6 2 3.2 8.4 17.3 3.6 8.9 4 13.7 4 17.2 5 25.7 5 17.9 2.4 7.5 4 10.2 4.6 8.9 1.4 2.4 2.6 3.2 3 3.4 2 1.8 6.4 4.4 3.6 1.5 5.4 1.9 3.6 .6 5 .3 4 0 4-.4 4.4-1.2 4.6-1.7 8-5.3 4.4-3.5 13-11.9 3.6-3.7 5-4.7 4-4.4 3.4-3.3 19.6-20.1 6.4-5.8 17.6-14 5-3.2 12-8.6 12-7.2 7.4-3.7 5-2.2 3.6-1.3 5-2.4 18-6.4 7.4-2.3 12-2.2 3-.2 6 .1 3-.2 5 .8 4.6 1.2 3.4 .6 4.6 1.3 4 .7 3.4 1.2 3.6 1.7 4.4 1.6 11.6 5.4 6 3.4 13.4 8.6 6 2.7 7 2 4 .6 7-.1 4.6 .2 3.4-.2 8 .3 5.6 .8 7.4 1.5 2.6 1.1 4.4 2.5 3.6 2.6 8 4.2 7 6 3.4 2.6 2 2.5 2.6 4.2 2.4 3.6 1.6 2.7 6 14.9 5.4 18.1 2 5.7 6 13.6 1.6 3.9 2 7.1 2 9 2 10.3 2 12.8 1 1.6 1 .7 7.4-1.5 1.6-.5 7-5.2 5.4-3.3 3.6-2.8 1-.3 2 .1 3-.9 3-.1 3-1.3 3-1 5-1 5-1.7 3.4-.5 4-2.1 3.6-1 3.4-1.4 3-1.7 5.6-2.1 7-4.3 7-2.8 4.4-2.3 3-2.3 4-2.4 8.6-4.3 3.4-2.4 1-.2 5 .6 1.6-.4 5.4-5 4-2.6 4.6-3.2 1.4-.8 5-1.9 3-2.2 4.6-2.5 12-8.7 5-2.2 2.4-1.8 3-1.7 3-2.4 8.6-5.5 3.4-1.4 3-1.8 3.6-1.6 4-.9 4-1.5 1.4-.2 1.6 0 3.4 .7 4-.2 5 .3 4.6 .7 6.4 1.5 3 .4 3 2 1 .4 3 0 2.6 .7 4.4 .7 3.6-.4 4 .2 3 .7 3.4 .3 4 1.1 3.6 .4 3 .6 1.4-.1 3-1.1 5-.5 3 .9 5.6-.1 4.4 1.5 5 .7 5.6 1.8 6.4 1.6 3 1.6 3 1.2 4 1.2 3.6 2.7 3 .4 3 2.8 4.4 3.4 1.6 .4 5.4 .3 3-.8 1 .1 1.6 .8 3 2.9 4 1.9 1-.1 3-2 2-.7 1.4-.1 3 .3 3.6-.5 1.4 .4 2 1.6 1 .4 3-.4 8 1.3 4 0 1 .6 3 2.7 3 1.6 1.6 1 1 .3 2.4-1.2 1 .1 8 5.6 1 .4 4.6-.9 1.4 .4 2.6 1.3 2 .4 1.4 0 2-.6 1 0 5.6 2 2.4 1.6 2.6 .3 2.4 .8 2.6 .3 1.4 0 2.6-1.5 1.4-.1 1 .6 2.6 4.3 1 .8 3.4-.5 3.6 .8 4.4-.8 1 .3 2.6 1.4 3.4 .1 3.6 2.8 3.4 1.6 2.6 2.2 3 .4 4 1.4 1.4-.2 3-2.2 3-.9 2.6 .2 4 1.4 3 0 2.4 1.2 1 .1 1.6-.4 3.4-1.8" stroke="#00b434"/>
<path d="M192.8 1260.4l2 3.5 1.4 1.9 3.6 1.8 3.4 2.6 2.6 1.5 1.4 .7 1.6 .3 4.4 .4 2.6-.3 1 .2 4 2.4 1.4 .4 1-.1 1-.6 3.6-4.4 6-4.5 2-.5 4.4 .3 1.6-.3 1.4-.8 2.6-2.1 7.4-8.5 3-3.8 2.6-3.8 4-8.6 1-1.6 1-1 1-.5 3.4-.8 3-1.2 1.6-1.1 3-2.7 4.4-3.4 5.6-3.3 12-4.2 9.4-5.1 5.6-3.6 5-3.6 7-7.1 6-7.4 4-6.6 1.4-3.2 6-15 3.6-7.7 4.4-8.4 4-6.8 6-9.3 2.6-3.2 2.4-2.5 3-2.1 8.6-4.4 2.4-1.6 4-3.2 6-5.9 7-6.3 5-4.2 4.6-3.2 4-1.1 6-2.2 8-1.4 3.4-1.2 4-1.9 4-1.2 5 0 5 .9 1.6 .1 1.4-.4 3-1.2 5.6 .2 2-.3 2.4-1.5 6.6-6 5.4-5.7 5-6.2 3-4.5 3-5.3 2-5.5 1-4.3 2.6-15.3 9.4-65 17.6-106.1 6-32.6 3-12.2 3-9.6 1.4-3.3 1.6-2.5 2-2.5 1.4-1.4 2-1.4 1.6-.7 2-.3 1 .3 5 2 9 4.7 6.4 3.8 15.6 8.2 3 1.1 2 .3 3 2 5.4 3 4.6 1.3 3 .6 6 2 6.4 1.7 4.6 1 9.4 1.5 5.6 1.8 5.4 1.1 17 .5 11.6-1.2 13-3.8 7-3.3 7-2.9 11-3.1 4.4-1.7 2.6-1.3 3.4-2.2 3.6-2.7 3-3 3.4-5.2 1-1.2 1-.2 2.6 .8 2.4-2.2 5-2.6 3-.9 5.6-.2 3.4-1.6 3-2 3-2.4 5.6-6.8 7.4-7.1 18-12.7 3-2.4 5-3.1 12.6-9.1 8-4.2 11-4.4 5-2.3 7-4.3 4-2.7 4-2.2 4.4-2.9 5.6-2.8 3-1 2.4 0 2.6 .5 3 1.9 11 5.8 7 1 7-.5 13-1.7 4-1.4 10.4-2.8 9-1.9 5-1.7 4.6-1 8-2.6 6-1.4 3-.2 8 1.2 9.4-1.5 6-.2 4 .2 7 .9 12.6 4.1 7.4 3.9 5.6 3.4 3 2.7 7.4 8.4 5.6 5.7 9 9.8 10.4 12.8 4.6 6 2 3.1 8.4 16.4 3.6 8.6 4 13.1 4 16.4 5 24.4 5 17 2 5.8 4.4 10.9 4.6 8.4 1.4 2.3 2.6 3 3.4 3.6 1.6 1.3 6.4 4.2 3.6 1.4 5.4 1.8 3.6 .5 5 .3 4 0 4-.3 4.4-1.3 4.6-1.5 8-5.1 4.4-3.4 13-11.4 3.6-3.5 5-4.5 4-4.2 3.4-3.1 19.6-19.2 6.4-5.6 17.6-13.3 5-3.1 12-8.2 12-6.8 7.4-3.6 5-2.1 3.6-1.2 4.4-2.1 18.6-6.3 7.4-2.2 11.6-2.2 3.4-.2 6 .1 3-.2 5 .8 4.6 1.1 3.4 .5 4.6 1.3 4 .6 3.4 1.2 3.6 1.7 4.4 1.4 11.6 5.1 6 3.3 13.4 8.2 6 2.6 7 1.9 4 .6 7-.2 4.6 .3 3.4-.2 8 .3 13 2.1 2.6 1.1 5 2.6 3 2.3 8 3.8 6.4 5.3 4 2.7 1.6 1.6 3 4.7 2.4 3.2 2 3.7 5.6 13.1 5.4 17.6 2 5.4 6 13 1.6 3.7 2 6.8 2 8.8 2 10 2 12.4 1 1.6 1 .7 7.4-1.5 1.6-.6 7-5.2 5.4-3.4 3.6-2.8 1-.2 2 .1 3-1 3-.1 3-1.3 3-1 5.4-1.1 4.6-1.5 3.4-.5 3.6-1.9 4-1.2 3.4-1.4 3-1.6 5.6-2.1 7-4.3 7-2.8 4.4-2.2 3-2.2 3.6-2.2 9-4.5 3.4-2.4 1-.1 5 .7 1.6-.4 2-1.6 3.4-3.4 4-2.4 4.6-3.3 1.4-.7 5-1.9 3-2.1 4.6-2.4 12-8.5 4.4-1.8 3-2.1 3-1.5 3-2.5 8.6-5.3 3.4-1.3 3-1.8 3.6-1.5 4-.9 4-1.4 1.4-.2 1.6 0 3.4 .8 4-.1 4.6 .3 4.4 .8 7 1.7 3 .4 3 2 1 .4 3 .1 2.6 .7 4.4 .7 3.6-.3 4 .2 3 .7 3.4 .4 4 1.1 3.6 .3 3.4 .7 1-.1 3-1.1 5-.5 3 .7 5.6-.1 4.4 1.5 5 .5 5.6 1.7 6.4 1.6 3 1.5 3 1.2 3.6 .8 1.4 .9 2.6 2 3 .4 3.4 3.1 3.6 2.7 1 .4 6.4 .4 3-.9 1 .1 1.6 .8 3 2.9 4 1.8 1-.1 3-2.1 2-.8 1.4-.1 3 .3 3.6-.6 1.4 .3 2 1.6 1 .3 3-.5 8 1.2 4-.1 1 .6 3 2.8 3 1.4 1.6 1.1 1 .2 2.4-1.2 1 0 8 5.6 1 .4 4.6-.9 1.4 .3 2.6 1.3 2 .4 1.4 0 2-.7 1-.1 5.6 2 2.4 1.6 2.6 .2 2.4 .8 2.6 .3 1.4 0 2.6-1.6 1.4-.1 1 .6 2.6 4.3 1 .8 3.4-.6 3.6 .8 4.4-.8 1 .2 2.6 1.5 3.4 0 3.6 2.9 3.4 1.5 2.6 2.2 3 .4 4 1.4 1.4-.2 3-2.3 3-.9 2.6 .2 4 1.4 3 0 3 1.2 2-.3 3.4-1.8" stroke="#00a630"/>
<path d="M192.8 1259.3l2 3.5 1.4 1.9 3.6 1.8 3.4 2.5 2.6 1.4 1.4 .7 1.6 .3 4.4 .3 2.6-.3 1 .1 4 2.4 1.4 .3 1-.1 1-.7 3.6-4.4 6-4.6 2-.5 4.4 .2 1.6-.3 1.4-.8 2.6-2.1 7.4-8.6 2.6-3.2 3-4.5 4-8.6 1-1.5 1-1 1-.5 3.4-.9 3-1.3 1.6-1 3-2.8 4.4-3.3 5.6-3.3 12-4.2 9.4-5.2 5.6-3.6 5-3.7 7-7.1 6-7.4 4-6.4 1.4-3.2 6-14.6 3.6-7.4 4.4-8.3 10-16 2.6-3.3 2.4-2.5 3-2.3 8.6-4.9 2-1.4 4.4-3.8 6-6.2 6-5.7 6-5.2 4.6-3.3 4-1.2 6.4-2.5 7.6-1.4 3.4-1.3 4-1.9 4-1.2 5-.2 6.6 1 4.4-1.6 5.6 .2 2-.4 2.4-1.5 6.6-6 5.4-5.6 5-6 3-4.4 3-5.2 2-5.2 1-4.2 2.6-14.6 9.4-62.2 17.6-101.5 6-31.1 3-11.7 3-9.1 1.4-3.2 1.6-2.4 2-2.4 1.4-1.4 3-1.8 2-.4 1 .1 4.6 1.7 32 17.1 3 1.2 2 .2 3 2 5.4 3 4.6 1.3 3 .6 6 2 7 1.9 4 1 9.4 1.4 5.6 1.8 5.4 1.1 17.6 .4 11-1.2 13.4-4.1 6.6-3.1 7-3 11-3.5 3.4-1.4 4-2.1 4-2.7 2-1.6 3.6-3.5 3.4-5.3 1.6-1.5 .4 0 2.6 .7 2.4-2.1 5-2.5 3-.8 5.6-.2 3.4-1.6 6-4.5 5.6-6.9 7.4-7 18-12.7 3.6-2.8 5.4-3.4 11.6-8.5 8-4.3 11.4-4.6 5-2.5 10.6-6.9 4-2.2 4.4-3 6-3.2 2.6-.8 2.4-.1 2.6 .4 3 1.7 11 5.3 7 .8 7-.7 13-1.9 4-1.5 10.4-2.8 9-2 5-1.6 4.6-1 8-2.6 6-1.4 3-.1 8 1.1 9-1.4 7-.2 5 .1 5 .7 8 2.3 6.4 2.3 6.6 3.4 5 3 3 2.5 7.4 8.1 5.6 5.4 9 9.4 10.4 12.2 4.6 5.7 2 3 8 14.7 4 9.2 4 12.5 4 15.7 5 23.3 5 16.1 2 5.6 4 9.2 4.4 8.3 1.6 2.3 2.4 3 3.6 3.5 2 1.6 6.4 4 3.6 1.3 5.4 1.7 3.6 .5 5 .3 4 0 4-.3 9-2.7 8-4.9 4.4-3.3 4-3.5 4-3.1 4.6-3.8 4-3.9 5-4.3 4-4 3.4-3 19.6-18.3 6.4-5.4 17.6-12.7 5-3 12-7.8 12-6.6 7.4-3.4 5-2 3.6-1.1 4.4-2.1 18.6-6 7.4-2.2 11.6-2 3.4-.3 6 .1 3-.2 5 .7 4.6 1.1 3.4 .5 4.6 1.2 4 .6 3.4 1.1 3.6 1.6 4.4 1.4 11.6 4.9 6 3.1 13.4 7.9 6 2.5 7 1.8 4 .5 7-.1 4.6 .2 3.4-.2 8 .3 13 2.1 2.6 1 5 2.5 3 2.1 8 3.6 6.4 4.9 4 2.5 1.6 1.4 3 4.5 2.4 3 2 3.5 5.6 12.5 5 15.6 2.4 6.8 6 12.3 1.6 3.6 2 6.6 2 8.4 2 9.7 2 12.1 1 1.6 1 .8 7.4-1.5 1.6-.6 6.4-5 6-3.8 3.6-2.8 1-.2 2 .1 3-.9 3-.2 3-1.3 3-1 5.4-1 4.6-1.6 3.4-.5 3.6-1.8 4-1.2 3.4-1.4 3-1.6 6.6-2.5 6-3.8 7-2.8 4.4-2.2 3-2.2 3.6-2.1 9-4.4 3.4-2.4 1-.1 5 .8 1.6-.4 2-1.6 3.4-3.3 4-2.4 4.6-3.2 1.4-.7 5-1.8 3-2 5-2.7 11.6-8 4.4-1.7 3-2.1 3-1.5 3-2.4 8.6-5.2 3.4-1.3 3-1.6 3.6-1.6 4-.7 5-1.6 2 .1 3.4 .8 4-.1 4.6 .4 4.4 .9 7 1.8 3 .5 3 2 1 .5 3 0 2.6 .7 4.4 .8 3.6-.2 4 .1 3 .8 3.4 .3 4 1.2 3.6 .3 3.4 .7 1-.1 3-1.2 5-.5 3 .8 5.6-.2 4.4 1.4 5 .4 5.6 1.7 6.4 1.4 3 1.5 3 1.1 3.6 .8 1.4 .8 2.6 2.1 3 .3 3.4 3 3.6 2.7 1 .4 6.4 .3 3-1 1 .1 1.6 .8 3 2.8 4 1.8 1-.2 3-2.2 2-.8 1.4-.2 3 .3 3.6-.7 1.4 .3 2 1.6 1 .3 3-.6 8 1 4-.1 1 .6 3 2.7 3 1.5 1.6 1 1 .2 2.4-1.3 1 .1 8 5.4 1 .5 4.6-1 1.4 .3 2.6 1.2 2 .4 1.4 0 2-.8 1 0 5.6 1.8 2.4 1.6 2.6 .2 2.4 .8 2.6 .3 1.4-.1 2.6-1.5 1.4-.2 1 .7 2.6 4.2 1 .8 3.4-.6 3.6 .7 4.4-.9 1 .3 2.6 1.4 3.4 .1 3.6 2.8 3.4 1.5 2.6 2.3 3 .3 4 1.4 1.4-.3 2.6-2 3.4-1.2 2.6 .2 4 1.4 3 0 3 1.3 2-.4 3.4-1.9" stroke="#189c34"/>
<path d="M192.8 1258.1l2 3.5 1.4 1.9 3.6 1.7 3.4 2.4 2.6 1.3 1.4 .6 1.6 .3 4.4 .3 3.6-.3 4 2.2 1.4 .4 1-.2 1-.7 3.6-4.4 6-4.8 2-.6 4.4 .2 1.6-.4 1.4-.8 2.6-2.1 7.4-8.6 2.6-3.3 3-4.5 4-8.6 1-1.5 1-1 1-.5 4-1.1 2.4-1.1 1.6-1.1 3-2.8 4.4-3.3 5.6-3.2 3.4-1.4 4-1.1 4.6-1.8 9.4-5.3 7.6-5.1 5-4.1 5-5.3 4.4-5.3 4.6-6.6 2-3.7 5.4-13.1 5-10.3 7.6-12.9 8-12.2 3-3.4 3-2.6 9-5.9 2.4-2 4-3.7 6-6.5 4.6-4.5 7.4-6.9 3.6-2.8 2-1.1 3-.8 6.4-2.6 7.6-1.7 3.4-1.2 3.6-1.8 4-1.3 5.4-.5 6.6 .8 4.4-1.5 5.6 .2 2-.4 2.4-1.6 6.6-5.9 6-6 4.4-5.4 3-4.2 3-5.1 2-5 1-3.9 2-10.9 10.6-64.6 17-93.2 6-29.5 3-10.9 3-8.7 2.4-4.6 1.6-1.9 2-1.9 3-2 2.4-.6 1 .2 4.6 1.6 10 5.1 6.4 3.8 15.6 8.1 3 1.2 2 .3 3 2 5.4 3 4.6 1.3 3 .6 6 2.1 7 1.9 4 .9 9.4 1.5 5.6 1.7 5.4 1.1 17.6 .4 11-1.3 13.4-4.1 13.6-6.4 4-1.3 7.4-2.8 5.6-2.6 5.4-3.7 3-2.7 2.6-2.5 3.4-5.5 1.6-1.5 1 0 2 .6 3-2.3 4.4-2.1 3-.8 5.6 0 3-1.4 6-4.4 6-7.4 7.4-7 17.6-12.3 4-3.2 5-3.1 12-8.9 8-4.5 11.4-4.7 5-2.5 19-12.5 6-3.3 2.6-.9 2.4-.2 2.6 .3 3 1.5 3.4 1.3 7 3.1 7 .7 7-.8 13.6-2.1 4-1.6 10-2.8 9.4-2.1 5-1.6 4.6-1 8-2.6 5.4-1.3 3.6-.2 8 1.2 9-1.4 7-.3 5 .1 5 .6 8 2.2 6.4 2.2 6 2.8 5 2.8 3.6 2.7 7.4 7.6 5.6 5.1 9 8.9 10.4 11.5 4.6 5.5 2 2.8 8 13.9 4 8.7 4 11.8 4 14.8 5 22 5 15.2 2 5.2 4 8.6 4.4 7.7 1.6 2.2 2.4 2.8 4 3.7 1.6 1.1 6.4 3.7 3.6 1.2 6 1.7 8 .7 8-.4 9-2.5 8-4.7 4.4-3.1 4-3.4 4-2.8 4.6-3.7 36-31.8 6.4-5 17.6-12.1 5-2.8 12-7.4 11.4-6 8-3.4 5-1.9 3.6-1 4.4-2 18.6-5.8 7.4-2.1 11-1.9 4-.3 6 .1 3-.3 2.6 .3 7 1.5 3.4 .5 4.6 1.1 4 .5 3.4 1 3.6 1.6 4.4 1.3 11.6 4.6 6.4 3.2 13 7.3 6 2.3 7 1.7 4 .5 7-.2 4.6 .3 3.4-.2 8 .2 13 2 7.6 3.4 3 1.9 8 3.3 6.4 4.4 4.6 2.6 1.4 1.6 2.6 3.4 2.4 2.8 2 3.2 5.6 11.9 5 15.1 2 5.3 2 4.4 4 7.4 2 4.4 2 6.3 2 8.1 2 9.4 2 11.6 1 1.7 1 .8 7.4-1.6 1.6-.6 6.4-5 6-3.8 3.6-2.9 1-.2 2 .1 3-.9 3-.2 3-1.3 3-1 5.4-1 4.6-1.6 3.4-.4 3.6-1.9 4-1.1 3-1.2 3.4-1.8 6.6-2.4 6-3.8 7-2.7 4.4-2.2 3-2.2 3.6-2.1 9-4.3 3.4-2.3 1-.1 5 .9 1.6-.4 2-1.5 3.4-3.3 4-2.4 4.6-3.1 1.4-.7 5-1.6 3-2.1 5-2.6 11.6-7.7 4.4-1.6 3-2 3-1.5 3-2.4 8.6-5 3.4-1.2 3-1.7 3.6-1.5 4-.7 5-1.4 2 .1 3.4 .9 4 0 4.6 .5 4.4 1 7 1.9 3 .5 3 2.1 1 .5 3 .1 2.6 .7 4.4 .9 3.6-.3 4 .2 3 .8 3.4 .3 4 1.2 3.6 .4 3.4 .6 1-.1 3-1.2 5-.6 3 .8 5.6-.3 4.4 1.3 5 .4 5.6 1.6 6.4 1.3 3 1.4 3 1.1 3.6 .7 1.4 .8 2.6 2 3 .2 3.4 3.1 3.6 2.5 1 .5 6.4 .1 3-1.1 1.6 .2 1 .6 3 2.8 4 1.7 1-.1 3-2.3 2-.9 1.4-.2 3 .1 3.6-.7 1.4 .3 2 1.5 1 .3 3-.7 8 .9 4-.2 1 .5 3 2.8 3 1.4 1.6 1 1 .2 2.4-1.4 1 0 8 5.5 1 .4 4.6-1.1 1.4 .3 2.6 1.2 2 .3 1.4 0 2.6-.9 1 .1 2.4 1 2.6 .7 2.4 1.6 2.6 .1 2.4 .7 2.6 .4 1.4-.1 2.6-1.6 1.4-.2 1 .6 2.6 4.3 1 .8 3.4-.7 3.6 .7 4.4-1 1 .3 2.6 1.4 3.4 0 3.6 2.8 3.4 1.5 2.6 2.3 3 .3 4 1.4 1.4-.3 2.6-2 3.4-1.2 2.6 .2 4 1.4 3-.1 3 1.3 2-.4 3.4-1.9" stroke="#5a9e4c"/>
<path d="M192.8 1257l2 3.4 1.4 1.9 3.6 1.6 5 3.1 2.4 1.1 1.6 .3 4.4 .2 3.6-.4 4 2 1.4 .4 1-.1 1-.8 3.6-4.5 6-4.8 2-.7 3.4 .1 1.6-.1 2.4-1.1 2.6-2.1 7.4-8.7 2.6-3.3 3-4.6 4-8.5 2-2.4 1-.6 4-1.2 2.4-1.1 1.6-1.1 3-2.8 4.4-3.3 5.6-3.2 3.4-1.4 4-1.1 4.6-1.8 9.4-5.4 5.6-3.7 5-3.7 6-6.1 6.4-7.7 4-6.1 2-3.8 5-11.5 5-10.1 7.6-12.6 8-12.3 3-3.4 3-2.8 11-8.2 4-3.9 6-6.9 4.4-4.7 8.6-8 3.4-2.8 1.6-.9 3-.9 7-2.9 7.4-1.8 3.6-1.4 3-1.5 4-1.4 5.4-.5 6.6 .6 4.4-1.5 5.6 .1 2-.4 2.4-1.6 10-9.2 3.6-3.6 4-4.8 3-4.2 2.4-4.2 2-4.8 1-3.8 2-10.2 10.6-61.2 17-88.3 5.4-25.8 3-10.8 3.6-9.7 2.4-4.4 1.6-1.8 2-1.8 3-1.8 2.4-.6 1 .1 4.6 1.6 10 5.2 6.4 3.7 15.6 8.1 3 1.2 2 .4 8.4 4.9 4.6 1.4 3 .6 6 2 7 2 4 .9 9.4 1.5 5.6 1.7 5.4 1.1 17.6 .3 11-1.3 13.4-4.2 13.6-6.7 4-1.3 7-2.9 5.4-2.8 6-4.1 3-2.7 2.6-2.6 3.4-5.5 1.6-1.6 1 0 2 .5 3-2.3 4.4-1.9 3-.7 5.6 0 2.4-1.1 2.6-1.7 4-3.1 6-7.5 7-6.5 18-12.7 4-3.2 5-3.1 12-9 8-4.6 11.4-4.8 5-2.5 19-12.8 6-3.5 3-1.1 3-.2 2 .3 2.6 1.1 4 1.3 7 2.7 6.4 .3 7-.9 13.6-2.4 4-1.6 10-2.9 9.4-2.1 5-1.7 4.6-.9 8-2.6 5.4-1.3 3.6-.2 8 1.3 9-1.4 6.4-.3 5.6 0 5 .6 8 2 6.4 2 6 2.7 5 2.6 3.6 2.6 7.4 7.2 5.6 4.7 9 8.4 10.4 10.9 6.6 7.8 8 13.2 4 8.2 4 11.2 4 14 5 20.7 5 14.3 2 4.9 4 8.1 4.4 7.2 1.6 2 2.4 2.6 4 3.4 1.6 1.1 6.4 3.4 3.6 1.2 6 1.5 8 .7 8-.3 9-2.5 8-4.4 4.4-3 4-3.2 4-2.7 4.6-3.5 36-30.1 6.4-4.8 17.6-11.4 5-2.6 12-7.1 11.4-5.6 8-3.3 5-1.8 3.6-.9 4.4-1.9 18.6-5.5 7.4-2 11-1.9 4-.3 6 .1 3-.3 2.6 .2 7 1.5 3.4 .4 4.6 1.1 4 .4 3.4 1 3.6 1.5 4.4 1.2 11.6 4.4 6.4 3 13 6.9 5.6 2 7.4 1.8 4 .4 7-.2 4.6 .3 3.4-.2 8 .2 13 1.9 7.6 3.2 3 1.9 8.4 3.1 6 3.9 4.6 2.2 1.4 1.4 2.6 3.2 2.4 2.5 2 3 5.6 11.3 5 14.6 2 5.1 2 4.2 4 6.9 2 4.2 2 6 2 7.8 2 9.1 2 11.2 1 1.7 1 .8 7.4-1.5 1.6-.6 6.4-5.1 6-3.9 3.6-2.9 1-.2 2 .1 3-1 3-.1 3-1.3 3-1 5.4-1 4.6-1.6 3.4-.4 3.6-1.8 4-1.2 3-1.1 3.4-1.8 6.6-2.4 6-3.7 7-2.7 4.4-2.2 3-2.1 3.6-2.1 9-4.2 3.4-2.3 1-.1 5 1 1.6-.3 2-1.5 3.4-3.3 4-2.3 4.6-3.1 1.4-.7 5-1.5 3-2 5-2.5 11.6-7.6 4.4-1.5 3-2 3-1.4 3-2.3 8.6-4.9 3.4-1.2 3-1.6 3.6-1.4 4-.6 5-1.4 2 .1 3.4 1 4 .1 5 .7 4.6 1.1 6.4 1.9 3 .5 3 2.2 1 .5 3 .1 7 1.7 3-.2 4 .1 3.6 .9 3.4 .3 4 1.3 3.6 .3 3.4 .7 1-.2 3-1.2 5-.6 3 .7 5.6-.3 4.4 1.2 5.6 .4 5 1.4 6.4 1.2 3 1.4 3 1 4 .9 3.6 2.5 1 .2 1.4-.2 1 .4 2.6 2.4 4.4 3.1 1.6 .3 5.4-.2 3-1.1 1 0 1.6 .8 3 2.7 4 1.7 1-.2 3-2.4 2-.9 1.4-.3 3 .1 3.6-.9 1.4 .3 2 1.5 1 .3 3-.8 8 .7 4-.3 1 .6 3 2.7 5 2.6 1-.2 2-1.3 1 .1 8.6 5.6 1 .1 4-1.2 1.4 .4 2.6 1.1 2.4 .3 1-.1 2-.8 1.6 0 2.4 1 2.6 .6 2.4 1.6 2.6 .1 2.4 .6 2.6 .4 1.4-.1 2.6-1.7 1.4-.1 1 .6 2.6 4.2 1 .9 3.4-.8 3.6 .6 4.4-1 1 .3 2.6 1.4 3-.1 1 .3 3.4 2.9 2.6 .8 3 2.7 3 .3 4 1.3 1.4-.3 3-2.3 3-1 2.6 .2 4 1.4 3-.1 3 1.3 2-.5 3.4-1.9" stroke="#82a05a"/>
<path d="M192.8 1255.9l2 3.4 1.4 1.8 3.6 1.7 3 1.9 2 1.1 2.4 1 1.6 .2 4.4 .3 3.6-.6 1 .3 3 1.6 1.4 .3 1-.1 1-.7 3.6-4.6 6-5 2-.7 3.4 .1 1.6-.2 2.4-1 2.6-2.2 7.4-8.8 2.6-3.3 3-4.6 4-8.5 2-2.4 1-.5 4-1.3 2.4-1.2 1.6-1 3-2.9 4-2.9 5.4-3.3 2.6-1 5.4-1.7 4.6-1.9 9.4-5.4 5.6-3.7 5-3.8 6-6.1 6.4-7.7 4-6 2-3.7 5-11.2 5-9.7 7.6-12.5 8-12.2 3-3.6 3-2.9 11-8.9 4-4.2 6-7.2 4.4-4.8 9-8.7 3-2.5 1.6-.9 3-1 7-3 7.4-2 3.6-1.4 3-1.6 4-1.3 5.4-.8 6.6 .6 4.4-1.5 5.6 .1 2-.5 2.4-1.6 10.6-9.6 3-3 4-4.7 3-4.1 2.4-4 2-4.7 1-3.6 2-9.7 8-44.9 3-15.5 16.6-81.2 5.4-24.3 3-10.2 3.6-9.3 2.4-4 1.6-1.8 2-1.7 3-1.7 2.4-.6 5.6 1.7 10 5.1 6.4 3.8 15.6 8.1 3 1.2 2 .3 8.4 4.9 4.6 1.4 3 .6 6 2.1 7 2 4 1 9.4 1.5 5 1.5 6 1.2 17.6 .3 11-1.4 13.4-4.3 14-7 3.6-1.3 6.4-2.8 4.6-2.4 3-1.8 4-2.9 3-2.6 3-3.2 3.4-5.6 1.6-1.6 1-.1 2 .4 3-2.2 4.4-1.7 3-.6 5.6 0 2.4-1.2 2.6-1.7 4-3.1 6-7.5 7-6.6 18-12.6 4-3.2 5-3.2 12.4-9.4 7.6-4.3 11.4-4.9 5-2.6 19-13.1 6.6-3.8 2.4-1 3-.3 2 .2 2.6 1 4 1 7 2.3 7 .1 19.4-3.5 4.6-1.8 10.4-3.1 9-2 5-1.6 4.6-1 8-2.5 5.4-1.3 2-.2 2 .1 7 1.2 4-.4 5.6-1 6-.3 5.4 0 5.6 .5 14 3.5 6.4 2.8 5 2.4 3.6 2.4 7.4 6.8 5.6 4.5 9 7.9 10.4 10.3 6.6 7.4 8 12.5 4 7.8 4 10.5 4 13.3 5 19.5 4.4 12.1 2.6 5.9 4 7.5 4.4 6.8 1.6 1.9 2 1.9 5.4 4.4 7 3.5 9.6 2.5 8 .6 8-.3 9-2.3 8-4.3 4.4-2.8 4-3.1 4-2.5 4.6-3.3 4-3.4 5.4-4 3.6-3.2 3.4-2.4 19.6-15.6 6.4-4.5 17-10.6 5.6-2.7 12-6.7 11.4-5.4 8-3 5-1.7 3.6-.9 4.4-1.8 26-7.2 11-1.8 4-.3 6 .1 3-.3 2.6 .2 7 1.4 3.4 .4 4.6 1 3.4 .3 3.6 .8 3.4 1.5 5 1.3 11 3.9 7 3.1 13 6.5 5.6 1.9 8 1.7 3.4 .4 7-.2 4.6 .2 3.4-.2 8 .2 13 1.8 7.6 3.1 3 1.7 8.4 2.8 6 3.5 4.6 1.9 1.4 1.3 2.6 3 2.4 2.2 2 2.8 4 7.4 1.6 3.3 5 14.2 2 4.9 2 3.9 4 6.5 2 4 2 5.7 2 7.6 2 8.8 2 10.9 1 1.7 1 .8 7.4-1.6 1.6-.6 6.4-5.1 6-4 3.6-2.9 1-.2 2 .1 3-1 3-.1 3-1.3 3-1 5.4-1 4.6-1.5 3.4-.5 3.6-1.8 4-1.1 3-1.1 3.4-1.8 6.6-2.4 6-3.6 7-2.7 4.4-2.1 3-2.2 3.6-2 9-4.2 3.4-2.2 1-.1 4.6 1.1 1 0 1-.3 2-1.5 3.4-3.2 4-2.3 4.6-3 2-.8 4.4-1.3 3-2 5-2.4 11.6-7.4 4.4-1.4 3-1.9 3-1.4 3-2.3 8.6-4.8 3.4-1.1 3-1.5 3.6-1.4 4-.6 5-1.3 2 .2 3.4 1 4 .2 5 .8 4.6 1.1 6.4 2.1 3 .6 3 2.2 1 .5 3 .2 7 1.7 3-.2 4 .1 3.6 .9 3.4 .4 4 1.3 7 1 1-.2 3-1.2 4.6-.6 1 0 2.4 .7 5.6-.5 4.4 1.2 5 .3 5.6 1.4 6 .9 6.4 2.4 4 .9 3.6 2.4 3 .1 3 2.6 4.4 3 1.6 .3 5.4-.3 1-.2 2-.9 1-.1 1.6 .8 3 2.7 4 1.6 1-.2 3-2.5 2-1 1.4-.3 3 0 3.6-.9 1.4 .2 2 1.5 1 .2 3-.8 8 .5 4-.3 1 .5 3 2.8 5 2.5 1-.3 2-1.2 1 0 8.6 5.5 1 .2 4-1.3 1.4 .3 2.6 1.1 2.4 .3 1-.1 2-.8 1.6-.1 2.4 .9 2.6 .6 2.4 1.6 2.6 .1 3 .7 2.4 .2 1.6-.3 2-1.5 1.4-.2 1 .6 2.6 4.3 1 .8 3.4-.8 3.6 .6 4.4-1.1 1 .3 2.6 1.4 3-.2 1 .4 3.4 2.8 2.6 .9 3 2.6 3 .3 4 1.3 1.4-.3 3-2.3 3-1 2.6 .2 4 1.4 3-.1 3 1.2 2-.4 3.4-2" stroke="#a8a068"/>
<path d="M192.8 1254.9l2 3.4 1.4 1.8 3.6 1.6 3 1.9 2 .9 2.4 1 1.6 .3 4.4 .2 3.6-.7 1 .3 3 1.5 2 .3 1-.4 1-1 3.4-4.6 5.6-4.6 2-.8 5-.1 1.4-.5 1.6-.9 2.4-2.4 7-8.3 2.6-3.3 3-4.6 4-8.6 2-2.3 1-.5 4-1.4 2.4-1.2 1.6-1 4-3.6 4-2.9 4.4-2.5 2.6-1.1 5.4-1.7 4.6-1.9 9.4-5.5 5.6-3.7 5-3.9 6.4-6.6 6-7.1 4-5.9 2-3.7 5-10.8 5-9.5 7.6-12.2 8.4-12.9 2.6-3 3-3 10.4-9.1 4.6-4.9 6-7.5 4.4-5.1 7-7 4-3.6 2.6-1.8 3-1 5.4-2.6 3-1.1 5.6-1.5 3.4-1.3 4-2.1 4-1.3 5-.7 6.6 .4 4.4-1.4 5.6 0 2-.5 2.4-1.6 10.6-9.5 3-3 4-4.5 3-4 2.4-3.9 2-4.5 1-3.4 2-9.3 8-42.5 3-14.8 16.6-76.9 5.4-23 2.6-8.2 3.4-9.1 1.6-2.8 1.4-2.1 3-2.9 3-1.8 2.6-.7 1 0 5 1.6 10 5.1 6.4 3.7 15.6 8.1 3 1.2 2 .4 8.4 4.9 4.6 1.4 3 .6 6 2.1 10.4 2.9 10 1.6 5.6 1.7 6 1.1 4-.1 3 .2 2.4-.1 7.6 .2 11-1.4 14-4.6 13.4-7.1 4-1.5 7-3.3 3-1.7 7-4.9 3.6-3 3-3.2 3.4-5.7 1.6-1.7 1-.1 2 .3 3-2.1 4.4-1.6 3-.5 5.6 0 2.4-1.2 2.6-1.7 4-3.2 6-7.5 7-6.5 18-12.6 4-3.3 4.4-2.8 13-9.9 7.6-4.3 11.4-5 5-2.6 19.6-13.7 6-3.7 3-1.2 3-.3 1.4 .2 2.6 .8 4 .8 7 1.9 6.4 0 20-3.9 4.6-1.8 10.4-3.2 9-2.1 5-1.6 4.6-.9 8-2.5 5.4-1.3 2-.2 2 .1 7.6 1.3 10.4-1.6 9.6-.3 6 .5 14 3.3 6.4 2.6 5 2.2 3.6 2.3 7.4 6.4 5.6 4.3 9 7.4 10.4 9.8 6.6 7 8 11.8 4 7.4 3.4 8.6 4 12.2 5.6 20.1 5 12.6 2 4.2 4.4 7.9 4.6 6.2 3 2.9 4.4 3.4 6.6 3.3 3.4 1.2 6 1.5 4 .5 8 .3 5.6-.3 9-2.2 8-4.1 4.4-2.7 4-2.9 4-2.4 4.6-3.1 4-3.2 5.4-3.9 3.6-2.9 3.4-2.4 19.6-14.7 6.4-4.3 17-10 5.6-2.6 12-6.3 11.4-5.1 8-2.9 9-2.5 4-1.6 5.6-1.3 20.4-5.6 11-1.8 4-.3 6 .1 3-.3 2.6 .2 7 1.3 3.4 .4 4.6 .9 3.4 .3 3.6 .8 3.4 1.4 5 1.2 11 3.7 7 2.9 13 6.2 5.6 1.8 8 1.6 3.4 .4 7-.3 4.6 .3 3.4-.3 8 .2 12.6 1.6 8 3.1 3 1.6 8.4 2.5 6 3.2 3.6 1.1 1.4 .8 3.6 3.6 2.4 2 1 1.1 4.6 7.5 2.4 5.3 4 11.2 2 5 2.6 4.8 4 6.1 2 3.7 2 5.6 2 7.3 2 8.5 2 10.5 1 1.8 1 .8 7.4-1.6 1.6-.7 6.4-5.1 6-4 3.6-3 1-.2 2 .1 3-.9 3-.2 3-1.3 3-1 5.4-1 4.6-1.5 3.4-.4 3.6-1.8 4-1.1 3-1.1 3.4-1.8 6.6-2.3 6-3.6 7-2.7 4.4-2.1 3-2.1 3.6-2 9-4.1 3.4-2.2 1-.1 4.6 1.1 1 .1 1-.3 2-1.5 3.4-3.2 4-2.2 4.6-2.9 2-.8 4.4-1.3 3-1.9 5-2.3 11.6-7.2 4.4-1.4 3-1.9 3-1.3 3-2.2 8.6-4.7 3.4-1 3-1.6 3.6-1.3 4-.5 5-1.3 2 .2 3.4 1.1 4 .3 5 .9 4.6 1.2 6.4 2.2 3 .6 3 2.3 1 .4 3 .2 7 1.8 3-.1 4 .1 3.6 1 3.4 .4 4 1.2 7 1 1-.1 3-1.3 4.6-.6 1 0 2.4 .7 5.6-.5 4.4 1.1 5 .1 5.6 1.4 6.4 .9 3 1.3 3 1 4 .7 3.6 2.3 3 .1 3 2.6 4.4 3 1.6 .2 5.4-.3 1-.3 2-1 1 0 1.6 .7 3 2.7 4 1.5 1-.2 3-2.6 2-1 1.4-.4 3 0 3.6-1 1.4 .2 2 1.4 1 .2 3-.8 8 .3 3.6-.4 1.4 .6 3 2.7 5 2.4 1-.2 2-1.3 1 0 8.6 5.5 1 .1 4-1.3 1.4 .2 2.6 1.1 2.4 .3 1-.1 2-.9 1.6-.1 2.4 .9 2.6 .6 2.4 1.5 2.6 .1 3 .6 2.4 .3 1.6-.4 2-1.5 1.4-.2 1 .6 2.6 4.3 1 .8 3.4-.9 3.6 .6 4-1.1 1 0 3 1.6 3-.2 1 .4 3 2.5 3.4 1.5 2.6 2.3 3 .3 3.4 1.2 1 0 1-.3 2.6-2.1 3.4-1.2 2 0 4.6 1.6 3-.1 3 1.2 2-.5 3.4-2" stroke="#c8a078"/>
<path d="M192.8 1254l2 3.3 1.4 1.8 3.6 1.6 3 1.8 2 .9 2.4 .9 2 .3 4 .2 2.6-.7 1.4 0 3.6 1.6 2 .3 1-.5 1-1 3.4-4.6 5.6-4.7 2-.8 5-.2 1.4-.5 1.6-.9 2.4-2.5 7-8.3 2.6-3.3 3-4.7 4-8.5 1.4-1.8 1.6-1 3.4-1.2 3-1.4 1.6-1.1 4-3.6 4-2.8 4.4-2.5 2.6-1.1 5-1.5 5-2.1 9.4-5.6 5.6-3.8 5-3.8 6.4-6.7 6-7.1 4-5.8 2-3.6 5-10.5 4.6-8.4 4.4-7.4 12-18.4 5.6-6.2 10.4-9.7 4.6-5.2 6.4-8.4 4-4.5 7-7.2 4-3.8 2.6-1.8 3-1.1 5.4-2.7 3-1.1 5.6-1.6 3.4-1.4 4-2.1 4-1.3 5-.8 6.6 .3 4.4-1.4 5.6 0 2-.5 2.4-1.7 10.6-9.4 3-2.9 4-4.4 3-3.9 2.4-3.8 2-4.4 1-3.2 2-8.8 11-54.4 16.6-72.9 5.4-21.8 2.6-7.7 3.4-8.6 1.6-2.6 1.4-2.1 3-2.7 3-1.7 2.6-.7 1 0 5 1.7 10 5 6.4 3.7 15.6 8.1 3 1.2 2.4 .7 8 4.5 4.6 1.5 3 .6 6 2.1 10.4 2.9 10 1.7 5.6 1.7 6 1 4-.1 3 .3 2.4-.2 7.6 .2 11-1.5 14-4.6 13.4-7.2 4-1.7 9.6-5 4.4-3 6-4.9 3.6-3.8 3.4-5.7 1.6-1.7 1-.2 2 .3 3-2.1 4.4-1.5 3-.4 5.6 0 2.4-1.1 6.6-5.1 6-7.5 7-6.5 6-4 12-8.6 4-3.2 4.4-2.8 13-10 7.6-4.4 11.4-5.1 5-2.6 6.6-4.5 4.4-3.5 4-2.6 4.6-3.4 6-3.8 3-1.2 3-.5 1.4 .1 2.6 .7 4 .6 7 1.6 6.4-.3 20-4.1 4.6-1.9 10.4-3.3 9-2.1 5.6-1.7 4-.8 8-2.5 7-1.4 2.4 .1 7.6 1.3 10.4-1.5 9.6-.4 6 .4 13.4 2.9 11.6 4.5 4 2.3 7.4 6.1 5.6 4 9 7 5.4 4.7 5.6 5 5.4 5.6 8.6 11.7 4 7 4 9.5 4 11.8 4.4 15.9 3.6 8.8 2.4 5.6 2 3.7 4 6.6 4 5.1 1.6 1.6 2 1.7 4.4 3.2 1.6 .8 7 3 7.4 1.8 4 .5 8 .2 5.6-.3 9-2.1 8-3.9 4.4-2.5 4-2.8 4-2.3 4.6-3 4-3 5.4-3.7 3.6-2.8 3.4-2.2 19.6-14 6.4-4 13-7.1 4-2.4 5.6-2.4 12-6.1 11.4-4.8 8-2.7 4.6-1.4 4.4-1 4-1.5 5.6-1.2 21-5.5 10.4-1.6 4-.3 6 0 3.6-.3 5 .6 4 .9 3.4 .3 4.6 .9 3.4 .2 3.6 .7 3.4 1.5 5 1 11 3.6 7 2.7 12.6 5.7 6 1.9 8 1.5 3.4 .3 7-.3 4.6 .3 3.4-.2 8 .1 12.6 1.6 8 2.9 3 1.5 8.4 2.2 6 2.8 3.6 1 1.4 .7 3.6 3.3 2.4 1.7 1 1 4.6 7.1 2.4 5.1 4 10.9 2 4.8 2.6 4.6 4 5.7 2 3.5 2 5.3 2 7.1 2 8.2 2 10.2 1 1.8 1 .8 7.4-1.6 1.6-.6 6.4-5.2 6-4.1 3.6-3 1-.2 2 .1 3-.9 3-.2 3-1.3 3-1 5.4-1 4.6-1.5 3.4-.4 4-2 3.6-.8 3.4-1.3 3-1.6 6.6-2.3 6.4-3.8 6.6-2.4 4.4-2 3-2.2 3.6-2 9-4 3.4-2.2 1-.1 4.6 1.3 1 .1 1-.3 2-1.5 3.4-3.2 4-2.1 4.6-3 2-.7 4.4-1.2 3-1.8 5-2.3 11.6-7.1 4-1.1 4-2.3 2.4-1 3-2.2 2.6-1.2 3-1.9 3.4-1.7 3-.7 3-1.5 3.6-1.3 4-.5 4.4-1.2 2.6 .2 4 1.3 3.4 .3 5 1 4.6 1.2 6.4 2.3 3 .6 3 2.4 1 .5 3 .2 7 1.8 3-.1 4 .2 3.6 .9 3.4 .5 4 1.2 3 .3 3.6 .7 1.4-.1 3-1.3 4.6-.6 1 0 2.4 .6 5-.6 5 1.1 5 .1 5.6 1.3 6.4 .8 3 1.3 3 .9 4 .7 1.6 .8 2 1.4 3 .1 3 2.5 4.4 2.9 1.6 .2 5.4-.4 1-.3 2-1 1-.1 1.6 .7 3 2.7 3.4 1.4 1.6-.2 3-2.6 2-1.2 1.4-.3 3-.1 3.6-1.1 1.4 .2 2 1.4 1 .2 3-.9 8 .2 4-.5 1 .5 3 2.8 5 2.3 1-.2 2-1.4 1 0 8.6 5.5 1 .1 4-1.4 1.4 .2 2.6 1.1 2.4 .3 1-.2 2-.9 1.6-.1 2.4 .8 2.6 .6 2.4 1.5 2.6 0 3 .7 2.4 .2 1.6-.4 2-1.5 1.4-.2 1 .6 2.6 4.2 1 .9 3.4-1 3.6 .6 4-1.1 1 0 3 1.5 3-.2 1 .4 3 2.5 3.4 1.5 2.6 2.3 3 .3 3.4 1.1 1 .1 1-.3 2.6-2.2 3.4-1.2 2 0 4.6 1.6 3-.2 3 1.3 2-.5 3.4-2.1" stroke="#e4a086"/>
<path d="M192.8 1253.1l2 3.3 1.4 1.8 3.6 1.5 4.4 2.5 3 1 2 .3 4 .1 3-.7 1 0 3.6 1.4 2 .3 1-.4 1-1 3.4-4.7 5.6-4.8 2-.8 5-.3 1.4-.5 1.6-.9 2.4-2.5 7-8.3 2.6-3.4 3-4.7 4-8.4 1.4-1.9 1.6-.9 3.4-1.3 3-1.4 1.6-1.1 4-3.6 4-2.8 4.4-2.5 2-.9 5.6-1.7 5-2.1 9.4-5.6 5.6-3.9 5-3.9 6.4-6.7 6-7 4-5.8 2-3.5 5-10.2 4.6-8.2 4.4-7.3 12-18.3 5.6-6.4 10.4-10.2 4.6-5.4 6.4-8.7 4-4.7 7.6-7.9 4-3.8 2-1.4 3-1.1 6-3 2.4-1 5.6-1.7 4-1.7 3-1.6 4.4-1.5 5-1 6.6 .2 4.4-1.3 5.6-.1 2-.5 2.4-1.7 11-9.7 6.6-6.8 3-3.8 2.4-3.8 2-4.1 1-3.1 2-8.4 11-51.6 16.6-69.2 5.4-20.6 2.6-7.3 3.4-8.2 2.6-3.8 3-2.8 3.4-2 2.6-.6 1 0 5 1.6 10 5 6.4 3.7 16 8.3 2.6 1 2.4 .7 8 4.6 4.6 1.4 3 .6 6 2.2 10.4 2.9 10 1.7 5.6 1.7 6 1 4-.1 3 .2 2.4-.1 7.6 .1 11-1.4 14-4.8 13.4-7.3 4-1.8 9-4.9 4.6-3.1 6.4-5.4 3.6-3.8 3.4-5.8 1.6-1.7 1-.2 2 .1 3-1.9 4.4-1.4 3-.4 5.6 .1 2.4-1.2 6.6-5.1 6-7.6 7-6.4 6-4 12-8.6 4-3.2 4.4-2.9 13-10 7.6-4.5 11.4-5.1 5-2.7 6.6-4.5 4.4-3.6 4-2.6 4.6-3.5 6.4-4.2 3-1.2 2.6-.4 1.4 0 2.6 .6 5 .5 5.4 1.1 7-.4 20-4.4 4.6-1.9 10.4-3.4 9-2.1 5.6-1.7 4-.8 8-2.5 7-1.4 2.4 .1 7.6 1.4 10-1.5 10-.5 6 .3 13.4 2.8 11.6 4.1 4 2.3 7.4 5.7 5.6 3.7 9 6.7 5.4 4.4 5.6 4.7 5.4 5.3 8.6 11.2 4 6.6 4 8.9 4 11.2 4.4 15 3.6 8.2 2.4 5.3 2 3.5 4 6.1 4 4.8 2.6 2.3 5.4 3.7 6.6 2.8 2.4 .8 7 1.6 4 .4 6 .3 7.6-.3 9-2 8-3.7 4.4-2.5 4-2.6 4-2.2 4.6-2.8 4-2.9 5.4-3.5 3.6-2.7 3.4-2.1 19.6-13.2 6.4-3.9 13-6.7 4-2.3 5.6-2.2 12-5.8 11.4-4.5 8-2.6 4.6-1.3 4.4-.9 4-1.4 5.6-1.2 21-5.3 10.4-1.6 4-.2 6 0 3.6-.4 5 .6 4 .8 3.4 .3 4.6 .9 4 .2 3 .6 3.4 1.4 5 1 11 3.4 7 2.5 3 1.5 4 1.5 5.6 2.4 5.4 1.7 8.6 1.5 3.4 .3 7-.3 4.6 .3 3.4-.2 8 .1 12 1.4 4 1.2 4.6 1.7 3 1.4 8 1.7 6.4 2.8 3.6 .7 1.4 .6 3.6 3 2.4 1.6 1 .8 4.6 6.7 2.4 4.9 4 10.6 2 4.6 2.6 4.4 4 5.3 2 3.4 2 5.1 2 6.8 2.4 10.2 1.6 7.7 1 1.8 1 .8 7.4-1.6 1.6-.6 6.4-5.3 6-4.1 3.6-3 1-.2 2 .1 3-1 3-.1 3-1.4 3-.9 5.4-1 4.6-1.5 3.4-.4 4-1.9 3.6-.9 3.4-1.3 3-1.6 6.6-2.2 6.4-3.8 6.6-2.3 4.4-2.1 3-2.1 3.6-2 9-3.9 3.4-2.2 1-.1 4.6 1.4 1 0 1-.2 2-1.4 3.4-3.2 4-2.2 4.6-2.8 2-.8 4.4-1.1 3-1.8 5-2.2 11.6-6.9 4-1 3.4-2 3-1.3 3-2.1 2.6-1.2 3-1.9 3.4-1.6 3-.8 3-1.4 3.6-1.3 4-.4 4.4-1.1 2.6 .2 4 1.4 3.4 .3 5 1.1 4.6 1.3 6.4 2.4 3 .6 3 2.4 1 .5 3 .3 7 1.9 3-.1 4 .2 3.6 1 3.4 .4 4 1.3 3 .3 3.6 .7 1.4-.2 3-1.2 4.6-.7 1 0 2.4 .6 5-.7 5 1.1 5 0 5.6 1.2 6.4 .8 3 1.2 3 .8 4 .7 1.6 .7 2 1.5 3 0 3 2.5 4.4 2.9 1.6 .2 5.4-.6 1-.3 2-1 1-.2 1.6 .7 3 2.7 3.4 1.3 1.6-.2 3-2.7 2-1.2 1.4-.4 3-.1 3.6-1.2 1.4 .2 2 1.4 1 .2 3-1 8 .1 4-.5 1 .5 3 2.7 3 1.2 1.6 .9 1 .2 2.4-1.6 1-.1 1.6 .8 6.4 4.4 1 .3 4.6-1.4 1.4 .2 2.6 1 2.4 .3 1-.2 2-.9 1.6-.2 2.4 .8 2.6 .5 2.4 1.6 2.6-.1 3 .7 2.4 .2 1.6-.4 2-1.5 1.4-.3 1 .6 2.6 4.3 1 .8 3.4-1 3.6 .5 4-1.1 1 0 3 1.5 3-.2 1 .4 3 2.5 3 1.1 3 2.7 3 .2 3.4 1.1 1 .1 1-.3 2.6-2.2 3.4-1.3 2 .1 4.6 1.6 3-.2 2 1 1 .2 2-.5 3.4-2.1" stroke="#f69e90"/>
<path d="M192.8 1252.3l2 3.3 1.4 1.7 8 3.9 3 1 2 .3 4 .1 3-.9 1 0 3.6 1.4 2 .3 1-.5 1-1 3.4-4.7 5.6-4.9 2-.9 4-.1 1.4-.3 2.6-1.3 2.4-2.5 7-8.4 2.6-3.4 3-4.6 3.4-7.6 2-2.7 1.6-1 3.4-1.3 3-1.4 1.6-1.1 4-3.6 4-2.8 4.4-2.5 2-.9 5.6-1.7 5-2.1 9.4-5.7 5.6-3.8 5-4 6.4-6.7 6.6-7.6 3.4-5.1 2-3.5 4.6-9 5-8.9 16.4-25.5 5.6-6.5 10.4-10.7 4.6-5.7 6.4-8.9 4.6-5.4 7-7.5 4-3.8 2-1.5 3-1.2 6.4-3.3 7.6-2.6 4-1.7 3-1.7 4.4-1.5 4.6-1 6.4 .1 5-1.4 5.6 0 2-.6 2.4-1.7 11-9.7 6.6-6.6 3-3.7 2.4-3.7 2-4 1-3 2-7.9 11-49.1 16-63.7 5.6-19.9 3-8.4 3.4-7.8 2.6-3.6 3-2.7 3.4-1.9 2.6-.5 1 0 5 1.6 10 4.9 6.4 3.7 16 8.3 2.6 1 2.4 .7 8 4.5 4.6 1.5 3 .6 6 2.2 10.4 3 10 1.7 5.6 1.6 6 1.1 4-.2 3 .3 2.4-.2 7.6 .2 11-1.5 14-4.8 13.4-7.5 4-1.9 8.6-4.8 5-3.6 6.4-5.4 3.6-3.9 3.4-5.9 1.6-1.7 1-.3 2 .1 3-1.8 4-1.2 3.4-.5 5 .3 1-.3 1.6-.7 3-2.1 4-3.4 6-7.6 6.4-6 7-4.7 11.6-8.2 4-3.3 4.4-2.8 13-10.2 7.6-4.5 11.4-5.1 5-2.7 6.6-4.7 4.4-3.6 4-2.6 4-3.2 5.6-3.8 2.4-1.5 3-.9 3-.3 2.6 .4 5 .3 5.4 .9 7-.6 12.6-3.1 7.4-1.6 4.6-2 10.4-3.4 9-2.1 5.6-1.7 4-.8 8-2.5 6.4-1.3 2.6 0 8 1.5 10-1.6 10-.5 6 .3 13.4 2.5 11.6 3.9 4 2.1 7.4 5.4 5.6 3.5 9 6.3 5.4 4.2 5.6 4.5 5.4 5 8.6 10.5 4 6.3 4 8.5 4 10.5 4.4 14.2 3 6.7 4.6 8.5 4.4 6.4 4 4.4 2.6 2.2 5.4 3.4 6.6 2.7 2 .6 7.4 1.6 4 .4 6 .2 7.6-.3 9-1.9 8-3.6 4.4-2.3 4-2.5 4-2 4.6-2.7 4-2.9 5.4-3.2 3.6-2.7 3.4-1.9 7.6-5 4.4-2.5 8-5.4 6-3.3 13-6.3 4-2.2 5.6-2.1 12-5.5 11.4-4.3 8-2.5 4.6-1.1 4.4-.9 4-1.4 5.6-1 21-5.2 10-1.5 4.4-.3 6 .1 3.6-.4 5 .6 4 .7 3.4 .3 4.6 .8 4 .2 3 .6 3.4 1.3 5 .9 11 3.2 7 2.4 3 1.4 4 1.4 5.6 2.3 5.4 1.6 8.6 1.4 3.4 .3 6.6-.3 5 .3 3.4-.2 8 .1 12 1.3 3.6 1 5 1.7 3 1.4 8 1.5 6.4 2.4 3.6 .6 1.4 .5 3.6 2.7 2.4 1.4 1 .8 4.6 6.2 2.4 4.8 4 10.3 2 4.4 2.6 4.2 4 5 2 3.2 2 4.8 2 6.7 2.4 9.8 1.6 7.5 1 1.9 1 .8 7.4-1.7 1.6-.6 6.4-5.3 6-4.2 3.6-3 1-.2 2 .1 3-1 3-.1 3-1.3 3-1 5.4-1 4.6-1.4 3.4-.4 4-2 3.6-.8 3.4-1.3 3-1.6 6.6-2.2 6.4-3.7 6.6-2.4 4.4-2 3-2.1 3.6-1.9 9-3.9 3.4-2.2 1 0 4.6 1.3 1 .1 1-.2 2-1.4 3.4-3.2 4-2.1 4.6-2.8 2-.7 4.4-1 3-1.9 4.6-1.8 2.4-1.6 2-.9 2.6-1.7 5-2.9 4-.9 3.4-2 3-1.2 3-2.1 2.6-1.2 3-1.8 3.4-1.6 3-.7 3-1.4 3.6-1.3 4-.3 4.4-1.1 2.6 .3 4 1.4 3.4 .4 5 1.1 11 3.9 3 .7 3 2.4 1 .5 3 .3 7 1.9 3 0 4 .2 3.6 1 3.4 .4 4 1.4 3 .3 3.6 .7 1.4-.2 3-1.3 4.6-.7 1 0 2.4 .6 5-.7 5 1 5 0 5.6 1.1 6.4 .7 3 1.2 3 .8 4 .5 1.6 .8 2 1.4 3-.1 3 2.5 4 2.6 1 .4 6.4-.6 1-.3 2-1.1 1-.1 1.6 .6 3 2.6 4 1.4 1-.3 3-2.8 2-1.2 1.4-.4 3-.2 3.6-1.2 1.4 .1 2 1.3 1 .2 3-1 8 0 4-.6 1 .5 3 2.7 3 1.2 1.6 .9 1 .1 2.4-1.6 1-.1 1.6 .8 6.4 4.3 1 .4 4.6-1.5 1.4 .2 2.6 .9 2.4 .3 1-.2 2-1 1.6-.1 2.4 .8 2.6 .4 2.4 1.6 2.6-.1 3 .6 2.4 .2 1.6-.4 2-1.6 1.4-.2 1 .6 2.6 4.2 1 .9 3.4-1 3.6 .4 4-1.2 1 0 3 1.6 3-.3 1 .4 3 2.5 3 1.1 3 2.7 3 .2 3.4 1.1 1 .1 1-.4 2.6-2.1 3.4-1.3 2 0 4.6 1.6 3-.2 2 1 1 .2 2-.5 3.4-2.1" stroke="#ff9896"/>
<path d="M192.8 1251.6l2 3.2 1.4 1.7 8 3.8 3 1 2.6 .2 3.4 .1 3-.9 1-.1 3.6 1.3 2 .3 1-.5 1-1 3.4-4.7 5.6-5 2-.9 4-.2 1.4-.3 2.6-1.3 2.4-2.5 7-8.4 2.6-3.4 3-4.7 3.4-7.6 2-2.6 1.6-1 4-1.5 3-1.6 4.4-4.1 5-3.4 5-2.6 6.6-2.1 5-2.2 9.4-5.7 5.6-3.9 5-3.9 6.4-6.8 6.6-7.6 3.4-5 2-3.4 4.6-8.8 5-8.7 17-26 5-6 10.4-11.3 4.6-5.8 6-8.5 5-6.2 7-7.6 4-3.9 2-1.5 3-1.3 7-3.6 7-2.5 4-1.7 3-1.7 4.4-1.6 5-1.1 6 0 5-1.3 5.6-.1 2-.6 2-1.3 11.4-10 6.6-6.5 3-3.6 2.4-3.6 2-3.9 1-2.9 2-7.5 11-46.7 16-60.6 5.6-18.8 3-7.9 3.4-7.4 2.6-3.4 2.4-2.2 3.6-1.9 2.4-.7 1.6 0 5 1.5 10 4.9 6.4 3.8 16 8.2 5 1.7 8 4.5 4.6 1.5 3 .6 6 2.3 10.4 3 10 1.7 5.6 1.6 6 1 4-.1 3 .3 2.4-.2 7.6 .1 11-1.5 14-4.9 14-7.9 3.4-1.6 8.6-5.1 5-3.7 6.4-5.5 3.6-3.9 3.4-6 1.6-1.7 1-.3 2 0 3-1.8 4-1.1 3.4-.4 5 .3 1-.2 1.6-.8 3-2.1 4-3.5 6-7.5 6.4-6 7-4.7 11.6-8.2 4-3.2 4.4-2.9 13-10.2 7.6-4.6 11.4-5.2 5-2.7 6.6-4.7 4.4-3.7 4-2.7 4-3.2 6-4.2 2.6-1.5 3.4-1 2-.2 2.6 .4 4.4 0 6 .7 7-.8 12.6-3.2 7.4-1.7 4.6-2 10.4-3.5 9-2.1 5-1.6 4.6-.9 8-2.5 6.4-1.3 2.6 0 8 1.6 10-1.6 10-.6 6 .2 4.4 1 3 .3 6 1.1 11.6 3.6 4 2 7.4 5.1 5 3 9.6 6.2 5.4 3.9 5.6 4.3 5.4 4.8 8.6 9.9 4 6 4 8 4 10 4.4 13.4 3 6.3 4.6 7.9 4.4 5.9 4 4.2 2.6 2 5.4 3.2 6.6 2.4 2 .6 7.4 1.5 4 .4 5.6 .1 7-.1 9-1.7 2-.6 10-4.5 5.4-3.2 4.6-2.2 4.4-2.6 4-2.7 4.6-2.5 4-2.8 3-1.5 8-5.1 4.4-2.4 7.6-4.7 6.4-3.5 13-6 4-2.1 5.6-2 12-5.2 11.4-4.1 8-2.3 4.6-1.1 4.4-.7 4-1.4 6-1.1 20.6-4.9 10-1.4 4.4-.3 6 0 3.6-.4 5 .6 4 .7 3.4 .3 4.6 .7 4 .1 3 .6 3.4 1.3 5 .9 11 3 7 2.3 3 1.3 4 1.3 5.6 2.2 5.4 1.5 8.6 1.3 3.4 .3 6.6-.3 5 .3 3.4-.3 8 .1 11.6 1.2 4 1 8 2.9 8 1.3 6.4 2.2 4 .5 1.6 .5 3 2.3 2.4 1.1 1 .7 4.6 5.9 2.4 4.6 4 10.1 2 4.2 2.6 4 4.4 5.3 2 3.3 2 5.3 2 6.7 2 7.8 1.6 7.3 1 1.8 1 .8 7.4-1.6 1.6-.7 6.4-5.3 6-4.2 3.6-3 1-.2 2 .1 3-1 3-.1 3-1.4 3-.9 5.4-1 4.6-1.5 3.4-.4 4-1.9 3.6-.8 3.4-1.3 3-1.5 6.6-2.2 6.4-3.8 6-2.1 5-2.2 3.6-2.4 3-1.6 8.4-3.6 4-2.4 1 0 4.6 1.4 1 .1 1-.2 2-1.4 3.4-3.1 4.6-2.4 4-2.5 2-.7 4.4-1 3-1.7 4.6-1.9 2.4-1.5 2-.9 2.6-1.7 5-2.7 4-.9 3.4-2 3-1.2 3-2.1 2.6-1.1 3-1.8 3.4-1.5 3-.7 3-1.4 3.6-1.2 4-.3 4.4-1 2.6 .3 4 1.5 3.4 .4 4.6 1.1 5 1.6 6.4 2.5 3 .7 3 2.5 1 .5 3 .3 7 2 3 0 4.6 .3 3 .9 3.4 .5 4 1.3 7 1.1 1-.2 3-1.3 4.6-.8 1 .1 2.4 .6 5-.8 4.6 .9 5.4-.1 5.6 1.1 4 .5 2.4 .1 3 1.2 3 .7 4 .5 1.6 .8 2 1.4 3-.1 3 2.4 4 2.6 1 .3 6.4-.6 1-.4 2-1.1 1-.2 1.6 .6 3 2.7 4 1.3 1-.3 3-2.9 2-1.2 1.4-.5 3-.2 3.6-1.3 1.4 .1 2.6 1.5 3.4-1.1 8-.2 4-.6 1 .5 3 2.7 3 1.2 1.6 .9 1 .1 2.4-1.7 1-.1 1.6 .8 6.4 4.3 1 .3 4.6-1.5 1.4 .2 2.6 .9 2.4 .2 1-.1 2-1.1 1.6-.1 2.4 .7 2.6 .5 2.4 1.5 3-.1 2.6 .5 2.4 .2 1.6-.4 2-1.5 1.4-.3 1 .6 2.6 4.2 1 .9 3.4-1.1 3.6 .4 4-1.2 1 0 3 1.5 3-.2 1 .4 3 2.4 3 1.1 3 2.8 3 .2 3.4 1 1 .1 1-.4 2.6-2.1 3.4-1.4 2 .1 4.6 1.6 3-.2 2 .9 1 .3 2-.6 3.4-2.1" stroke="#ff8084"/>
<path d="M192.8 1250.9l2 3.2 1.4 1.7 7.6 3.5 3.4 1.1 2.6 .3 3.4 0 3-1 1-.1 3.6 1.3 2 .2 1-.5 1-1 3.4-4.8 5.6-5 2-.9 4-.3 1.4-.3 2.6-1.3 2.4-2.5 6.6-7.8 2.4-3.4 3.6-5.4 3.4-7.6 2-2.5 1.6-1 4-1.6 3-1.6 4.4-4 5-3.4 5-2.7 6.6-2.1 5-2.1 9.4-5.8 5.6-3.9 5-4 7-7.3 6-7.1 3.4-5 2-3.3 4.6-8.6 5-8.5 17-25.8 5-6.2 10.4-11.7 4.6-6 6-8.7 5-6.3 7-7.7 4.4-4.5 1.6-1.1 3-1.3 7.4-4 9.6-3.6 4.4-2.4 4-1.3 5-1.3 6 0 5-1.4 5.6-.1 2-.6 2-1.3 12-10.4 6.4-6.4 5-6.6 2-3.8 1-2.7 2-7.2 11-44.4 16-57.6 5.6-17.8 2.4-6.5 4-8 2.6-3.3 2.4-2 3.6-1.9 2.4-.6 1.6 0 5 1.5 10 4.9 6.4 3.7 16 8.2 5 1.8 8 4.4 4.6 1.5 3 .7 6 2.2 10.4 3.1 10 1.7 5.6 1.6 6 1 4-.1 3 .2 2.4-.2 7.6 .2 11-1.6 14-4.9 14-8 3.4-1.7 8-5 5.6-4.1 6.4-5.6 3.6-3.9 3.4-6.1 1.6-1.8 1-.3 2 0 3-1.7 4-1.1 3.4-.3 5 .3 1-.2 1.6-.7 3-2.2 4-3.5 6-7.6 7.4-6.7 6-3.9 12-8.5 3.6-2.9 4.4-2.9 14-11 6.6-3.9 11.4-5.3 5.6-3 6-4.4 4.4-3.7 4-2.8 4-3.3 8-5.6 2-.7 3.6-.8 3 .2 5-.2 5.4 .5 7-.9 12.6-3.4 7.4-1.8 4.6-2.1 10.4-3.6 9-2.1 4.6-1.4 5-1 7.4-2.3 5.6-1.3 2-.2 2 0 8 1.6 3.4-.4 6-1.1 6.6-.5 6.4-.2 4 .2 4 .9 3 .3 6.6 1.1 10.4 3.1 3.6 1.5 5.4 3.3 3 2.1 5 2.7 10 6.2 10 7.1 5.6 4.4 3.4 3.7 5.6 6.2 2 2.6 3.4 5.7 3.6 7.1 3 7.3 4 11.3 1.4 3.5 5.6 9.7 5.4 7 5.6 5.1 7 3.8 7.4 2.4 9 1.6 8.6 .4 7-.1 9-1.6 2-.6 10-4.4 5.4-3 4.6-2.1 4.4-2.4 4-2.6 4.6-2.4 4-2.7 3-1.4 8-4.8 4.4-2.3 8-4.8 6-2.9 13-5.7 4-2 5.6-1.9 12-5 11.4-3.9 11.6-2.9 5.4-.9 4-1.3 6-1.1 20.6-4.7 10-1.4 4.4-.3 6 0 3.6-.4 5 .5 4 .8 3.4 .2 4.6 .7 3.4 0 3.6 .6 3.4 1.3 5 .8 11 2.8 7 2.2 3 1.3 4 1.2 5.6 2.1 5.4 1.3 8.6 1.3 3.4 .3 6.6-.3 5 .2 3.4-.2 8 0 11.6 1.2 4 1 8 2.7 8 1 6.4 2 4 .3 1.6 .4 3 2.1 2.4 .9 1 .7 4.6 5.4 2.4 4.5 4 9.8 2 4.2 2.6 3.7 4.4 5 2 3.2 2 5 2 6.6 2 7.5 1.6 7.1 1 1.9 1 .8 7.4-1.7 1.6-.6 6-5 6.4-4.7 3.6-3 1-.2 2 .1 3-1 3-.1 3-1.4 3-.9 5.4-1 4.6-1.4 3.4-.4 4-1.9 3.6-.8 3.4-1.3 3-1.5 6.6-2.2 6.4-3.7 6-2.1 5-2.1 3.6-2.5 3-1.6 8.4-3.5 4-2.4 1 0 4.6 1.5 1 .1 1-.2 2-1.4 3.4-3.1 4.6-2.3 4-2.5 2-.7 4.4-.9 3-1.7 4.6-1.8 2.4-1.5 2-.9 2.6-1.7 5-2.7 4-.8 3.4-1.9 3-1.2 3-2.1 2.6-1 3-1.8 3.4-1.5 3-.7 3-1.3 3.6-1.2 4-.3 4.4-1 2.6 .4 4 1.6 3.4 .5 5 1.2 11 4.2 3 .7 3 2.5 1 .6 3 .3 7 2 7 .3 3.6 1 3.4 .5 4 1.3 3 .3 3.6 .7 1.4-.1 3-1.3 4.6-.8 1 0 2.4 .6 5-.9 4.6 .9 5.4-.1 5.6 1.1 4 .4 2.4 0 3 1.2 3 .7 4 .5 1.6 .7 2 1.4 3-.2 3 2.4 4 2.6 1 .3 6.4-.8 1-.3 2-1.2 1-.2 1.6 .6 3 2.6 4 1.3 1-.3 3-2.9 2-1.3 1.4-.5 3-.3 3.6-1.3 1.4 .1 2.6 1.4 3.4-1.1 8-.3 4-.7 1 .5 3 2.7 3 1.2 1.6 .8 1 .1 2.4-1.7 1-.1 1.6 .8 6.4 4.2 1 .4 4.6-1.6 1.4 .1 2.6 .9 2.4 .3 1-.2 2-1.1 1.6-.2 2.4 .8 2.6 .4 2.4 1.5 3-.1 2.6 .5 2.4 .2 1.6-.5 2-1.5 1.4-.3 1 .6 2.6 4.3 1 .8 3.4-1.1 3.6 .3 4-1.2 1 0 3 1.5 3-.2 1 .3 3 2.5 3 1.1 3 2.7 3 .2 3.4 1.1 1 0 1-.4 2.6-2.1 3.4-1.4 2 .1 4.6 1.6 3-.3 2 1 1 .2 2-.5 3.4-2.2" stroke="#ff646c"/>
<path d="M192.8 1250.2l2 3.2 1.4 1.7 7.6 3.4 4 1.1 3.4 .2 2.6-.1 2.4-.9 1-.1 3.6 1.2 2 .2 1.4-.9 3.6-4.9 6-5.6 2-1 4-.3 1.4-.3 2.6-1.3 2.4-2.5 6.6-7.9 2.4-3.3 3.6-5.4 3.4-7.6 2-2.6 1.6-1 4-1.6 3-1.6 4.4-4 5-3.4 5-2.6 6.6-2.1 5-2.2 9.4-5.8 5.6-4 5-4 7-7.3 6-7 3.4-5 2-3.2 4.6-8.5 5-8.3 17-25.7 5-6.3 10.4-12.1 10.6-15.1 4.4-5.8 7.6-8.5 4.4-4.5 1.6-1.1 3-1.4 7-3.8 10-4 4-2.2 1.4-.6 7.6-2.2 6.4-.2 5-1.3 5.6-.2 1.4-.3 2.6-1.6 12-10.3 6.4-6.4 5-6.4 2-3.7 1-2.6 2-6.9 11.6-44 15.4-53.1 5.6-16.9 2.4-6.1 4-7.6 2.6-3.1 2.4-1.9 3.6-1.7 2.4-.7 1.6 0 5 1.5 10 4.9 6.4 3.7 16 8.2 5 1.8 8 4.4 4.6 1.5 3 .7 6 2.2 10.4 3.1 10 1.8 5.6 1.6 6 1 4-.2 3 .3 2.4-.2 7.6 .1 11-1.6 14-4.9 14-8.2 3.4-1.8 7.6-4.7 6-4.6 6.4-5.7 3.6-4 3.4-6 1.6-1.9 1-.3 2-.1 3-1.7 4-.9 3.4-.3 5 .4 1-.2 1.6-.8 3-2.2 4-3.5 6-7.7 7.4-6.6 6-3.8 11.6-8.2 4-3.3 4.4-2.9 14.6-11.4 6-3.6 11.4-5.3 6-3.4 5.6-4.1 4.4-3.8 4-2.8 4-3.3 8-5.7 2-.9 3.6-.9 3 .1 5-.3 5.4 .2 7-1 12.6-3.6 7.4-1.8 4.6-2.1 10.4-3.7 9-2.1 5-1.6 4.6-.8 8.4-2.6 5-1.1 2.6-.1 9 1.7 3.4-.4 5.6-1.1 6.4-.5 5.6-.3 6 .3 3.4 .7 3 .3 6.6 1 11 3 3.4 1.5 8 4.9 5.6 2.9 13.4 8.1 10.6 7.5 3.4 3.2 7 7.5 4 5.6 4 7.4 3 6.7 4.6 11.9 1.4 3.3 5.6 9 6 7 5 4.3 7 3.5 7.4 2.3 9 1.5 8.6 .3 7-.1 9-1.6 2-.5 10-4.2 5.4-2.9 4.6-1.9 4.4-2.4 4-2.5 4.6-2.2 4-2.6 3-1.4 8-4.5 4.4-2.1 8-4.7 5.6-2.5 13.4-5.6 4-1.9 5.6-1.8 12-4.7 11.4-3.7 8-2.1 5-1 3.6-.4 4.4-1.4 9-1.6 17.6-3.9 10-1.4 4.4-.3 6 0 3.6-.4 5 .5 4 .7 3.4 .2 4.6 .7 3.4-.1 3.6 .6 3.4 1.2 5 .8 11 2.6 7 2.1 3.6 1.4 3.4 1 5.6 2 5.4 1.3 4.6 .4 4 .7 3.4 .3 6.6-.3 5 .2 3.4-.2 8 0 12 1.2 3.6 .9 8 2.6 8 .8 7 1.7 4 .1 1.4 .6 2.6 1.6 2.4 .8 2 1.5 4 4.9 2 3.6 4 9.6 2 4 2.6 3.6 4.4 4.7 2 2.9 1.6 3.5 2 6.1 2.4 9 1.6 6.9 1 1.9 1 .9 7.4-1.8 1.6-.6 6-5 6.4-4.7 3.6-3 1-.3 2 .2 3-1 3-.2 3-1.3 3-1 5.4-.9 4.6-1.5 3.4-.3 4-2 3.6-.8 3.4-1.2 3-1.5 6.6-2.2 6.4-3.7 6-2 5-2.2 3.6-2.4 3-1.6 8.4-3.5 4-2.3 1 0 4.6 1.5 1 .2 1-.3 2-1.3 3.4-3.1 4.6-2.3 4-2.5 2-.6 4.4-.9 3-1.7 4.6-1.7 2.4-1.5 2-.8 2.6-1.7 5-2.7 4-.8 3.4-1.8 3-1.2 3-2 2.6-1.1 3-1.7 3.4-1.5 3-.6 3-1.4 3.6-1.1 4-.3 4.4-.9 2.6 .4 4 1.7 3.4 .5 5 1.3 11 4.3 3 .8 3 2.5 1 .6 3 .3 7 2.1 7 .3 3.6 1 3.4 .5 4 1.4 6.6 1 1.4-.2 3-1.3 4.6-.8 3.4 .7 5-1 4.6 .8 5.4-.1 5.6 1 4 .4 2.4 0 3 1.1 3 .7 4 .4 1.6 .7 2 1.4 3-.2 3 2.4 4 2.5 1 .3 6.4-.9 1-.3 2-1.2 1-.2 1.6 .5 3 2.6 4 1.2 1-.3 3-3 2-1.3 1.4-.5 3-.3 3.6-1.4 1.4 .1 2.6 1.4 3.4-1.2 8-.4 4-.7 1 .5 3 2.7 3 1.1 1.6 .8 1 .1 2.4-1.7 1-.1 1.6 .7 6.4 4.3 1 .3 4.6-1.7 1.4 .2 2.6 .9 2.4 .2 1-.2 2-1.1 1.6-.2 2.4 .7 2.6 .4 2.4 1.5 3-.1 2.6 .5 2.4 .1 1.6-.4 2-1.6 1.4-.3 1 .6 2.6 4.3 1 .8 3.4-1.2 3.6 .4 4-1.3 1 0 3 1.5 3-.3 1 .4 3 2.5 3 1.1 3 2.7 3 .2 3.4 1 1.6-.1 1-.6 2-1.9 3.4-1.3 2 .1 4.6 1.6 3-.3 2 1 1 .2 2-.6 3.4-2.1" stroke="#ff4852"/>
<path d="M192.8 1249.6l2 3.2 1.4 1.6 7.6 3.4 4 1.1 3.4 .2 2.6-.2 2.4-.9 1-.2 3.6 1.1 2 .2 1.4-.9 3.6-4.9 6-5.7 2-1 4-.3 1.4-.4 2.6-1.3 2.4-2.4 6.6-7.9 2.4-3.4 3.6-5.4 3.4-7.6 2-2.5 1.6-1 4-1.7 3-1.6 4.4-4 5-3.4 5-2.6 6.6-2.1 5-2.2 9.4-5.8 5.6-4 5-4 7-7.4 6-7 3.4-4.9 2-3.2 4.6-8.3 5-8.1 17-25.6 5-6.4 10.4-12.5 10.6-15.5 4.4-5.9 7.6-8.5 4.4-4.7 1.6-1.1 3-1.4 7-3.9 10-4.1 5-2.7 8.4-2.5 6-.3 5-1.2 5.6-.2 1.4-.4 2.6-1.6 12-10.2 6.4-6.3 5-6.3 2-3.6 1-2.5 2-6.6 11.6-41.9 15.4-50.6 5-14.6 2.6-6.1 4-7.5 2.4-3.2 2.6-2 3.4-1.8 3-.8 1.6 .1 5 1.4 10 4.9 6.4 3.7 16 8.1 5 1.8 8 4.4 4.6 1.5 3 .7 6.4 2.5 10.6 3 9.4 1.7 5.6 1.6 6 1 4-.2 3 .3 2.4-.2 7.6 .1 11-1.6 12.4-4.3 2-.9 13.6-8.1 3.4-1.8 7.6-4.9 6-4.7 6.4-5.8 3.6-4 3.4-6.1 1.6-1.9 1-.3 2-.1 3-1.7 3.4-.8 4-.2 5 .3 1-.2 1.6-.8 3-2.2 4-3.5 6-7.7 7.4-6.6 6-3.8 11.6-8.2 4-3.3 4.4-2.9 14.6-11.4 6-3.6 11.4-5.4 6-3.5 5.6-4.1 4.4-3.8 4-2.8 4-3.4 8-5.8 2-.9 3.6-1 3 0 5.4-.6 5 .1 7-1.2 12.6-3.7 7.4-1.8 4.6-2.2 10.4-3.7 9.6-2.3 4.4-1.4 4.6-.9 8.4-2.5 5-1.1 2.6-.2 9 1.8 3.4-.4 5.6-1.1 6.4-.6 5.6-.2 6 .2 3.4 .7 3 .2 6.6 .9 11 2.9 3.4 1.4 8 4.5 5.6 2.8 11.4 6.4 9 5.8 5.6 4.2 8.4 8.5 3.6 4.6 4 6.7 3.4 7.4 4.6 11.2 1.4 3.1 5.6 8.4 6 6.5 5 3.9 7 3.3 7.4 2.1 9 1.4 8.6 .3 7-.1 10.4-1.9 8.6-3.3 4-1.8 4-2.1 4-1.6 4.4-2.2 4-2.4 4.6-2.1 4-2.5 3-1.3 8-4.3 4.4-2 8-4.4 5.6-2.4 13.4-5.3 4-1.9 5.6-1.6 12-4.5 7.4-2.2 4-1.3 8-2 5-.9 3.6-.4 4.4-1.3 9-1.5 17.6-3.9 10-1.3 10.4-.3 3.6-.4 5 .5 4 .7 3.4 .1 4.6 .7 3.4-.1 3.6 .5 3.4 1.2 5 .7 11 2.5 7 2 3.6 1.3 3.4 .9 5.6 1.9 5.4 1.2 4.6 .5 4 .6 3.4 .3 6.6-.4 5 .3 3.4-.3 8 .1 11.6 1.1 4 .9 8 2.4 8 .6 6.4 1.5 5 0 3.6 1.9 3 .8 1.4 1.2 3.6 3.9 1 1.4 2 3.9 4 9.3 2 3.6 2 2.6 4.4 4.4 2 2.8 1.6 3.4 2 5.9 2.4 8.8 1.6 6.7 1 1.9 1 .9 7.4-1.8 1.6-.6 6-5.1 6.4-4.7 3.6-3 1-.2 2 .1 3-1 3-.1 3-1.4 3-1 5.4-.9 4.6-1.4 3.4-.4 4-1.9 3.6-.8 3.4-1.2 3-1.6 7-2.3 6-3.5 6-2 5-2.1 3.6-2.4 3-1.6 8.4-3.5 4-2.3 1 0 4.6 1.6 1 .2 1-.3 2-1.3 3.4-3.1 4.6-2.3 4-2.4 2-.6 4.4-.8 3-1.7 4.6-1.7 2.4-1.5 2-.8 2.6-1.6 5-2.6 4-.8 3.4-1.8 3-1.1 3-2.1 2.6-1 3-1.7 3.4-1.5 3-.6 3-1.3 3.6-1.1 4-.2 4-.8 2.4 .2 4 1.7 4 .7 5 1.4 11 4.4 3 .8 3 2.6 1 .6 3 .3 7 2.2 7 .3 3.6 1.1 3 .3 4.4 1.5 6.6 1.1 1.4-.2 3-1.3 4.6-.8 3.4 .6 5-1 4.6 .8 5.4-.2 5.6 .9 4 .4 2.4-.1 3 1.1 3 .7 4 .4 1.6 .6 2 1.4 3-.3 3 2.4 4 2.5 1 .3 6.4-.9 1-.4 2-1.3 1-.2 1.6 .6 3 2.6 4 1.1 1-.3 3-3 2-1.4 1.4-.5 3.6-.6 3-1.3 1.4 .1 2.6 1.4 3.4-1.2 8-.5 4-.8 1 .5 3 2.7 3 1.1 1.6 .8 1 .1 2.4-1.8 1-.1 1.6 .7 6.4 4.2 1 .4 4.6-1.7 1.4 .1 2.6 .9 2.4 .2 1-.3 2-1 1.6-.3 2.4 .7 2.6 .4 2.4 1.5 3-.2 2.6 .5 2.4 .1 1.6-.4 2-1.6 1.4-.3 1 .5 2.6 4.3 1 .8 3.4-1.1 3.6 .3 4-1.3 1-.1 3 1.6 3-.3 1 .3 3 2.5 3 1.1 3 2.7 3 .2 3.4 1 1.6-.1 1-.6 2-1.9 3.4-1.3 2 .1 4.6 1.6 3-.3 2 .9 1 .3 2-.6 3.4-2.2" stroke="#ff3038"/>
<path d="M192.8 1249l2 3.2 1.4 1.6 7 3.2 5.6 1.3 4.4 0 3-1.1 1-.2 3.6 1.1 2 .2 1.4-1 3.6-4.9 6-5.8 2-1 5.4-.7 2.6-1.3 2.4-2.4 6.6-8 2.4-3.4 3.6-5.4 3.4-7.6 2-2.4 1.6-1.1 4-1.7 3-1.6 4.4-4 5-3.4 5-2.6 6.6-2 5-2.3 9.4-5.9 5.6-3.9 5-4.1 7-7.4 6-7 3.4-4.8 6.6-11.3 5-7.9 17.4-26.3 14.6-17.9 11-16.5 4-5.4 8-9.3 4.4-4.7 1.6-1.2 10-5.4 10-4.2 5-2.7 8.4-2.6 5.6-.3 5.4-1.3 5.6-.2 1.4-.4 2.6-1.6 12-10.2 6.4-6.1 5-6.2 2-3.5 1-2.4 2-6.3 11.6-40.1 15.4-48.1 5-14 2.6-5.7 4-7 2-2.6 2.4-2.1 3.6-1.8 3.4-1 1.6 .1 5 1.4 10 4.8 6.4 3.7 16 8.2 5 1.8 8 4.4 4.6 1.5 3 .7 6.4 2.4 10.6 3.1 9.4 1.7 5.6 1.6 6 1 4-.2 3 .3 2.4-.2 7.6 .1 11-1.6 12.4-4.4 2-.9 17-10 7.6-5.1 6-4.8 6.4-5.9 3.6-4 3.4-6.1 1.6-1.9 1-.4 2-.2 3-1.6 3-.6 4.4-.3 5 .4 1-.2 1.6-.8 3-2.3 4-3.5 6-7.7 7-6.2 6.4-4.1 11.6-8.2 4-3.3 4.4-2.9 14.6-11.5 6-3.6 11.4-5.4 6-3.5 5.6-4.2 4.4-3.8 4-2.9 4-3.4 8-6 2-.9 3.6-1.1 3-.1 5.4-.7 5-.1 7-1.3 12.6-3.9 7.4-1.9 4.6-2.2 10.4-3.8 9.6-2.2 4.4-1.5 4.6-.8 8.4-2.6 5-1 2.6-.2 9 1.8 3.4-.4 6.6-1.2 10.4-.7 6 0 4 .8 9 .9 7.6 1.7 6 1.8 6 2.9 3.4 2 5 2.3 10.6 5.5 9.4 5.7 6.6 4.6 8 7.5 4 4.9 4 6.4 3.4 6.9 4.6 10.6 1.4 2.9 5.6 7.9 6 6 5 3.7 7 3 7.4 1.9 9 1.3 8.6 .3 7-.2 10.4-1.7 8.6-3.2 4-1.7 3.4-1.8 4.6-1.7 4.4-2.2 4-2.3 4.6-2 4-2.4 3-1.2 8-4.1 4.4-1.9 8-4.1 5.6-2.3 13.4-5.1 4-1.7 5.6-1.6 12-4.3 7.4-2 4-1.3 11.6-2.5 5-.5 4.4-1.3 9-1.4 17.6-3.8 10-1.3 10.4-.2 3.6-.5 5 .4 4 .7 3.4 .1 4.6 .7 3.4-.1 3.6 .5 3.4 1.1 5 .6 11 2.4 7 1.9 3.6 1.3 3.4 .8 5.6 1.8 5.4 1.2 12 1.2 6.6-.3 5 .2 3.4-.2 8 0 8.6 1 3 .1 3.4 .7 8.6 2.4 8.4 .5 6 1.2 5-.2 3.6 1.7 3 .6 1.4 1.1 3.6 3.6 1 1.4 2 3.8 4 9.1 2 3.4 2 2.6 4.4 4.1 2 2.7 1.6 3.2 2 5.7 2.4 8.6 1.6 6.6 1 1.9 1 .8 7.4-1.7 1.6-.7 6-5.1 6.4-4.7 3.6-3.1 1-.2 2 .1 3-1 3-.1 3-1.4 3-.9 5.4-.9 4.6-1.5 3.4-.3 4-1.9 3.6-.8 3.4-1.2 3-1.5 7-2.3 6-3.5 6-2 5-2.1 3.6-2.4 2.4-1.4 9.6-3.9 3.4-2 1 0 4.6 1.7 1 .1 1-.2 2-1.3 3.4-3.1 4.6-2.3 4-2.3 2-.6 4.4-.8 3-1.7 4.6-1.7 2.4-1.4 2-.8 2.6-1.6 5-2.6 4-.7 3.4-1.8 3-1.1 3-2 2.6-1 3-1.7 3.4-1.4 3-.6 3-1.3 3.6-1.1 4-.2 4-.7 2.4 .2 4 1.8 4 .7 5 1.5 11 4.5 3 .8 3 2.7 1 .5 3 .4 7 2.2 7 .4 3.6 1 3 .4 4.4 1.5 6.6 1.1 1.4-.2 3-1.3 4.6-.8 3.4 .6 5-1.1 4.6 .8 5.4-.3 5.6 .9 4 .4 2.4-.1 3 1 3 .6 4 .4 1.6 .6 2 1.4 3-.3 3 2.4 4 2.4 1 .3 6.4-1 1-.4 2-1.3 1-.2 1.6 .5 3 2.6 4 1.1 1-.3 3-3.1 2-1.4 1.4-.5 3.6-.6 3-1.4 1.4 .1 2.6 1.4 3.4-1.4 8-.5 4-.8 1 .4 3 2.7 5 2.1 1-.4 2-1.5 .6-.2 1 .3 7.4 4.7 1 .3 4.6-1.8 1.4 .2 2.6 .8 2.4 .2 1-.2 2-1.2 1.6-.2 2.4 .7 2.6 .3 2.4 1.5 3-.2 2.6 .4 2.4 .2 1.6-.5 2-1.6 1.4-.3 1 .5 2.6 4.4 1 .8 3.4-1.3 3.6 .3 4-1.3 1 0 3 1.5 3-.3 1 .3 3 2.5 3 1.1 3 2.7 3 .2 3.4 1 1.6-.1 1-.7 2-1.8 3.4-1.4 2 .1 4.6 1.6 3-.3 2 1 1 .2 2-.6 3.4-2.2" stroke="#ff2026"/>
<path d="M192.8 1248.5l2 3.1 1.4 1.7 7 3.1 4 1 2 .2 4 0 4-1.3 3.6 .9 2 .2 1.4-.9 3.6-5 6-5.8 2-1 5.4-.8 2.6-1.3 2.4-2.4 8.6-10.7 4-6.1 3.4-7.6 2-2.4 1.6-1.1 4-1.7 3-1.6 4.4-4 5-3.4 5-2.6 6.6-2 5-2.3 9.4-5.9 5.6-4 5-4.1 7-7.4 6-7 3.4-4.8 6-10.2 5-7.9 11-16.1 7-10.8 14.6-18.4 11-16.8 4-5.4 8-9.5 4.4-4.7 1.6-1.2 10.4-5.9 9.6-4 5-2.7 8.4-2.7 5.6-.3 5.4-1.3 5.6-.2 1.4-.4 2.6-1.7 3-2.7 9.4-7.8 6-5.7 5-6 2-3.4 1-2.4 2-6 11.6-38.2 15-44.5 5-13.5 2.4-5.7 4-6.9 2-2.6 3-2.6 3.6-1.6 3.4-1 1.6 .1 5 1.4 10 4.8 6.4 3.7 16 8.1 5 1.8 8 4.4 4.6 1.5 3 .7 6.4 2.5 10.6 3.2 9.4 1.6 5.6 1.6 6 1 4-.2 3 .3 2.4-.2 7.6 .1 11-1.6 12.4-4.4 2-.9 16.6-9.9 7.4-5.2 6.6-5.2 6.4-6 3.6-4 3.4-6.2 1.6-1.9 1-.4 2-.2 2.4-1.4 2-.5 2.6-.4 3-.1 5.4 .5 1-.2 1.6-.8 3-2.4 4-3.5 6-7.7 7-6.2 6.4-4.1 11.6-8.2 4-3.3 4.4-2.9 14.6-11.5 6-3.7 11.4-5.4 6-3.5 5.6-4.2 4.4-3.9 4-2.9 4.6-3.9 6-4.6 2-1.3 5-1.8 3-.3 5.4-.9 5-.2 6.6-1.3 13-4.1 7.4-2 4.6-2.3 10.4-3.8 9.6-2.2 4.4-1.5 4.6-.8 8-2.4 5.4-1.2 2.6-.1 9 1.8 3.4-.4 6.6-1.2 10.4-.8 5.6 0 4.4 .7 9.6 1 11 2.4 4 1.5 7.4 3.8 5 2.2 10 4.9 10 5.6 6.6 4.4 8 7.2 4 4.6 4 6 3.4 6.6 4.6 10 1.4 2.7 5.6 7.4 6 5.6 4.4 3.1 7.6 3 7.4 1.8 9 1.2 8.6 .2 7-.1 10.4-1.7 8.6-3.1 4-1.6 3.4-1.7 4.6-1.7 4.4-2 4-2.2 4.6-1.9 4-2.4 3-1 8-4 4.4-1.7 8.6-4.2 18.4-6.7 4-1.7 5.6-1.5 12-4.1 7.4-1.9 4-1.2 11.6-2.3 5-.6 4.4-1.2 9-1.3 17.6-3.7 10-1.2 10.4-.3 3.6-.5 5 .4 4 .7 3.4 .1 4.6 .6 3.4-.1 3 .3 4 1.3 5 .5 11 2.3 7 1.7 3.6 1.3 3.4 .8 5.6 1.7 5.4 1.1 12.6 1.2 6-.4 5 .2 3.4-.2 9.6 .1 7 .8 4 .2 11.4 2.9 7.6 .2 6.4 1 5-.3 3.6 1.5 3 .5 2 1.4 3 2.9 1 1.4 2 3.7 4 8.9 2 3.3 2 2.4 4.4 3.8 2 2.6 1.6 3.1 2 5.6 2.4 8.3 1.6 6.5 1 1.9 1 .8 7.4-1.7 1.6-.7 6-5.1 6.4-4.8 3.6-3 1-.3 2 .2 3-1.1 3-.1 3-1.4 3-.9 5.4-.9 4.6-1.4 3.4-.4 4-1.9 3.6-.8 3.4-1.2 3-1.5 7-2.3 6-3.4 6-2 5-2.1 3.6-2.4 2.4-1.3 9-3.6 4-2.3 1 0 4.6 1.7 1 .2 1-.2 2-1.4 3.4-3 4.6-2.2 4-2.4 2-.6 4.4-.7 3-1.7 4.6-1.6 2.4-1.4 2-.8 2.6-1.6 5-2.5 4-.7 3.4-1.8 3-1 3-2 2.6-1 3-1.7 3.4-1.4 3-.5 3-1.3 3.6-1.1 4-.1 4-.8 2.4 .3 4.6 2 3.4 .6 5 1.5 11 4.7 3 .8 3 2.7 1 .6 3 .4 7 2.2 7 .4 3.6 1.1 3 .3 4.4 1.6 6.6 1.1 1.4-.2 3-1.3 4.6-.9 3.4 .6 5-1.1 4.6 .7 5.4-.3 5.6 .9 4 .3 2.4-.1 3 1 3 .6 4 .3 1.6 .7 2 1.2 3-.2 3 2.3 4 2.4 1 .3 6.4-1.1 1-.4 2-1.3 1-.2 1.6 .5 3 2.5 4 1.1 1-.4 3-3.1 2-1.4 1.4-.6 3.6-.6 3-1.4 1.4 .1 2.6 1.3 3.4-1.3 8-.7 4-.8 1 .4 3 2.7 5 2 1-.4 2-1.5 .6-.2 1 .2 7.4 4.7 1 .3 4.6-1.8 1.4 .2 2.6 .8 2.4 .1 1-.2 2-1.1 1.6-.3 2.4 .6 2.6 .4 2.4 1.4 3-.2 2.6 .5 2.4 .1 1.6-.5 2-1.6 1.4-.3 1 .5 2.6 4.3 1 .8 3.4-1.2 3 .3 2-.5 2.6-.9 1-.1 3 1.6 3-.3 1 .3 3 2.5 3 1 3 2.8 3 .1 3.4 1 1.6-.1 1-.6 2-1.9 3.4-1.4 2 .1 4.6 1.6 3-.3 2 .9 1 .3 2-.7 3.4-2.2" stroke="#ff1a1e"/>
<path d="M192.8 1248l2 3.1 1.4 1.7 7 3 4 1 2 .2 4 0 4-1.4 3.6 .9 2 .2 1.4-1 3.6-5 6-5.8 2-1.1 5.4-.8 2.6-1.3 2.4-2.4 8.6-10.7 4-6.2 3.4-7.6 2-2.3 1.6-1.1 4-1.7 3-1.6 4.4-4.1 5-3.3 5-2.6 6.6-2 5-2.3 9.4-6 5.6-4 5-4.1 7-7.4 6-7 3-4 2.4-3.8 5-8.6 15-22.2 6-9.3 15.6-20.3 12-18.5 5.4-7.2 6-7 4-4.3 1.6-1.2 10.4-5.9 9.6-4.1 5-2.7 8.4-2.8 5.6-.4 5.4-1.3 5.6-.2 1.4-.4 2.6-1.7 3-2.7 9.4-7.8 6-5.5 5-6 2-3.3 1-2.3 2-5.7 11.6-36.6 15-42.5 5-12.8 2.4-5.4 3.6-5.8 2-2.7 3-2.6 3-1.6 4-1.2 2 .1 5 1.4 10 4.7 6.4 3.7 16 8.1 5 1.8 8 4.4 4.6 1.5 3 .7 6.4 2.5 10.6 3.2 9.4 1.7 5.6 1.5 6 1.1 4-.2 3 .2 2.4-.2 7.6 .1 11-1.6 12.4-4.4 2-1 16.6-10 7.4-5.2 6.6-5.4 6.4-6 3.6-4.1 4-7 1.4-1.5 2.6-.3 2.4-1.4 2-.5 2.6-.3 3 0 5.4 .5 1-.2 1.6-.8 3-2.4 4-3.6 6-7.7 7-6.2 6.4-4 11.6-8.2 4-3.3 5.4-3.7 8-6.5 6-4.6 5.6-3.3 11.4-5.5 6-3.6 5.6-4.2 4.4-3.9 4-2.9 4.6-3.9 8-6.1 5-1.9 3-.3 5.4-1.1 5-.4 6.6-1.4 13-4.2 7.4-2 4.6-2.3 10.4-3.9 9.6-2.3 4.4-1.4 4.6-.8 8-2.4 5.4-1.2 2.6-.1 9 1.8 3.4-.4 6.6-1.2 10.4-.8 5.6-.1 4.4 .8 9.6 .8 11 2.3 4 1.4 7.4 3.6 5 2 10 4.6 10 5.3 6.6 4.2 8 6.8 4 4.4 4 5.7 3.4 6.2 4.6 9.4 1.4 2.6 5.6 6.9 5.4 4.8 5 3.2 7.6 2.8 7 1.6 9.4 1.1 8.6 .2 7-.1 10.4-1.6 8.6-3 4-1.5 3.4-1.7 4.6-1.5 4.4-2 4-2.1 4.6-1.8 4-2.3 3-1 8-3.7 4.4-1.7 8-3.8 19-6.5 4-1.7 5.6-1.3 12-3.9 7.4-1.8 4-1.2 11.6-2.2 5-.5 4.4-1.1 9-1.3 17.6-3.5 10-1.3 10.4-.3 3.6-.5 5 .4 4 .7 3.4 .1 4.6 .5 3.4-.1 3 .3 4 1.2 5 .5 11 2.2 7 1.6 3.6 1.2 3.4 .8 5.6 1.6 5.4 1 12.6 1.1 6-.4 5 .3 3.4-.3 9 .1 7.6 .8 4 .2 11 2.7 8.4 .1 6 .8 5-.5 3.6 1.3 3 .3 2 1.3 3 2.8 1 1.3 2 3.6 4 8.7 2 3.2 2 2.3 4.4 3.5 2 2.5 1.6 3 2 5.5 2.4 8.1 1.6 6.3 1 1.9 1 .9 7.4-1.8 1.6-.7 6-5.1 6.4-4.8 3.6-3.1 1-.2 2 .1 3-1 3-.1 3-1.4 3-.9 5.4-1 4.6-1.4 3.4-.3 4-1.9 3.6-.8 3.4-1.2 3-1.5 7-2.2 6-3.5 6-2 5-2 3.6-2.4 2.4-1.4 9-3.6 4-2.2 1 0 4.6 1.8 1 .1 1-.2 2-1.3 3.4-3 4.6-2.2 4-2.4 2-.5 4.4-.7 3-1.7 4.6-1.6 2.4-1.3 2-.8 2.6-1.6 5-2.5 4-.6 3.4-1.8 3-1 3-2 2.6-.9 3-1.7 3.4-1.4 3-.5 2.6-1.1 4-1.2 4-.1 4-.7 2.4 .3 4.6 2 3.4 .7 4.6 1.4 11.4 4.9 2.6 .7 1 .5 2.4 2.4 1 .6 3 .4 7 2.3 7 .4 3.6 1.1 3 .4 4.4 1.5 6.6 1.1 1.4-.2 3-1.3 4.6-.9 3.4 .6 5-1.1 4.6 .7 5.4-.4 5.6 .8 4 .3 2.4-.1 3 1 3 .5 4 .3 1.6 .6 2 1.3 3-.3 3 2.3 4.4 2.5 1.6 .1 5.4-1.1 1-.4 2-1.3 1-.3 1.6 .5 3 2.5 4 1.1 1.4-.8 2.6-2.8 2-1.4 1.4-.6 3.6-.7 3-1.4 1.4 .1 2.6 1.3 3.4-1.4 8-.8 4-.8 1 .4 3 2.7 5 2 1-.4 2-1.6 .6-.2 1 .2 7.4 4.7 1 .3 4.6-1.8 1.4 .1 2.6 .8 2.4 .1 1-.2 2-1.2 1.6-.3 2.4 .7 2.6 .3 2.4 1.4 3-.2 2.6 .4 2.4 .1 1.6-.5 2-1.6 1.4-.3 1 .5 2.6 4.3 1 .8 3.4-1.2 3 .3 2-.5 2.6-1 1 0 3 1.5 3-.3 1 .3 3 2.5 3 1 3 2.8 3 .1 3.4 1 1.6-.2 1-.6 2-1.9 3.4-1.3 2 0 4.6 1.7 3-.4 2 1 1 .2 2-.7 3.4-2.2" stroke="#ff181a"/>
<path d="M192.8 1247.5l2 3.2 1.4 1.6 7 2.9 6 1.2 4 0 4-1.5 3.6 .9 2 .2 1.4-1 3.6-5 6-5.9 2-1.1 5.4-.8 2.6-1.3 2.4-2.5 8.6-10.7 4-6.2 3.4-7.6 2-2.3 1.6-1 4-1.8 3-1.6 4.4-4.1 5-3.3 5-2.5 6.6-2.1 5-2.3 9.4-6 5.6-4 5-4.1 7-7.5 6-6.9 3.4-4.8 7-11.4 15-22 6-9.4 15.6-20.6 12.4-19.5 5.6-7.2 9.4-10.8 1.6-1.2 10.4-6 9.6-4.2 5-2.8 8.4-2.8 5-.4 6-1.3 5.6-.3 1.4-.4 2.6-1.7 3.4-3.2 9-7.2 6-5.5 5-5.9 2-3.2 1-2.2 2-5.5 11.6-35.1 15-40.6 4.4-11 2.6-5.3 3.4-5.6 2.6-3.4 3-2.5 3-1.4 4-1.2 2 .1 5 1.4 10 4.7 6.4 3.6 16 8.1 5 1.9 8 4.3 4.6 1.5 3 .7 6.4 2.6 10.6 3.2 9.4 1.7 5.6 1.5 6 1 4-.1 3 .2 2.4-.2 7.6 .1 11-1.6 12.4-4.5 2-.9 16.6-10.2 7.4-5.3 6.6-5.5 6.4-6.1 3.6-4 4-7.1 1.4-1.5 2.6-.4 2.4-1.3 2-.5 2.6-.3 3 0 5.4 .5 1-.2 1.6-.8 3-2.3 4-3.7 6-7.6 7-6.2 6.4-4 11.6-8.2 4-3.3 5.4-3.7 8-6.6 6-4.6 5.6-3.3 11.4-5.5 5.6-3.2 6-4.7 4.4-3.9 4-2.9 4-3.6 6-4.8 2.6-1.7 5-2 3-.5 5.4-1.2 5-.5 6.6-1.5 13-4.4 7.4-2 4.6-2.4 10.4-3.9 9.6-2.2 4.4-1.5 4.6-.8 8-2.4 5.4-1.1 2.6-.2 9 1.9 3.4-.4 6.6-1.2 10.4-.9 5.6-.1 4.4 .7 9.6 .7 11 2.2 4 1.3 7.4 3.4 5 1.9 10 4.3 10 5.1 6.6 3.9 8 6.5 4 4.1 4 5.5 3.4 5.8 4.6 8.9 1.4 2.5 5.6 6.4 5.4 4.4 5 3 7.6 2.5 7 1.5 9 1 8.4 .2 7.6-.1 10.4-1.6 8-2.7 4.6-1.6 3.4-1.6 4.6-1.5 4.4-1.8 4-2.1 4.6-1.7 4-2.2 3-.9 8-3.6 4.4-1.5 8-3.7 19-6.2 3.6-1.4 6-1.4 8-2.6 4.4-1.3 7-1.5 4.6-1.3 7-1.3 5-.8 4-.2 4-1.1 9.4-1.2 17.6-3.5 9.4-1.2 11-.3 4-.5 4.6 .4 3.4 .5 4 .1 4 .5 5 0 3 .4 3 1 5 .5 11 2 7 1.6 3.6 1.1 3 .6 7 1.9 4.4 .7 4.6 .2 4 .6 4.4 .2 5.6-.4 5 .3 3.4-.3 8.6 0 12 1.1 11.4 2.6 7.6-.1 6.4 .6 4-.7 1.6 .1 3 1 2.4 .1 1 .2 1 .6 3.6 3 2.4 3.8 4 8.6 2 3.4 2 2.3 4.6 3.4 2.4 2.8 1.6 2.9 2 5.3 2.4 8 1.6 6.1 1 1.9 1 .9 7.4-1.8 1.6-.6 6-5.2 6.4-4.8 3.6-3.1 1-.3 2 .2 3-1.1 3-.1 3-1.4 3-.9 5.4-.9 4.6-1.4 3.4-.3 4-2 3-.6 3.6-1.1 3.4-1.7 7-2.2 6-3.4 6-2 5-2.1 3.6-2.4 2.4-1.3 9-3.6 4-2.2 1 0 4.6 1.8 1 .2 1-.2 2-1.3 3.4-3 4.6-2.2 4-2.3 2-.6 4.4-.6 3-1.6 4.6-1.6 2.4-1.4 2-.7 2.6-1.6 5-2.4 4.4-.8 3-1.6 3-1 3-2 2.6-.9 2.4-1.4 3.6-1.4 4-.8 2-.9 4-1.3 4 0 4-.7 2.4 .3 4.6 2.1 3.4 .7 4.6 1.4 11.4 5.1 2.6 .7 1 .5 2.4 2.4 1 .6 3 .4 7 2.4 7 .4 3.6 1.1 3 .4 4.4 1.6 6.6 1.1 1.4-.2 3-1.4 4.6-.8 3.4 .6 5-1.2 4.6 .6 5.4-.3 5.6 .7 4 .3 2.4-.2 3 1 3 .5 4 .3 1.6 .6 2 1.2 .4 .1 2.6-.4 3 2.3 4.4 2.5 1.6 0 5.4-1.1 1-.4 2-1.4 1-.3 1.6 .5 3 2.5 4 1 1.4-.8 2.6-2.8 2-1.4 1.4-.6 3.6-.8 3-1.4 1.4 0 2.6 1.3 3.4-1.4 8-.9 4-.8 1 .4 3 2.6 5 2 1-.4 2-1.6 .6-.2 1 .2 7.4 4.7 1 .3 4.6-1.9 1.4 .1 2.6 .8 2.4 .1 1-.2 2-1.2 1.6-.3 2.4 .6 2.6 .3 2.4 1.4 3-.2 5 .5 1.6-.5 2-1.7 1.4-.3 1 .5 2.6 4.4 1 .8 3.4-1.4 3 .3 2-.5 2.6-.9 1-.1 3 1.5 3-.3 1 .3 3 2.5 3 1 3 2.8 3 .1 3.4 1 1.6-.2 3-2.5 3.4-1.4 2 .1 4.6 1.6 3-.3 2 .9 1 .2 2-.6 3.4-2.3" stroke="#ff181a"/>
<path d="M192.8 1247.1l2 3.1 1.4 1.6 7 2.9 4.6 1 2 .2 4-.2 2.4-1.1 1-.3 3.6 .8 2 .2 1.4-1 3.6-5 6-6 2-1.1 5.4-.8 2.6-1.3 2.4-2.5 8.6-10.7 4-6.2 3.4-7.6 2-2.3 2-1.3 3.6-1.5 3-1.6 4.4-4.1 5-3.3 5-2.5 6.6-2.1 5-2.3 9.4-6 5.6-4.1 5-4.1 7-7.5 6-6.9 4-5.4 6-9.9 15.4-22.5 6.6-10.1 15.4-20.9 12-19.1 5.6-7.3 5.4-6.5 4.6-4.9 1.4-1 10.6-6.1 9-4 5-2.8 8.4-2.9 5-.4 6-1.4 5.6-.2 1.4-.5 2-1.3 4-3.5 9-7.2 6-5.5 5-5.8 2-3.2 1-2.1 13.6-38.8 15-38.8 4.4-10.5 2.6-5.1 3.4-5.3 2.6-3.2 3-2.4 3.4-1.5 2.6-.8 1.4-.2 1.6 .1 5.4 1.6 9.6 4.5 6.4 3.6 16 8.1 5 1.9 8 4.3 4.6 1.5 3 .7 6.4 2.6 10.6 3.2 9.4 1.7 5.6 1.6 6 1 4-.2 3 .3 2.4-.3 7.6 .2 11-1.7 12.4-4.5 2-.9 16.6-10.3 7-5.1 7-5.9 6.4-6.1 3.6-4.1 4-7.2 1.4-1.5 2.6-.4 2.4-1.3 2-.5 2.6-.2 3 .1 5.4 .5 1-.2 1.6-.8 7-6 6-7.7 7-6.2 6.4-4 11.6-8.1 4-3.3 5.4-3.7 14-11.2 6-3.7 11-5.2 5.6-3.2 6-4.7 4.4-3.9 4-3 10-8.5 2.6-1.8 5-2.1 3-.5 5.4-1.4 5-.6 6.6-1.6 13-4.4 7.4-2.2 4.6-2.3 10.4-4 9.6-2.3 4.4-1.4 4.6-.8 8-2.4 5.4-1.1 2.6-.2 9 2 3.4-.4 6.6-1.3 10.4-.9 5.6-.1 4.4 .7 9.6 .6 11 2 4 1.2 7.4 3.2 5 1.8 9.6 3.9 6 2.7 5 2.5 5.4 3.2 8.6 6.4 4 4 4 5.1 3.4 5.6 4.6 8.4 1.4 2.3 5.6 5.9 5.4 4.1 5 2.8 7.6 2.2 7 1.4 9 .9 16 .1 10.4-1.5 11.6-3.8 5-2.1 4-1.2 4.4-1.8 4-2 4.6-1.6 4-2.1 3-.8 8-3.4 4.4-1.5 8-3.5 19-5.9 3.6-1.3 6-1.4 12-3.5 7.4-1.6 4.6-1.2 7-1.3 5-.7 4-.2 4-1 9.4-1.2 17.6-3.4 9.4-1.1 10.6-.3 4.4-.6 4.6 .4 3.4 .6 4 0 4 .5 5-.1 3 .4 3 1 5 .4 11 1.9 7 1.5 3.6 1.1 3 .5 7 1.8 4.4 .7 4.6 .2 4 .6 4.4 .2 5.6-.4 5 .2 3.4-.2 9 0 7.6 .8 4 .2 11.4 2.4 7.6-.2 6.4 .4 4-.8 1.6 0 3 .9 2.4 0 1 .2 1.6 .9 3 2.4 2.4 3.7 4 8.4 2 3.3 2 2.3 4.6 3.1 2.4 2.6 1.6 2.9 2 5.2 2.4 7.7 1.6 6 1 2 1 .9 7.4-1.8 1.6-.7 6-5.2 6.4-4.9 3.6-3.1 1-.2 2 .1 3-1 3-.1 3-1.4 3-.9 5.4-1 4.6-1.3 3.4-.4 4-1.9 3.6-.7 3.4-1.2 3-1.5 7-2.2 6-3.4 6-2 5-2 3.6-2.4 2.4-1.3 9-3.6 4-2.2 1 .1 4.6 1.8 1 .2 1-.2 2-1.3 3.4-3 4.6-2.2 4-2.3 2-.5 4.4-.7 3-1.6 4.6-1.5 2.4-1.3 2-.8 2.6-1.5 5-2.4 4-.6 3.4-1.7 3-1 3-2 2.6-.9 3-1.6 3.4-1.3 3-.5 3-1.2 4-1.2 3.6 .1 4-.7 2 .2 5 2.3 3.4 .8 4.6 1.4 11.4 5.2 2.6 .7 1 .6 2.4 2.4 1 .6 3 .4 7 2.4 7 .5 3.6 1.1 3 .4 4.4 1.6 6.6 1.1 1.4-.2 3-1.4 4.6-.8 3.4 .5 5-1.2 4.6 .7 5.4-.5 5.6 .8 4 .2 2.4-.2 3 .9 3 .6 4 .2 1.6 .6 2 1.2 .4 .1 2.6-.5 3 2.3 4.4 2.5 1.6 0 5.4-1.2 1-.4 2-1.4 1-.3 1.6 .5 3 2.5 4 1 1.4-.9 2.6-2.8 2-1.5 1.4-.6 3.6-.8 3-1.4 1.4 0 2.6 1.2 3.4-1.4 8-1 4-.9 1 .5 3 2.6 5 1.9 1-.4 2-1.6 .6-.1 1 .1 7.4 4.6 1 .3 4.6-1.9 1.4 .1 2.6 .8 2.4 .1 1-.3 2-1.2 1.6-.3 2.4 .6 2.6 .3 2.4 1.4 3-.3 5 .5 1.6-.5 2-1.6 1.4-.3 1 .5 2.6 4.3 1 .8 3.4-1.4 3 .3 2-.5 2.6-1 1 0 3 1.5 3-.4 1 .4 3 2.4 3 1.1 3 2.7 3 .1 3.4 1 1.6-.2 3-2.5 3.4-1.4 2 .1 4.6 1.6 3-.4 2 1 1 .2 2-.7 3.4-2.2" stroke="#ff181a"/>
<path d="M192.8 1246.7l2 3.1 1.4 1.6 7 2.9 4.6 .9 2 .2 4-.2 2.4-1.2 1-.2 3.6 .7 2 .2 1-.5 1-1.1 3.4-5 6-5.8 2-.9 5-.7 1.6-.7 1.4-1 2-2.1 6.6-8 2.4-3.5 3.6-5.4 3.4-7.6 2-2.3 2-1.3 6.6-3.2 4.4-4.1 4.6-2.9 5.4-2.9 6.6-2 5-2.3 9.4-6.1 5.6-4.1 5-4.1 7-7.5 6-6.9 4.4-6.1 5.6-9 15-21.6 7-10.9 15-20.5 10-16.3 3-4.5 5.4-7.2 5-6 4.6-4.9 1.4-1.1 10.6-6.2 9.4-4.3 4.6-2.5 8.4-3 4.6-.4 6.4-1.4 5.6-.3 1.4-.5 2-1.3 4-3.5 9.6-7.6 5.4-4.9 5-5.8 2-3.1 1-2 13.6-37.3 14.4-35.9 4.6-10.2 2.4-5 2.6-3.9 3.4-4.5 3-2.5 3.6-1.6 4-1 2 .1 5 1.3 10 4.7 6.4 3.6 16 8 5 1.9 8 4.3 4.6 1.6 3 .7 6.4 2.6 10.6 3.2 10 1.9 5 1.4 6 1 4-.2 3 .3 2.4-.3 7.6 .2 11-1.7 12.4-4.5 2-.9 9-5.5 7.6-4.9 7-5.2 7-6.1 6.4-6.1 3.6-4.1 4-7.2 1.4-1.5 2.6-.5 2.4-1.2 2-.5 2.6-.2 3 .1 5.4 .6 1-.2 1.6-.8 7-6.1 6-7.7 6.4-5.7 7-4.4 11.6-8.1 4-3.3 5.4-3.7 14-11.3 6-3.6 11-5.3 5.6-3.2 6-4.7 4.4-4 4-3 10-8.5 2.6-1.9 5-2.1 3-.6 5.4-1.6 5-.7 6.6-1.7 13-4.6 7-1.9 1.4-.6 3.6-2 10.4-4 9.6-2.3 4.4-1.4 4.6-.8 8-2.4 5.4-1.1 2.6-.2 9 2 3.4-.4 6.6-1.3 10.4-.9 6-.1 4 .6 9.6 .6 11 1.8 4 1.2 7.4 3 5 1.6 9.6 3.7 6 2.6 10.4 5.4 8.6 6.1 4 3.7 4 4.9 3 4.4 5 8.8 1.4 2.1 5.6 5.6 5.4 3.7 5 2.6 7.6 2 7 1.3 9 .8 16 .1 10.4-1.5 11.6-3.7 5-2 4-1.1 4.4-1.7 3.6-1.7 5-1.8 4-2 3-.8 8-3.2 4.4-1.4 8-3.3 18.6-5.4 4-1.5 6-1.3 12-3.3 7.4-1.6 4.6-1.1 7-1.2 5-.6 4-.2 4.4-1.1 5.6-.5 10-1.6 11-2.2 9.4-1.2 10.6-.3 4.4-.5 4.6 .3 3.4 .6 4 0 4 .5 5-.2 3 .5 3 .9 5 .4 11 1.8 4 .9 3 .5 3.6 1.1 3.4 .6 6 1.5 5 .7 4.6 .1 4 .6 4.4 .2 5.6-.4 5 .2 3.4-.2 9 0 7.6 .8 4 .1 11.4 2.3 7.6-.4 6.4 .3 5-1 3.6 .8 3-.1 2 .9 3 2.3 1 1.2 2 3.4 4 8.2 2 2.9 2 1.9 4.4 2.9 1.6 1.5 1 1.4 1.4 3.2 2 5.3 2 6.2 1.6 5.8 1 2 1 .9 7.4-1.8 1.6-.7 6-5.2 6.4-4.9 3.6-3.1 1-.2 2 .1 3-1.1 3-.1 3-1.4 3-.9 5.4-.9 4.6-1.4 3.4-.3 4-1.9 3.6-.7 3.4-1.2 3-1.5 7-2.2 6-3.4 6-1.9 5-2.1 3.6-2.4 2.4-1.3 9-3.5 4-2.2 1 .1 4.6 1.8 1 .2 1-.2 2-1.3 3.4-3 4.6-2.1 4-2.3 2.4-.6 3-.2 1-.3 3-1.6 4.6-1.5 2.4-1.3 2-.7 2.6-1.6 5-2.4 4-.5 3.4-1.7 3-1 3-1.9 2.6-.9 3-1.6 3.4-1.3 3-.5 3-1.2 4-1.1 3.6 .1 4-.7 2 .3 5 2.3 3.4 .8 4.6 1.5 11.4 5.3 2.6 .7 1 .5 2.4 2.5 1 .6 3 .5 7 2.4 7 .5 3.6 1.1 3 .4 4.4 1.6 6.6 1.1 1.4-.2 3-1.3 4.6-.9 3.4 .5 5-1.2 4.6 .6 5.4-.5 5.6 .7 4 .2 2.4-.2 3 .9 3 .5 4 .2 1.6 .6 2 1.2 .4 .1 2.6-.5 3 2.3 4.4 2.4 1.6 .1 5.4-1.3 1-.4 2-1.5 1-.3 1.6 .5 3 2.5 4 1 1.4-.9 2.6-2.8 2-1.6 1.4-.6 3.6-.8 3-1.5 1.4 0 2.6 1.2 3.4-1.5 8-1 4-.9 1 .4 3 2.6 5 2 1-.4 2-1.7 .6-.2 1 .2 7.4 4.6 1 .3 4.6-2 1 0 3 .9 2.4 .1 1-.3 2-1.2 1.6-.3 2.4 .5 2.6 .3 2.4 1.4 3-.3 5 .5 1.6-.5 2-1.7 1.4-.3 1 .5 2.6 4.3 1 .8 3.4-1.4 3 .3 2-.5 2.6-1 1-.1 3 1.5 3-.3 1 .3 3 2.4 3 1.1 3 2.8 3 .1 3.4 .9 1.6-.2 3-2.5 3.4-1.4 2 0 4.6 1.7 3-.4 2 .9 1 .2 2-.6 3.4-2.3" stroke="#ff241c"/>
<path d="M192.8 1246.3l2 3.1 1.4 1.6 6.6 2.7 5 1.1 2 .1 4-.2 3.4-1.5 3.6 .8 2 .1 1.4-1 4-5.6 6-5.9 2-.8 5-.8 1.6-.6 1.4-1.1 2-2.1 8.6-10.8 4-6.1 3.4-7.6 2-2.3 2-1.3 6.6-3.2 4.4-4.1 4.6-2.9 5.4-2.9 6-1.8 5-2.3 10-6.3 5.6-4.1 5-4.2 7.4-8 5.6-6.3 3.4-4.7 6.6-10.3 15-21.4 7.4-11.6 14.6-20.1 10-16.5 3-4.6 5.4-7.3 5-6 4.6-4.9 1.4-1.1 10.6-6.3 9.4-4.4 4.6-2.6 8.4-3 5.6-.5 6-1.4 5-.2 1.4-.5 2-1.3 4-3.6 9.6-7.5 5.4-4.9 5-5.7 2-3 1-2 13.6-35.8 14.4-34.4 4.6-9.7 2.4-4.8 2.6-3.6 3.4-4.3 3-2.4 3.6-1.5 4-1 2 .1 5.4 1.5 9.6 4.5 6.4 3.6 16 8 5.6 2.1 7.4 4.1 4.6 1.5 3 .8 6.4 2.5 10.6 3.3 9.4 1.8 5 1.4 6 1.1 4.6-.2 3 .3 2.4-.2 7.6 .1 11-1.7 12.4-4.5 2-1 9-5.5 7.6-5 7-5.2 7-6.2 6.4-6.1 3.6-4.2 4-7.2 1.4-1.5 2.6-.6 2.4-1.2 2-.4 2.6-.2 3 .2 5 .6 1.4-.2 1.6-.8 7-6.1 6-7.7 6.4-5.8 7-4.3 11.6-8.1 4-3.3 5.4-3.7 14-11.3 6-3.7 11-5.3 5.6-3.2 6-4.7 4-3.6 4-3 4.4-4.1 8.6-6.8 5-2.3 3-.6 5.4-1.8 5-.8 6.6-1.8 13-4.6 7-2 1.4-.6 3.6-2 10.4-4 9.6-2.3 4.4-1.5 4.6-.8 8-2.3 5.4-1.2 2.6-.1 9 2 3.4-.4 6.6-1.3 10.4-.9 6-.2 4 .6 9.6 .5 11 1.7 4 1.1 7.4 2.8 5 1.6 9.6 3.4 6 2.5 10.4 5.1 8.6 5.8 4 3.6 4 4.6 3 4.2 5 8.2 1.4 2 5.6 5.2 5.4 3.5 5 2.3 7.6 1.8 7 1.2 9 .7 16 0 10.4-1.3 12-3.8 4.6-1.7 4-1.1 4.4-1.6 3.6-1.7 5-1.6 4-2 3-.7 8-3.1 4.4-1.3 8-3.2 18.6-5.1 4-1.4 6-1.2 12-3.2 13-2.8 10.4-1.5 4.6-.1 4-1 6-.5 10-1.6 11-2.2 9.4-1.1 10.6-.3 4.4-.6 4.6 .4 3.4 .5 4 0 4 .5 5-.2 3 .4 3 .9 5 .4 11 1.7 4 .9 3 .4 3.6 1 3.4 .6 6 1.4 5 .7 4.6 .1 4.4 .6 4 .1 5.6-.4 5 .3 3.4-.3 9 0 7.6 .8 4 .1 6 1.3 5.4 .9 4-.1 3.6-.4 6.4 .1 5-1.1 3.6 .6 3-.2 2 .8 3 2.1 1 1.2 2 3.3 4 8 2 2.8 2 1.9 4.4 2.7 1.6 1.4 1 1.4 1.4 3 2 5.3 2 6 1.6 5.7 1 2 1 .9 7.4-1.8 1.6-.7 6-5.2 6.4-4.9 3.6-3.2 1-.2 2 .1 3-1 3-.1 3-1.4 2.4-.8 6-1.1 4.6-1.3 3.4-.4 4-1.9 3-.5 3.6-1.2 3.4-1.6 7-2.2 6-3.4 6-1.9 5-2.1 3.6-2.3 2.4-1.3 9-3.5 4-2.2 1 0 4.6 1.9 1 .2 1-.2 2-1.2 3.4-3 4.6-2.2 4-2.2 2.4-.6 3-.2 1-.3 3-1.6 4.6-1.4 2.4-1.3 2-.8 2.6-1.5 5-2.3 4-.6 3.4-1.7 3-.9 3-1.9 2.6-.9 3-1.6 3.4-1.3 3-.4 3-1.2 4-1.1 3.6 .1 4-.6 2 .2 5 2.4 3.4 .8 4.6 1.6 11.4 5.3 2.6 .8 1 .5 2.4 2.5 1 .6 3 .5 7 2.4 7 .6 3.6 1.1 3 .4 4.4 1.7 6.6 1.1 1.4-.2 3-1.4 4.6-.9 3.4 .6 5-1.3 4.6 .6 5.4-.5 5.6 .7 4 .1 2.4-.2 3 .9 3 .4 4 .2 1.6 .6 2 1.2 .4 .1 2.6-.5 3 2.2 4.4 2.4 1.6 0 5.4-1.3 1-.4 2-1.5 1-.3 1.6 .5 3 2.5 4 .9 1.4-.9 2.6-2.9 2-1.5 1.4-.7 3.6-.8 3-1.5 1.4 0 2.6 1.2 3.4-1.6 8.6-1.1 3.4-.9 1 .4 3 2.7 5 1.8 1-.4 2-1.6 .6-.2 1 .2 7.4 4.5 1 .3 4.6-2 1 0 3 .8 2.4 .1 1-.2 2-1.3 1.6-.3 2.4 .5 2.6 .3 2.4 1.4 3-.3 5 .4 1.6-.5 2-1.7 1.4-.3 1 .5 2.6 4.3 1 .8 3.4-1.4 3 .3 2-.6 2.6-1 1-.1 3 1.5 3-.3 1 .3 3 2.4 3 1.1 3 2.8 3 .1 3.4 .9 1.6-.2 3-2.6 3.4-1.3 2 0 4.6 1.7 3-.4 2 .9 1 .2 2-.7 3.4-2.3" stroke="#ff3420"/>
<path d="M192.8 1246l2 3.1 1.4 1.6 7 2.7 4.6 .9 2.4 .2 3.6-.2 3.4-1.6 4 .8 2-.1 1.6-1.4 3.4-5.1 5.6-5.5 2-1.1 4-.6 2.4-.7 1.6-.9 1.4-1.4 7.6-9.2 3-4.2 3-4.7 3.4-7.6 2-2.2 2-1.3 6.6-3.2 4.4-4.1 5-3.3 5-2.5 6.6-2 5.4-2.6 9.6-6.2 5.4-4.2 5.6-4.7 11.4-12.8 3.6-4.6 7-10.8 15.4-22 7-10.9 14.6-20.4 12.4-20.6 5-6.8 10-11.8 2-1.6 10.6-6.4 9.4-4.4 4.6-2.6 8.4-3.1 5-.5 6.6-1.5 5-.2 1.4-.5 2-1.3 4-3.6 11-8.7 4-3.6 4-4.3 3-4.3 2-4.1 12.6-32.2 6.4-15.1 10-22.2 4-7.8 2-3.2 4.6-5.5 1.4-1.4 2-1.4 3.6-1.5 4-.9 2 .1 5.4 1.5 9.6 4.4 6.4 3.7 16 7.9 5.6 2.2 7.4 4 4.6 1.6 3 .7 6.4 2.6 10.6 3.3 9.4 1.8 5 1.4 6 1.1 4.6-.2 3 .3 2.4-.2 7.6 .1 11-1.7 12.4-4.6 2-.9 9-5.5 7.6-5.1 6.4-4.9 7.6-6.6 6.4-6.3 3.6-4.1 4-7.3 1.4-1.5 2.6-.6 2.4-1.2 1.6-.3 3.4-.2 7.6 .8 1.4-.2 1.6-.8 7-6.2 6-7.7 6.4-5.7 7-4.3 11.6-8.1 4-3.3 5.4-3.7 14-11.3 6-3.7 11-5.3 5.6-3.3 6-4.7 4-3.6 4-3 4.4-4.1 8.6-6.9 5-2.4 3-.7 5.4-1.8 5-.9 6.6-2 13-4.6 7.4-2.3 4.6-2.4 10.4-4.1 9.6-2.3 4.4-1.4 4.6-.8 8-2.4 5.4-1.1 2.6-.1 9 2 3.4-.4 6.6-1.3 10.4-.9 6-.2 4 .6 9.6 .3 10.4 1.5 4 1 27.6 9.4 6 2.6 5 2.4 3 1.8 6.4 4.3 3 2.6 2.6 2.5 4.4 5.6 5.6 8.5 1.4 1.9 5.6 4.8 5.4 3.2 5 2.1 7.6 1.6 3 .3 4 .8 9.4 .7 15.6 0 10.4-1.4 12-3.6 4.6-1.7 4-1 4.4-1.5 3.6-1.6 5-1.6 4-1.9 3-.7 8-3 4.4-1.1 8-3.1 18.6-4.9 4-1.3 6-1.1 12-3.1 7.4-1.4 5-1.1 10.6-1.4 5-.2 4-1 6-.5 10-1.5 11-2.1 9.4-1.1 10.6-.3 4.4-.6 4.6 .3 3.4 .6 4 0 4 .4 5-.2 3 .4 3 .9 5 .3 11 1.6 4 .9 3 .3 3.6 1 3.4 .6 6 1.3 5 .6 5 .2 4 .5 4 .1 5.6-.4 5 .3 3.4-.3 9 0 7.6 .7 4 .2 6 1.2 5.4 .8 4-.2 3.6-.4 6.4 0 5-1.3 3.6 .5 3-.4 1 .2 1.4 .9 2.6 1.6 1 1.2 2 3.2 4 7.9 2 2.7 2 1.8 4.4 2.5 1.6 1.4 1 1.3 1.4 2.9 2 5.2 2 5.8 1.6 5.7 1 2 1 .9 7.4-1.8 1.6-.7 6-5.3 6.4-4.9 3.6-3.2 1-.2 2 .1 3-1 3-.1 3-1.4 2.4-.8 6-1 4.6-1.4 3.4-.3 3.6-1.8 4-.8 3-1 3.4-1.7 7-2.1 6-3.4 6-2 5-2 3.6-2.3 2.4-1.4 9-3.4 4-2.2 1 .1 4.6 1.9 1 .2 1-.2 2-1.2 3.4-3 4.6-2.1 4-2.3 2.4-.6 3-.2 1-.2 3-1.6 4.6-1.4 2.4-1.3 2-.7 2.6-1.6 5-2.3 4-.5 3.4-1.7 3-.9 3-1.9 2.6-.9 3-1.5 3.4-1.3 3-.4 3-1.2 4-1.1 3.6 .1 4-.5 2 .2 5 2.4 3.4 .9 4.6 1.6 11.4 5.5 2.6 .7 1 .6 2.4 2.5 1 .6 3 .5 7 2.4 7 .6 3.6 1.2 3 .4 4.4 1.7 6.6 1.1 1.4-.2 3-1.4 4.6-.9 3.4 .5 5-1.3 4.6 .6 5.4-.6 5.6 .7 4 .1 2.4-.3 3 .9 3 .5 4 .1 1.6 .6 2 1.2 .4 0 2.6-.5 3 2.2 4.4 2.4 1.6 .1 5.4-1.4 1-.4 2-1.5 1-.3 1.6 .4 3 2.5 3 .8 1 .1 1.4-.9 2.6-2.9 2-1.6 1.4-.7 3.6-.8 3-1.6 1.4 0 2.6 1.2 3.4-1.6 8.6-1.2 3.4-.9 1 .4 3 2.6 5 1.9 1-.4 2-1.7 .6-.2 1 .2 7.4 4.5 1 .3 4.6-2 1 0 3 .8 2.4 0 1-.2 2.6-1.5 1-.1 2.4 .5 2.6 .2 2.4 1.4 3-.3 5 .4 1.6-.5 2-1.7 1.4-.3 1 .5 2.6 4.3 1 .8 3.4-1.4 3 .2 2-.5 2.6-1 1-.1 3 1.5 3-.4 1 .3 3 2.4 3 1.1 3 2.8 3 .1 3.4 .9 1.6-.2 3-2.6 3.4-1.4 2 .1 4.6 1.6 3-.4 2 1 1 .1 2-.7 3.4-2.3" stroke="#ff4626"/>
<path d="M192.8 1245.7l2 3 1.4 1.6 6.6 2.7 5 .9 2.4 .2 3.6-.3 3.4-1.5 4 .7 2-.1 1.6-1.4 3.4-5.1 5.6-5.5 2-1.2 4-.6 2.4-.7 1.6-.9 1.4-1.3 7.6-9.3 3-4.2 3-4.7 3.4-7.6 2-2.2 2-1.3 6.6-3.2 4.4-4.1 5-3.3 5-2.5 6.6-2 5.4-2.6 9.6-6.2 5.4-4.2 5.6-4.7 11.4-12.9 4-5.2 6.6-10 11.4-16.1 4.6-6.5 6.4-10.2 14.6-20.6 12.4-20.8 5-6.9 10-11.9 2-1.6 10.6-6.5 9.4-4.5 4.6-2.6 8.4-3.1 5-.5 6.6-1.5 5-.2 1.4-.5 2-1.4 4-3.5 11.6-9.2 4-3.6 4-4.4 2.4-3.5 2-4.1 12.6-30.9 6.4-14.6 9.6-20.2 4-7.5 2.4-4 4.6-5.3 3-2.3 3.4-1.5 4.6-1.1 2 .1 5.4 1.5 9.6 4.4 6.4 3.6 16 8 6.6 2.6 6.4 3.6 4.6 1.5 3 .8 6.4 2.6 10.6 3.3 9.4 1.8 5 1.4 6 1.1 4.6-.2 3 .3 2.4-.2 7.6 .1 11-1.7 12.4-4.6 2-.9 9-5.6 7.6-5.1 6.4-5 3.6-3 10.4-10 3.6-4.1 4-7.3 1.4-1.6 2.6-.6 2.4-1.1 1.6-.4 3.4-.1 7.6 .8 1.4-.2 1.6-.8 7-6.1 6-7.7 6.4-5.7 7-4.3 11.6-8.1 4-3.3 5.4-3.7 14-11.4 6-3.7 11-5.3 5.6-3.2 6-4.8 4-3.6 4-3.1 4.4-4.1 8.6-7 5-2.4 3-.8 5.4-2 4.6-.8 7-2.1 13-4.8 7.4-2.3 4.6-2.5 10.4-4.1 9.6-2.2 4.4-1.5 4.6-.8 8-2.3 5.4-1.1 2.6-.1 9 2 3.4-.4 6.6-1.3 10.4-1 6-.2 4 .6 9.6 .3 10.4 1.3 4 .9 27.6 8.9 6 2.4 7.4 3.8 7 4.4 5.6 4.8 4.4 5.3 5.6 8.1 1.4 1.7 5.6 4.4 5.4 2.9 5 2 7.6 1.5 3 .2 4 .7 9.4 .6 15.6 0 10.4-1.3 12-3.5 4.6-1.6 4-.9 4.4-1.5 3.6-1.6 5-1.5 4-1.8 3-.7 8-2.8 4.4-1.1 8-2.9 18.6-4.7 4-1.3 6-1 12-2.9 7.4-1.3 5-1.1 10.6-1.4 5-.1 4.4-1 9-.8 13-2.2 4.6-1 9.4-1 10.6-.3 4.4-.6 4.6 .3 3.4 .5 4 0 4 .4 5-.2 3 .3 3 .9 5 .3 11 1.5 4 .9 3 .3 3.6 1 3.4 .4 5.6 1.3 5.4 .6 4 .1 4.6 .5 4 .2 6-.5 5 .3 3.4-.3 9 0 7.6 .7 4 .2 6 1.2 5 .7 4.4-.3 4-.5 5.6-.1 5.4-1.4 3.6 .3 2.4-.5 1 .1 1.6 .6 2.4 1.5 1.6 1.4 2 3.2 4 7.8 2 2.6 2 1.7 4.4 2.3 1.6 1.4 1 1.2 1.4 2.9 2 5 2 5.8 1.6 5.5 1 2 1 .9 7.4-1.8 1.6-.7 6-5.3 6.4-4.9 3.6-3.2 1-.2 2 .1 3-1 3-.1 3-1.5 2.4-.7 6-1.1 4.6-1.3 3.4-.4 3.6-1.7 4-.9 3-.9 3.4-1.7 7-2.1 6-3.4 6-1.9 5-2 3.6-2.4 2.4-1.3 9-3.4 4-2.2 1 0 4.6 2 1 .2 1-.2 2-1.2 3.4-3 4.6-2.1 4-2.2 2.4-.6 3-.2 1-.2 3-1.6 4.6-1.4 2.4-1.3 2-.7 2.6-1.5 5-2.3 4-.4 3.4-1.7 3-.9 3-1.9 2.6-.9 3-1.5 3.4-1.3 3-.4 3-1.2 4-1 3.6 .1 4-.5 2 .2 5 2.5 3.4 .9 4.6 1.6 11.4 5.6 2.6 .7 1 .6 2.4 2.5 1 .7 3 .5 7 2.5 7 .6 3.6 1.1 3 .4 4.4 1.7 6.6 1.2 1.4-.3 3-1.3 4.6-.9 3.4 .5 5-1.3 4.6 .5 5.4-.6 5.6 .6 4 .1 2.4-.3 3 .9 3 .5 4 0 1.6 .6 2 1.2 .4 .1 2.6-.6 3 2.2 4 2.2 1 .3 1.4-.2 5.6-1.5 2.4-1.8 1-.3 1.6 .5 3 2.4 3 .8 1 .1 1.4-.9 2.6-3 2-1.6 1.4-.6 3.6-.9 3-1.6 1.4-.1 2.6 1.2 3.4-1.6 8.6-1.3 3.4-.9 1 .4 3 2.7 5 1.8 1-.4 2-1.7 .6-.2 1 .1 7.4 4.6 1 .2 4.6-2 1 0 3 .7 2.4 .1 1-.3 2.6-1.4 1-.2 2.4 .5 2.6 .2 2.4 1.5 3-.4 5 .4 1.6-.5 2-1.7 1.4-.4 1 .5 2.6 4.4 1 .7 3.4-1.4 3 .2 2-.5 2.6-1.1 1 0 3 1.4 3-.3 1 .3 3 2.4 3 1.1 3 2.7 3 .1 3.4 .9 1.6-.2 3-2.6 3.4-1.4 2 .1 4.6 1.6 3-.4 2 1 1 .2 2-.8 3.4-2.3" stroke="#ff582c"/>
<path d="M192.8 1244.6l2 3 1.4 1.6 6.6 2.5 5.4 .9 2.6 .1 3-.3 3.4-1.6 4.6 .6 1.4-.2 1.6-1.4 3.4-5.1 5.6-5.7 2-1.2 4.4-.7 2-.7 2-1.3 1.6-1.5 7-8.7 3-4.2 3-4.8 3.4-7.5 2-2.2 2-1.3 6.6-3.3 4.4-4.1 5-3.2 5-2.5 6.6-2 5.4-2.6 9.6-6.3 5.4-4.2 5-4.3 13.6-15.2 4-5.4 5-7.6 11.4-15.5 4.6-6.5 6.4-10.3 14.6-21.4 9.4-16.7 3.6-5.6 5-7 5.4-6.9 4.6-5.2 1.4-1.2 10.6-6.7 9.4-4.7 4-2.4 9-3.5 4-.5 7.6-1.7 5-.3 1.4-.5 2-1.4 4-3.5 13-10.2 3-2.8 3.6-3.7 2.4-3.3 1.6-2.6 13-27.8 6.4-12.6 9-16.3 4-6.4 2.6-3.5 4.4-4.4 2.6-1.8 3-1.4 6-1.2 2 .1 5.4 1.4 9.6 4.4 6.4 3.6 16 7.9 6.6 2.6 6.4 3.5 4.6 1.6 3 .7 6.4 2.7 10.6 3.4 10 2 5 1.4 5.4 .9 4.6-.1 3 .3 2.4-.3 7.6 .1 11-1.6 14-5.3 9.4-6 8-5.7 8-6.6 11.6-11.1 4-4.8 4-7.3 1.4-1.7 2.6-.7 2.4-1.1 1.6-.3 3.4 .1 7.6 1 1.4-.2 1.6-.8 7-6.3 4.4-6 2-2.2 6-5.1 7-4.2 11.6-8 4-3.4 5.4-3.7 14-11.4 6-3.7 11-5.4 5.6-3.3 6-4.8 4-3.7 4.4-3.6 10.6-9.4 2.4-1.9 4.6-2.3 3-1.1 5.4-2.3 5-1.4 3.6-1.3 3-.9 13-5.1 7.4-2.4 4.6-2.5 10-4.1 10-2.4 4-1.4 5-.8 8-2.3 6.4-1.2 2.6 .1 6.4 1.8 1.6 .2 3.4-.4 6-1.2 11-1.2 5.6-.3 4.4 .5 9.6 0 10.4 1 3 .5 9 2.3 5 1 14.6 3.8 6 2 7 2.8 7.4 3.8 3.6 2.4 5 4.3 8 8.8 6.4 3.8 5 1.8 5 1.3 14.6 1.4 13 .4 12-.1 10.4-1.1 12.6-3.2 3.4-1.2 4.6-.8 4.4-1.3 3.6-1.4 5-1.2 4-1.7 3-.4 8-2.4 4.4-.8 8-2.5 14-2.7 8.6-2.2 6-.8 8-1.8 12-1.7 4-.9 11-1 5 0 4.4-.9 9-.6 13-2 4.6-.9 9.4-1 10.6-.3 4.4-.7 8.6 .8 3.4-.1 4.6 .4 4.4-.4 3 .3 3 .9 5 .1 3 .5 8 .7 20.6 3.3 5 .4 4-.1 4 .5 4 .1 6-.5 5 .3 3.4-.3 9-.1 7.6 .7 3.4 .1 6.6 1.1 5 .5 4-.4 4.4-.9 5.6-.5 5.4-2 3.6 0 3.4-1 1 .2 2.6 1 1 .6 1 1 2 2.9 4 7.3 2 2.4 2 1.4 4.4 1.7 1.6 1.1 1 1 1.4 2.7 2 4.6 2 5.4 1.6 5.2 1 2 1 .9 7.4-1.9 1.6-.7 6-5.3 6.4-5.1 3.6-3.1 1-.3 2 .2 3-1.1 3-.1 3-1.4 2.4-.8 6-1 4.6-1.4 3.4-.3 3.6-1.7 4-.8 3-1 3.4-1.6 7-2.1 6-3.3 6-2 5-1.9 3.6-2.4 2.4-1.3 9-3.4 4-2.1 1 .1 4.6 2 1 .2 1-.1 2-1.2 3.4-3 4.6-2 4-2.2 2.4-.5 3-.2 1-.2 3-1.5 4.6-1.4 2.4-1.2 2-.6 2.6-1.5 5-2.2 4-.4 3.4-1.6 3-.9 3-1.8 2.6-.8 3-1.5 3.4-1.2 3-.4 3-1.1 4-1 3.6 .2 4-.5 2 .3 1.4 .7 3 1.8 4 1.2 4.6 1.7 11.4 5.9 2.6 .8 1 .6 2.4 2.6 1 .6 3 .6 7 2.6 7 .7 3.6 1.3 3 .4 4.4 1.7 6.6 1.2 1.4-.2 3-1.4 4-.9 1-.1 3 .6 5-1.5 4.6 .5 5.4-.7 5.6 .5 4 0 2.4-.4 3 .9 3.6 .3 3.4 0 1.6 .5 2 1.1 .4 .1 2.6-.6 3 2.2 4 2.1 1 .2 1.4-.2 5.6-1.6 2.4-1.9 1-.3 1.6 .4 3 2.4 3 .7 1 .1 1.4-1 2.6-3 2-1.7 1.4-.7 3.6-1 3-1.7 1.4-.1 2.6 1.1 3.4-1.7 8.6-1.5 3.4-1 1 .4 3 2.6 5 1.7 1-.4 2-1.8 .6-.2 1 .2 7.4 4.4 1 .3 4.6-2.2 1 0 3 .7 2.4 0 1-.2 2.6-1.6 1-.2 2.4 .5 2 0 3 1.5 3-.4 3 .4 2.6-.1 1-.5 2-1.7 1.4-.4 1 .5 2.6 4.3 1 .8 3.4-1.5 3 .1 2-.5 2.6-1.1 1-.1 3 1.5 3-.4 1 .3 3 2.4 3 1 3 2.8 2.4 0 4 .9 1.6-.2 3-2.6 3.4-1.4 2 0 4.6 1.7 3-.5 2 1 1 .1 2-.7 3.4-2.4" stroke="#ff9000"/>
</g>
<path d="M192.8 1241.5l2 2.9 1.4 1.5 6.6 2.3 6 .5 3 0 2-.3 3.4-2 5 .2 1-.2 1.6-1.4 3.4-5.3 6-6.4 2-1.1 4-.8 2-.6 2-1.3 1.6-1.5 7-8.8 3.4-5 2.6-4.1 3-6.6 1.4-2.1 3-2.1 6.6-3.4 4.4-4.1 4.6-2.8 5.4-2.7 6.6-2 5.4-2.7 9-6.2 6.6-5.2 5-4.5 12.4-14.1 8.6-11.2 8.4-10.1 7.6-10.1 11-17.5 10.4-17.7 9.6-18.5 3.4-6.2 5-7.7 6-8.2 4.6-5.7 1.4-1.3 11-7.9 9-5 4-2.7 3.6-1.3 5.4-2.8 11-2.6 5.6-.6 2-.9 6-5.3 15-11.2 4-3.7 13-13.5 4.4-5.1 5-4.9 7.6-5.7 2.4-1.7 6-3 6-1.3 4-.6 7.6-.1 3 .9 3 .4 1.4 .5 8.6 3.6 6.4 3.4 16.6 7.7 6.4 2.4 6 3.2 4.6 1.7 3 .9 6 2.7 11 4 6 1.5 4 .7 4.4 1.3 6.6 1.2 4-.1 3 .3 2.4-.2 7.6 .2 10-1.4 1.4-.4 12-4.5 2-.9 9.6-6.3 7.4-6 7.6-7 12.4-13.2 3.6-4.4 3.4-6.9 1-1.6 1-1.1 3.6-1.4 2.4-.5 2.6 .3 8.4 2.1 1.6 0 1.4-.6 3-2.5 4.6-4.4 4-5.3 2-2.3 5.4-4.5 2.6-1.7 5.4-2.8 11.6-7.7 4-3.3 5.4-3.5 11.6-9.6 3-2.2 5.4-3.5 11-5.4 5.6-3.3 5.4-4.5 4.6-4.3 4.4-3.7 11.6-11.2 5.4-4.1 9.6-6.3 8-4.1 15.4-7 8-3 5-3.1 7-3.2 4-1.5 8.6-2 4-1.3 5-.7 8-2.3 6-1 3 .2 6.4 2 1.6 .3 3.4-.4 5.6-1.2 17-2.2 5 .1 8.4-.8 4-.1 7.6-.5 31.4-.7 16 1.1 3.6-.1 5 .7 7 .4 3.4 0 3.6-.7 7-2.2 4.4-1.2 3-.5 4-1.2 6.6-1 4-.1 6-.7 19-.3 3.4-.4 6.6-.1 5-.9 11.4-1.2 4 0 5-.4 3.6-.8 5.4-.3 3.6-.7 3 .2 8-.6 4.4 .2 8-.8 10.6 .1 8-.4 4-.5 6 .2 8-.6 11.4-.1 4.6-.3 11.4 .2 4.6 .6 4.4-.5 5.6 .3 3.4-.1 13-1.3 4.6-.7 9.4-.8 10.6-.2 4.4-.9 8.6 .5 3.4-.3 4.6 0 4.4-.7 3 .1 3.6 .6 4-.4 3.4 .2 7.6-.2 4.4 .2 3-.2 3.6 .4 3.4-.2 5.6 .2 10-.7 8 .3 6-.6 5 .3 3.4-.4 8.6-.2 8 .5 3.4-.1 7.6 .5 3.4-.4 2-.4 11-4.1 3-1.6 4.6-3.5 3-1.6 3.4-2.8 1.6-.6 2-.5 1.4 .3 1 .7 5 6.5 1.6 1.4 1.4 .6 1.6 .1 3.4-.8 1.6 0 1.4 .3 1 .7 1.6 1.9 1.4 2.5 2 3.7 2.6 5.9 1 .9 7.4-2 1.6-.7 6-5.7 6.4-5.3 3.6-3.4 1-.2 2 .1 3-1.1 2.4 0 3.6-1.6 3-.9 5.4-.8 4.6-1.4 3.4-.2 3.6-1.7 4.4-.9 3-.9 3-1.4 7-1.9 5.6-3 4.4-1.5 7-2.6 3.6-2.5 2.4-1.2 9-3.3 3.6-1.9 1.4 0 4.6 2.4 1 .2 1-.1 2.4-1.5 3-2.6 4.6-1.8 4-2.1 2.4-.4 3 .1 1-.2 3-1.3 5-1.3 2-.9 2-.5 2.6-1.4 5-2 4-.1 3.4-1.5 3-.7 3-1.7 2.6-.7 3-1.4 4-1.1 3-.2 2.4-.9 4-.9 3 .4 4.6-.1 2.4 .8 4.6 3.3 3.4 1.5 4.6 2.4 11 7 3.4 1.7 3 3.4 1 .7 3 .8 7 3.3 7 1.2 3.6 1.5 3 .5 4 1.9 7 1.6 1.4-.2 3-1.4 4-.9 1-.1 2 .5 1 0 5-1.9 4.6 .1 5.4-1.2 5.6 .1 4-.4 2.4-.6 3 .5 3.6 .1 3.4-.4 1.6 .3 2 1 1-.1 1.4-.7 .6-.1 3 2 4 1.7 1 .2 1.4-.4 5.6-2.2 2.4-2.2 1-.5 1.6 .2 3 2.3 3 .4 1 0 1.4-1.2 2.6-3.4 2-2 1.4-1 3.6-1.4 3-2.1 1.4-.2 2.6 .9 3.4-2.2 8.6-2.5 3.4-1.3 1 .3 3 2.5 5 1.4 1-.6 2-1.9 .6-.3 1 .1 7.4 4.1 1 .2 4.6-2.6 1-.1 3 .4 2.4-.1 1-.4 2.6-1.8 1-.3 2.4 .3 2-.2 3 1.4 3-.8 3.6 .2 2-.1 1-.6 2-1.9 1.4-.4 1 .4 2.6 4.3 1 .8 3.4-1.9 3-.1 4.6-1.9 1-.2 3 1.4 3-.5 1 .3 3 2.3 3 1 3 2.8 2.4-.1 4 .7 1.6-.3 3-2.8 3.4-1.5 2 0 4.6 1.7 3-.7 2 .9 1 .2 2-.9 3.4-2.6" stroke="#000" stroke-width="8.0"/>
</g>
<rect x="1202.2" y="94.3" width="797.3" height="267.3" fill="#fff" stroke="#262626" stroke-width="5.3"/>
<path d="M1213 130.6H1297.5" stroke="#008c0a" stroke-width="8.2"/>
<path d="M1213 195.5H1297.5" stroke="#000" stroke-width="8.2"/>
<rect x="1213" y="289.8" width="84.5" height="3.6" fill="url(#g)"/>
</g>
</defs>
<use href="#fig" filter="url(#bl)"/>
<use href="#fig" opacity="0.7"/>
<g font-family="&quot;Liberation Serif&quot;,&quot;Times New Roman&quot;,serif" font-size="56" fill="#262626">
<text x="235.4" y="1598" text-anchor="middle">400</text>
<text x="405.6" y="1598" text-anchor="middle">600</text>
<text x="575.8" y="1598" text-anchor="middle">800</text>
<text x="746.0" y="1598" text-anchor="middle">1000</text>
<text x="916.2" y="1598" text-anchor="middle">1200</text>
<text x="1086.5" y="1598" text-anchor="middle">1400</text>
<text x="1256.7" y="1598" text-anchor="middle">1600</text>
<text x="1426.9" y="1598" text-anchor="middle">1800</text>
<text x="1597.1" y="1598" text-anchor="middle">2000</text>
<text x="1767.4" y="1598" text-anchor="middle">2200</text>
<text x="1937.6" y="1598" text-anchor="middle">2400</text>
<text x="175" y="1548.5" text-anchor="end">0</text>
<text x="175" y="1305.5" text-anchor="end">10</text>
<text x="175" y="1062.4" text-anchor="end">20</text>
<text x="175" y="819.4" text-anchor="end">30</text>
<text x="175" y="576.3" text-anchor="end">40</text>
<text x="175" y="333.2" text-anchor="end">50</text>
<text x="175" y="90.2" text-anchor="end">60</text>
<text x="1107.5" y="1663" text-anchor="middle" font-weight="bold" font-size="56">Wavelength / nm</text>
<text transform="translate(98 801) rotate(-90)" text-anchor="middle" font-weight="bold" font-size="56">Spectral Reflectance / %</text>
</g>
<g font-family="&quot;Liberation Serif&quot;,&quot;Times New Roman&quot;,serif" font-size="56" fill="#000">
<text x="1306" y="149.6">Dust-free leaves</text>
<text x="1306" y="213.6">Infinitely thick dust</text>
<text x="1306" y="278.8">Leaves with different amounts</text>
<text x="1306" y="341.5">of dustfall</text>
</g>
</svg>
</body></html>
